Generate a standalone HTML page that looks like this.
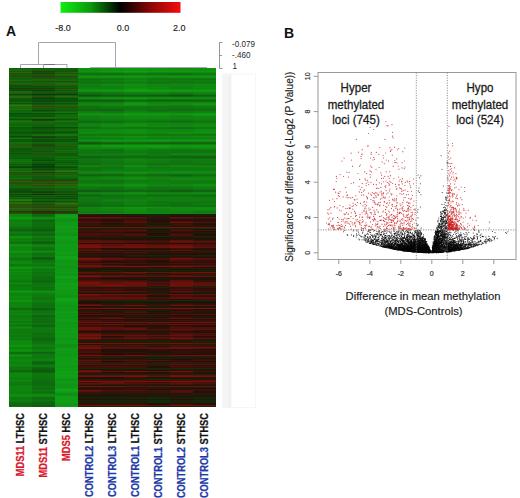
<!DOCTYPE html>
<html><head><meta charset="utf-8"><style>
html,body{margin:0;padding:0;background:#fff;}
body{width:520px;height:498px;position:relative;overflow:hidden;font-family:"Liberation Sans",sans-serif;}
.hc{position:absolute;top:68px;width:23px;height:339px;}
svg{position:absolute;left:0;top:0;}
</style></head><body>
<div class="hc" style="left:9px;background:linear-gradient(#0d630a 0px 1px,#0f6a0a 1px 2px,#325a0c 2px 3px,#0f5c0a 3px 4px,#3a5d0c 4px 5px,#0e590a 5px 6px,#23500b 6px 7px,#0a5f0a 7px 8px,#0e580a 8px 9px,#28560b 9px 10px,#0a610a 10px 11px,#1c5d0b 11px 12px,#2f600c 12px 13px,#0f5c0a 13px 14px,#0e630a 14px 15px,#0f6e0a 15px 16px,#374c0c 16px 17px,#0a570a 17px 18px,#0c4a0a 18px 19px,#0e560a 19px 20px,#0b430a 20px 21px,#22440b 21px 22px,#0c4c0a 22px 23px,#116e0a 23px 24px,#106a0a 24px 25px,#33540c 25px 26px,#10420a 26px 27px,#105c0a 27px 28px,#3a5f0c 28px 29px,#13700a 29px 30px,#12560a 30px 31px,#0e540a 31px 32px,#0c500a 32px 33px,#0d5a0a 33px 34px,#0a680a 34px 35px,#0a540a 35px 36px,#136d0a 36px 37px,#39740c 37px 38px,#2e600c 38px 39px,#26610b 39px 40px,#126e0a 40px 41px,#15740a 41px 42px,#14620a 42px 43px,#0e660a 43px 44px,#0b6d0a 44px 45px,#094a0a 45px 46px,#065e0a 46px 47px,#07580a 47px 48px,#0b570a 48px 49px,#0c750a 49px 50px,#0c630a 50px 51px,#104f0a 51px 52px,#146b0a 52px 53px,#326e0c 53px 54px,#11680a 54px 55px,#106f0a 55px 56px,#0d620a 56px 57px,#0d6a0a 57px 58px,#0e740a 58px 59px,#0c580a 59px 60px,#0a5f0a 60px 61px,#0b580a 61px 62px,#0f670a 62px 63px,#11580a 63px 64px,#0e530a 64px 65px,#0d590a 65px 66px,#0b670a 66px 67px,#09660a 67px 68px,#0b4b0a 68px 69px,#135a0a 69px 70px,#16760a 70px 71px,#11540a 71px 72px,#0e590a 72px 74px,#0f6e0a 74px 75px,#106f0a 75px 76px,#10640a 76px 77px,#2d570c 77px 78px,#37500c 78px 79px,#0d6d0a 79px 80px,#0a580a 80px 81px,#09560a 81px 82px,#095e0a 82px 83px,#0a5a0a 83px 84px,#1d580b 84px 85px,#0c530a 85px 86px,#0e630a 86px 87px,#0e5e0a 87px 88px,#0a690a 88px 89px,#09620a 89px 90px,#0c5f0a 90px 91px,#11710a 91px 92px,#146c0a 92px 93px,#12770a 93px 94px,#10680a 94px 95px,#0f6d0a 95px 96px,#0e560a 96px 97px,#0f6a0a 97px 98px,#0b4b0a 98px 99px,#0a450a 99px 100px,#136a0a 100px 101px,#14660a 101px 102px,#285f0b 102px 103px,#0d7b0a 103px 104px,#0e5a0a 104px 105px,#34510c 105px 106px,#0a5e0a 106px 107px,#2d5c0c 107px 108px,#0f630a 108px 109px,#11670a 109px 110px,#116d0a 110px 111px,#12620a 111px 112px,#244e0b 112px 113px,#32590c 113px 114px,#0b5f0a 114px 115px,#33440c 115px 116px,#2c580c 116px 117px,#26570b 117px 118px,#0e6f0a 118px 119px,#0e660a 119px 120px,#0d5e0a 120px 121px,#0b4c0a 121px 122px,#0b580a 122px 123px,#0c440a 123px 124px,#0d4b0a 124px 125px,#285b0b 125px 126px,#10450a 126px 127px,#0c640a 127px 128px,#0b4c0a 128px 129px,#0d6b0a 129px 130px,#0f5d0a 130px 131px,#14780a 131px 132px,#3e6e0c 132px 133px,#135d0a 133px 134px,#0f730a 134px 135px,#38670c 135px 136px,#1d580b 136px 137px,#2c510c 137px 138px,#2f520c 138px 139px,#2c4d0c 139px 140px,#216b0b 140px 141px,#30580c 141px 142px,#30560c 142px 143px,#0c460a 143px 144px,#26440b 144px 145px,#2c510b 145px 146px,#0e880e 146px 147px,#0e860e 147px 148px,#0e8a0e 148px 149px,#0e990e 149px 150px,#0e980e 150px 151px,#0e880e 151px 152px,#0e7f0e 152px 153px,#0e7d0e 153px 154px,#0e840e 154px 155px,#0e820e 155px 156px,#0e7e0e 156px 157px,#0e800e 157px 158px,#0e7a0e 158px 159px,#0e730e 159px 160px,#0e6f0e 160px 161px,#0e630e 161px 162px,#0e650e 162px 163px,#0e730e 163px 164px,#0e7d0e 164px 165px,#0e790e 165px 166px,#0e6e0e 166px 167px,#0e780e 167px 168px,#0e8e0e 168px 169px,#0e920e 169px 170px,#0e830e 170px 171px,#0e7b0e 171px 172px,#0e7f0e 172px 173px,#0e7c0e 173px 174px,#0e700e 174px 175px,#0e760e 175px 176px,#0e8f0e 176px 177px,#0e960e 177px 178px,#0e890e 178px 179px,#0e860e 179px 180px,#0e870e 180px 181px,#0e810e 181px 182px,#0e890e 182px 183px,#0e950e 183px 184px,#0e8f0e 184px 185px,#0e850e 185px 186px,#0e800e 186px 187px,#0e850e 187px 188px,#0e880e 188px 189px,#0e7c0e 189px 190px,#0e730e 190px 191px,#0e780e 191px 192px,#0e7f0e 192px 193px,#0e840e 193px 194px,#0e8c0e 194px 195px,#0e870e 195px 196px,#0e790e 196px 197px,#0e760e 197px 198px,#0e860e 198px 199px,#0e960e 199px 200px,#0e930e 200px 201px,#0e820e 201px 202px,#0e860e 202px 203px,#0e8f0e 203px 204px,#0e860e 204px 205px,#0e840e 205px 206px,#0e890e 206px 207px,#0e830e 207px 208px,#0e810e 208px 209px,#0e860e 209px 211px,#0e810e 211px 212px,#0e7b0e 212px 213px,#0e750e 213px 214px,#0e800e 214px 215px,#0e8a0e 215px 216px,#0e7c0e 216px 217px,#0e770e 217px 218px,#0e7d0e 218px 219px,#0e7e0e 219px 220px,#0e7d0e 220px 221px,#0e7c0e 221px 222px,#0e8b0e 222px 223px,#0e9a0e 223px 224px,#0e8f0e 224px 225px,#0e820e 225px 226px,#0e850e 226px 228px,#0e8b0e 228px 229px,#0e8f0e 229px 230px,#0e850e 230px 231px,#0e890e 231px 232px,#0e940e 232px 233px,#0e920e 233px 234px,#0e860e 234px 235px,#0e800e 235px 236px,#0e840e 236px 237px,#0e850e 237px 238px,#0e830e 238px 239px,#0e7d0e 239px 240px,#0e6c0e 240px 241px,#0e6b0e 241px 242px,#0e7f0e 242px 243px,#0e840e 243px 244px,#0e7c0e 244px 245px,#0e800e 245px 246px,#0e860e 246px 247px,#0e7c0e 247px 248px,#0e750e 248px 249px,#0e7e0e 249px 250px,#0e7f0e 250px 251px,#0e7e0e 251px 252px,#0e850e 252px 253px,#0e7a0e 253px 254px,#0e780e 254px 255px,#0e880e 255px 256px,#0e7f0e 256px 257px,#0e720e 257px 258px,#0e7e0e 258px 259px,#0e8b0e 259px 260px,#0e830e 260px 261px,#0e790e 261px 262px,#0e7c0e 262px 264px,#0e780e 264px 265px,#0e7c0e 265px 266px,#0e7d0e 266px 267px,#0e770e 267px 268px,#0e7a0e 268px 269px,#0e7f0e 269px 270px,#0e7c0e 270px 272px,#0e860e 272px 273px,#0e8b0e 273px 274px,#0e880e 274px 275px,#0e890e 275px 276px,#0e8c0e 276px 277px,#0e940e 277px 279px,#0e840e 279px 280px,#0e820e 280px 281px,#0e8b0e 281px 282px,#0e950e 282px 283px,#0e8b0e 283px 284px,#0e6e0e 284px 285px,#0e6d0e 285px 286px,#0e850e 286px 287px,#0e930e 287px 288px,#0e8a0e 288px 289px,#0e800e 289px 290px,#0e820e 290px 291px,#0e860e 291px 292px,#0e890e 292px 293px,#0e850e 293px 294px,#0e7e0e 294px 295px,#0e800e 295px 296px,#0e850e 296px 297px,#0e880e 297px 298px,#0e7f0e 298px 299px,#0e750e 299px 300px,#0e780e 300px 301px,#0e760e 301px 302px,#0e690e 302px 303px,#0e680e 303px 304px,#0e7a0e 304px 305px,#0e870e 305px 307px,#0e850e 307px 308px,#0e870e 308px 309px,#0e830e 309px 310px,#0e7b0e 310px 311px,#0e830e 311px 312px,#0e890e 312px 313px,#0e810e 313px 314px,#0e7a0e 314px 315px,#0e790e 315px 316px,#0e780e 316px 317px,#0e7e0e 317px 318px,#0e860e 318px 319px,#0e840e 319px 321px,#0e820e 321px 322px,#0e830e 322px 323px,#0e820e 323px 324px,#0e7f0e 324px 325px,#0e840e 325px 326px,#0e890e 326px 327px,#0e8f0e 327px 328px,#0e890e 328px 329px,#0e7a0e 329px 330px,#0e770e 330px 331px,#0e7b0e 331px 332px,#0e7d0e 332px 333px,#0e790e 333px 334px,#0e700e 334px 335px,#0e6a0e 335px 336px,#0e660e 336px 337px,#0e650e 337px 338px,#0e730e 338px 339px)"></div><div class="hc" style="left:32px;background:linear-gradient(#0f5b0a 0px 1px,#10610a 1px 2px,#2e520c 2px 3px,#0b4b0a 3px 4px,#27460c 4px 5px,#0b4a0a 5px 6px,#35470c 6px 7px,#0b580a 7px 8px,#0e4f0a 8px 9px,#204e0b 9px 10px,#0c5b0a 10px 11px,#3b570c 11px 12px,#235e0b 12px 13px,#11560a 13px 14px,#11600a 14px 15px,#11680a 15px 16px,#354d0c 16px 17px,#125e0a 17px 18px,#114b0a 18px 19px,#12530a 19px 20px,#10450a 20px 21px,#20470b 21px 22px,#0c420a 22px 23px,#0d5b0a 23px 24px,#0e5c0a 24px 25px,#1f4b0b 25px 26px,#0e340a 26px 27px,#10520a 27px 28px,#2f4f0c 28px 29px,#09510a 29px 30px,#0c3f0a 30px 31px,#0f4b0a 31px 32px,#0d480a 32px 33px,#0a4a0a 33px 34px,#095c0a 34px 35px,#0c4d0a 35px 36px,#0e5a0a 36px 37px,#275c0b 37px 38px,#36450c 38px 39px,#354e0c 39px 40px,#0f5e0a 40px 41px,#0f5c0a 41px 42px,#0c490a 42px 43px,#0e5b0a 43px 44px,#12700a 44px 45px,#0e490a 45px 46px,#0b5d0a 46px 47px,#0b560a 47px 48px,#0d500a 48px 49px,#12770a 49px 50px,#13660a 50px 51px,#0c3e0a 51px 52px,#0a4e0a 52px 53px,#375c0c 53px 54px,#13620a 54px 55px,#136b0a 55px 56px,#115f0a 56px 57px,#0d600a 57px 58px,#0b640a 58px 59px,#09480a 59px 60px,#0a540a 60px 61px,#0e550a 61px 62px,#10600a 62px 63px,#13510a 63px 64px,#104d0a 64px 65px,#0e510a 65px 66px,#116b0a 66px 67px,#14720a 67px 68px,#104a0a 68px 69px,#0c420a 69px 70px,#0f5e0a 70px 71px,#114a0a 71px 72px,#0e4e0a 72px 73px,#0d4b0a 73px 74px,#10660a 74px 75px,#0e620a 75px 76px,#0b510a 76px 77px,#2f420c 77px 78px,#25430b 78px 79px,#0e650a 79px 80px,#10590a 80px 81px,#125e0a 81px 82px,#0f600a 82px 83px,#0c540a 83px 84px,#31510c 84px 85px,#11540a 85px 86px,#11610a 86px 87px,#105a0a 87px 88px,#0d640a 88px 89px,#0c5e0a 89px 90px,#0e590a 90px 91px,#0a590a 91px 92px,#094c0a 92px 93px,#0d640a 93px 94px,#0d580a 94px 95px,#0b5a0a 95px 96px,#09410a 96px 97px,#08510a 97px 98px,#093e0a 98px 99px,#0c400a 99px 100px,#0c520a 100px 101px,#0a480a 101px 102px,#2e500c 102px 103px,#0b6c0a 103px 104px,#0b4b0a 104px 105px,#324c0c 105px 106px,#0d5a0a 106px 107px,#33540c 107px 108px,#105b0a 108px 109px,#0e590a 109px 110px,#0e5c0a 110px 111px,#10540a 111px 112px,#2c3e0b 112px 113px,#31500c 113px 114px,#0f5c0a 114px 115px,#36470c 115px 116px,#34570c 116px 117px,#34460c 117px 118px,#0e660a 118px 119px,#12650a 119px 120px,#115c0a 120px 121px,#114f0a 121px 122px,#145f0a 122px 123px,#11440a 123px 124px,#0d410a 124px 125px,#2b4b0c 125px 126px,#0d360a 126px 127px,#11630a 127px 128px,#124e0a 128px 129px,#0d610a 129px 130px,#0c4d0a 130px 131px,#0e620a 131px 132px,#1e560b 132px 133px,#0c460a 133px 134px,#0c630a 134px 135px,#1d5c0b 135px 136px,#234c0b 136px 137px,#214f0b 137px 138px,#2f4f0c 138px 139px,#23480b 139px 140px,#38590c 140px 141px,#244f0b 141px 142px,#334b0c 142px 143px,#0b3a0a 143px 144px,#302f0c 144px 145px,#28380c 145px 146px,#0e6c0e 146px 147px,#0e690e 147px 148px,#0e710e 148px 149px,#0e880e 149px 150px,#0e8e0e 150px 151px,#0e780e 151px 152px,#0e650e 152px 153px,#0e680e 153px 154px,#0e710e 154px 155px,#0e6e0e 155px 156px,#0e6d0e 156px 157px,#0e6f0e 157px 158px,#0e6b0e 158px 159px,#0e6a0e 159px 160px,#0e660e 160px 161px,#0e5c0e 161px 162px,#0e5d0e 162px 163px,#0e6a0e 163px 164px,#0e720e 164px 165px,#0e6b0e 165px 166px,#0e630e 166px 167px,#0e6e0e 167px 168px,#0e7c0e 168px 169px,#0e7b0e 169px 170px,#0e6f0e 170px 171px,#0e6e0e 171px 172px,#0e760e 172px 173px,#0e690e 173px 174px,#0e5a0e 174px 175px,#0e650e 175px 176px,#0e7b0e 176px 177px,#0e850e 177px 178px,#0e7f0e 178px 179px,#0e770e 179px 180px,#0e720e 180px 181px,#0e6f0e 181px 182px,#0e7d0e 182px 183px,#0e8d0e 183px 184px,#0e800e 184px 185px,#0e700e 185px 186px,#0e6f0e 186px 187px,#0e740e 187px 188px,#0e760e 188px 189px,#0e640e 189px 190px,#0e560e 190px 191px,#0e660e 191px 192px,#0e720e 192px 193px,#0e730e 193px 194px,#0e790e 194px 195px,#0e7f0e 195px 196px,#0e790e 196px 197px,#0e750e 197px 198px,#0e820e 198px 199px,#0e8a0e 199px 200px,#0e810e 200px 201px,#0e760e 201px 202px,#0e780e 202px 203px,#0e7b0e 203px 204px,#0e710e 204px 205px,#0e720e 205px 206px,#0e790e 206px 207px,#0e750e 207px 208px,#0e700e 208px 209px,#0e6f0e 209px 210px,#0e6c0e 210px 211px,#0e6b0e 211px 212px,#0e690e 212px 213px,#0e640e 213px 214px,#0e6c0e 214px 215px,#0e740e 215px 217px,#0e770e 217px 218px,#0e740e 218px 219px,#0e700e 219px 220px,#0e720e 220px 222px,#0e7f0e 222px 223px,#0e910e 223px 224px,#0e8d0e 224px 225px,#0e800e 225px 226px,#0e7c0e 226px 227px,#0e7b0e 227px 228px,#0e7a0e 228px 229px,#0e770e 229px 230px,#0e710e 230px 231px,#0e780e 231px 232px,#0e7c0e 232px 233px,#0e7d0e 233px 234px,#0e7b0e 234px 235px,#0e710e 235px 236px,#0e700e 236px 237px,#0e710e 237px 238px,#0e6f0e 238px 239px,#0e700e 239px 240px,#0e640e 240px 241px,#0e5d0e 241px 242px,#0e6d0e 242px 243px,#0e750e 243px 244px,#0e720e 244px 245px,#0e790e 245px 246px,#0e7a0e 246px 247px,#0e690e 247px 248px,#0e630e 248px 249px,#0e700e 249px 250px,#0e720e 250px 251px,#0e6b0e 251px 252px,#0e6d0e 252px 253px,#0e680e 253px 254px,#0e6b0e 254px 255px,#0e770e 255px 256px,#0e6f0e 256px 257px,#0e640e 257px 258px,#0e680e 258px 259px,#0e750e 259px 260px,#0e7b0e 260px 261px,#0e750e 261px 262px,#0e760e 262px 263px,#0e7b0e 263px 264px,#0e740e 264px 265px,#0e6d0e 265px 267px,#0e710e 267px 269px,#0e6c0e 269px 270px,#0e670e 270px 271px,#0e640e 271px 272px,#0e680e 272px 273px,#0e710e 273px 274px,#0e740e 274px 275px,#0e750e 275px 276px,#0e7a0e 276px 277px,#0e820e 277px 278px,#0e800e 278px 279px,#0e750e 279px 280px,#0e760e 280px 281px,#0e7c0e 281px 282px,#0e850e 282px 283px,#0e7b0e 283px 284px,#0e640e 284px 285px,#0e6a0e 285px 286px,#0e780e 286px 287px,#0e790e 287px 288px,#0e780e 288px 290px,#0e7d0e 290px 291px,#0e820e 291px 292px,#0e7e0e 292px 293px,#0e6f0e 293px 294px,#0e610e 294px 295px,#0e630e 295px 296px,#0e6d0e 296px 297px,#0e790e 297px 298px,#0e7a0e 298px 299px,#0e6b0e 299px 300px,#0e620e 300px 301px,#0e600e 301px 302px,#0e5b0e 302px 303px,#0e590e 303px 304px,#0e650e 304px 305px,#0e750e 305px 306px,#0e7a0e 306px 307px,#0e750e 307px 308px,#0e760e 308px 309px,#0e740e 309px 310px,#0e700e 310px 311px,#0e730e 311px 312px,#0e710e 312px 313px,#0e6c0e 313px 314px,#0e6a0e 314px 315px,#0e690e 315px 316px,#0e6a0e 316px 317px,#0e6f0e 317px 318px,#0e730e 318px 319px,#0e710e 319px 320px,#0e6d0e 320px 321px,#0e720e 321px 322px,#0e790e 322px 323px,#0e730e 323px 324px,#0e6e0e 324px 325px,#0e7a0e 325px 326px,#0e870e 326px 327px,#0e8d0e 327px 328px,#0e830e 328px 329px,#0e710e 329px 330px,#0e6c0e 330px 331px,#0e700e 331px 332px,#0e730e 332px 333px,#0e6e0e 333px 334px,#0e630e 334px 337px,#0e5a0e 337px 338px,#0e620e 338px 339px)"></div><div class="hc" style="left:55px;background:linear-gradient(#0e640a 0px 1px,#0a5f0a 1px 2px,#20510b 2px 3px,#0d590a 3px 4px,#32590c 4px 5px,#105c0a 5px 6px,#24650b 6px 7px,#106b0a 7px 8px,#0c560a 8px 9px,#2e520c 9px 10px,#0b630a 10px 11px,#205e0b 11px 12px,#395a0c 12px 13px,#0d570a 13px 14px,#0e640a 14px 15px,#12750a 15px 16px,#34580c 16px 17px,#12660a 17px 18px,#11550a 18px 19px,#125d0a 19px 20px,#12520a 20px 21px,#2b590b 21px 22px,#11570a 22px 23px,#0e660a 23px 24px,#0b5f0a 24px 25px,#1d500b 25px 26px,#0c390a 26px 27px,#115e0a 27px 28px,#33630c 28px 29px,#0e660a 29px 30px,#0d4b0a 30px 31px,#0c500a 31px 32px,#0a4c0a 32px 33px,#0a540a 33px 34px,#0b690a 34px 35px,#0a530a 35px 36px,#0c600a 36px 37px,#20690b 37px 38px,#30500c 38px 39px,#2c510c 39px 40px,#0c610a 40px 41px,#0f670a 41px 42px,#0f580a 42px 43px,#116b0a 43px 44px,#11790a 44px 45px,#0c500a 45px 46px,#0c6a0a 46px 47px,#116c0a 47px 48px,#12660a 48px 49px,#0d790a 49px 50px,#0d660a 50px 51px,#11510a 51px 52px,#12680a 52px 53px,#256f0b 53px 54px,#10650a 54px 55px,#0d6a0a 55px 56px,#0e640a 56px 57px,#11710a 57px 58px,#0c700a 58px 59px,#08500a 59px 60px,#0b600a 60px 61px,#10630a 61px 62px,#126d0a 62px 63px,#0f540a 63px 64px,#0e530a 64px 65px,#11630a 65px 66px,#12770a 66px 67px,#11770a 67px 68px,#11560a 68px 69px,#10540a 69px 70px,#0e660a 70px 71px,#0e4e0a 71px 72px,#0d570a 72px 73px,#0d560a 73px 74px,#0e6d0a 74px 75px,#0e6b0a 75px 76px,#10650a 76px 77px,#2d5c0b 77px 78px,#24510b 78px 79px,#0c6b0a 79px 80px,#0d5e0a 80px 81px,#10640a 81px 82px,#116d0a 82px 83px,#11680a 83px 84px,#23620b 84px 85px,#0e580a 85px 86px,#0c600a 86px 87px,#0b5a0a 87px 88px,#0e710a 88px 89px,#0f6d0a 89px 90px,#0f650a 90px 91px,#11720a 91px 92px,#0e600a 92px 93px,#08640a 93px 94px,#095a0a 94px 95px,#0c660a 95px 96px,#125d0a 96px 97px,#15750a 97px 98px,#10550a 98px 99px,#0d4c0a 99px 100px,#0e600a 100px 101px,#0f5d0a 101px 102px,#32660c 102px 103px,#11820a 103px 104px,#0f5d0a 104px 105px,#295a0b 105px 106px,#0e660a 106px 107px,#22670b 107px 108px,#126a0a 108px 109px,#10660a 109px 110px,#0c620a 110px 111px,#0b520a 111px 112px,#313c0c 112px 113px,#2c590c 113px 114px,#0f670a 114px 115px,#2d4f0c 115px 116px,#355f0c 116px 117px,#33580c 117px 118px,#11740a 118px 119px,#126d0a 119px 120px,#13690a 120px 121px,#125a0a 121px 122px,#11640a 122px 123px,#13510a 123px 124px,#11520a 124px 125px,#26560b 125px 126px,#0e420a 126px 127px,#0f690a 127px 128px,#0c4c0a 128px 129px,#09630a 129px 130px,#084e0a 130px 131px,#0a650a 131px 132px,#2c5c0c 132px 133px,#0d500a 133px 134px,#0d6f0a 134px 135px,#25730b 135px 136px,#3a5e0c 136px 137px,#205b0b 137px 138px,#1c590b 138px 139px,#224c0b 139px 140px,#27610c 140px 141px,#26530b 141px 142px,#37530c 142px 143px,#0c460a 143px 144px,#253f0b 144px 145px,#2b430c 145px 146px,#109716 146px 147px,#109c16 147px 148px,#10a116 148px 149px,#109e16 149px 150px,#109716 150px 151px,#109216 151px 152px,#109016 152px 153px,#109416 153px 154px,#109816 154px 155px,#109916 155px 156px,#109816 156px 158px,#109c16 158px 159px,#109e16 159px 160px,#109a16 160px 161px,#109716 161px 162px,#109816 162px 163px,#109a16 163px 164px,#109616 164px 165px,#109316 165px 166px,#109116 166px 167px,#109416 167px 168px,#109d16 168px 169px,#10a116 169px 170px,#109c16 170px 172px,#109b16 172px 173px,#109616 173px 174px,#109716 174px 175px,#109816 175px 176px,#109b16 176px 177px,#109c16 177px 178px,#109816 178px 179px,#109916 179px 180px,#109b16 180px 181px,#109916 181px 182px,#109b16 182px 183px,#109d16 183px 186px,#109a16 186px 187px,#109716 187px 188px,#109f16 188px 189px,#10a516 189px 190px,#10a216 190px 191px,#109d16 191px 192px,#109716 192px 193px,#109616 193px 195px,#109816 195px 196px,#109b16 196px 197px,#109916 197px 198px,#109516 198px 199px,#109316 199px 200px,#109716 200px 201px,#109916 201px 202px,#109716 202px 203px,#109a16 203px 204px,#109d16 204px 205px,#109716 205px 206px,#109316 206px 207px,#109816 207px 208px,#10a016 208px 209px,#10a316 209px 210px,#109d16 210px 211px,#109816 211px 212px,#109916 212px 213px,#109b16 213px 215px,#109f16 215px 216px,#10a116 216px 217px,#109e16 217px 218px,#109d16 218px 219px,#10a016 219px 220px,#109e16 220px 221px,#109b16 221px 223px,#109916 223px 224px,#109716 224px 225px,#109916 225px 226px,#109816 226px 227px,#109416 227px 228px,#109216 228px 229px,#109716 229px 230px,#10a016 230px 231px,#10a416 231px 232px,#10a116 232px 233px,#109e16 233px 234px,#109a16 234px 235px,#109916 235px 237px,#109516 237px 239px,#109816 239px 240px,#109716 240px 242px,#109916 242px 243px,#109b16 243px 244px,#109d16 244px 245px,#109b16 245px 246px,#109916 246px 247px,#109a16 247px 248px,#109916 248px 249px,#109716 249px 250px,#109916 250px 251px,#109d16 251px 252px,#109f16 252px 253px,#109c16 253px 254px,#109616 254px 255px,#109516 255px 256px,#109816 256px 257px,#109916 257px 258px,#109816 258px 259px,#109916 259px 260px,#109c16 260px 261px,#109a16 261px 262px,#109916 262px 263px,#109e16 263px 265px,#109b16 265px 268px,#109c16 268px 269px,#109a16 269px 270px,#109616 270px 272px,#109716 272px 273px,#109a16 273px 274px,#109b16 274px 275px,#109a16 275px 276px,#109216 276px 277px,#108e16 277px 278px,#109116 278px 279px,#109416 279px 280px,#109a16 280px 281px,#109e16 281px 282px,#109c16 282px 283px,#109916 283px 285px,#109816 285px 286px,#109716 286px 287px,#109616 287px 288px,#109816 288px 289px,#109c16 289px 290px,#109d16 290px 292px,#109b16 292px 293px,#109a16 293px 295px,#109d16 295px 296px,#109e16 296px 297px,#109b16 297px 298px,#109716 298px 299px,#109916 299px 300px,#109e16 300px 301px,#109b16 301px 303px,#10a016 303px 304px,#10a116 304px 305px,#109d16 305px 307px,#10a216 307px 308px,#10a016 308px 309px,#109c16 309px 310px,#109816 310px 311px,#109316 311px 312px,#109416 312px 313px,#109a16 313px 314px,#109c16 314px 315px,#109816 315px 316px,#109416 316px 317px,#109316 317px 318px,#109416 318px 319px,#109616 319px 320px,#109c16 320px 321px,#10a416 321px 322px,#10a616 322px 323px,#10a016 323px 324px,#109816 324px 325px,#109116 325px 326px,#108d16 326px 327px,#109216 327px 328px,#109a16 328px 329px,#109e16 329px 331px,#109d16 331px 333px,#109f16 333px 334px,#109e16 334px 335px,#109816 335px 336px,#109516 336px 337px,#109716 337px 338px,#109d16 338px 339px)"></div><div class="hc" style="left:78px;background:linear-gradient(#109410 0px 1px,#108e10 1px 3px,#109310 3px 4px,#108410 4px 5px,#107310 5px 6px,#107110 6px 7px,#108210 7px 8px,#109410 8px 9px,#108e10 9px 10px,#107910 10px 11px,#107010 11px 12px,#107710 12px 13px,#107610 13px 14px,#107010 14px 15px,#107a10 15px 16px,#108210 16px 17px,#107c10 17px 19px,#108110 19px 20px,#108210 20px 21px,#108e10 21px 22px,#109710 22px 23px,#108a10 23px 24px,#107610 24px 25px,#106f10 25px 26px,#106510 26px 27px,#105410 27px 28px,#106510 28px 29px,#108610 29px 30px,#108a10 30px 31px,#107110 31px 32px,#105b10 32px 33px,#106710 33px 34px,#107a10 34px 35px,#108610 35px 36px,#108810 36px 37px,#107e10 37px 38px,#107110 38px 39px,#107010 39px 40px,#107110 40px 41px,#106610 41px 42px,#106a10 42px 43px,#107910 43px 44px,#108110 44px 45px,#108d10 45px 46px,#109610 46px 47px,#108b10 47px 48px,#107e10 48px 50px,#107f10 50px 51px,#107c10 51px 52px,#107510 52px 53px,#106910 53px 54px,#106e10 54px 55px,#107f10 55px 56px,#108210 56px 57px,#108410 57px 58px,#107f10 58px 59px,#106f10 59px 60px,#107510 60px 61px,#108610 61px 62px,#108710 62px 63px,#108610 63px 64px,#108d10 64px 65px,#108710 65px 66px,#107710 66px 67px,#107a10 67px 68px,#108710 68px 69px,#108010 69px 70px,#107810 70px 71px,#108810 71px 72px,#109310 72px 73px,#108110 73px 74px,#106010 74px 75px,#105510 75px 76px,#107210 76px 77px,#109010 77px 79px,#108810 79px 80px,#108310 80px 81px,#107910 81px 82px,#107210 82px 83px,#107710 83px 84px,#107510 84px 85px,#107610 85px 86px,#107f10 86px 87px,#107510 87px 88px,#106610 88px 89px,#106410 89px 90px,#106f10 90px 91px,#107710 91px 92px,#107310 92px 93px,#107110 93px 95px,#106a10 95px 96px,#106b10 96px 97px,#107e10 97px 98px,#108210 98px 99px,#107410 99px 100px,#107110 100px 101px,#107010 101px 102px,#107510 102px 103px,#108010 103px 104px,#108610 104px 105px,#108110 105px 106px,#106810 106px 107px,#106410 107px 108px,#107410 108px 109px,#107c10 109px 110px,#108210 110px 111px,#107e10 111px 112px,#107610 112px 113px,#107510 113px 114px,#107610 114px 115px,#107d10 115px 116px,#108910 116px 118px,#107f10 118px 119px,#107610 119px 120px,#107510 120px 121px,#107310 121px 122px,#105d10 122px 124px,#107d10 124px 125px,#108310 125px 126px,#106f10 126px 127px,#106810 127px 128px,#106e10 128px 129px,#107810 129px 130px,#107c10 130px 131px,#107410 131px 132px,#107710 132px 133px,#107810 133px 134px,#106f10 134px 135px,#107010 135px 136px,#106c10 136px 137px,#106410 137px 138px,#107010 138px 139px,#108410 139px 140px,#108210 140px 141px,#108110 141px 142px,#108410 142px 143px,#107810 143px 144px,#107910 144px 145px,#108810 145px 146px,#3b0f0a 146px 147px,#1f1508 147px 148px,#290e0a 148px 149px,#6a110a 149px 150px,#52100a 150px 151px,#221108 151px 152px,#3b0f0a 152px 153px,#410f0a 153px 154px,#54100a 154px 155px,#380f0a 155px 156px,#410f0a 156px 157px,#1b1e08 157px 158px,#1f1508 158px 159px,#78120a 159px 160px,#152808 160px 161px,#2e0f0a 161px 162px,#4a100a 162px 163px,#3b0f0a 163px 164px,#2e0f0a 164px 165px,#47100a 165px 166px,#4b100a 166px 167px,#46100a 167px 168px,#1a1f08 168px 169px,#3a0f0a 169px 170px,#221008 170px 171px,#370f0a 171px 172px,#58100a 172px 173px,#5c110a 173px 174px,#5f110a 174px 175px,#2a0e0a 175px 176px,#68110a 176px 177px,#77120a 177px 178px,#72120a 178px 179px,#7a120a 179px 180px,#46100a 180px 181px,#45100a 181px 182px,#69110a 182px 183px,#1f1508 183px 184px,#4e100a 184px 185px,#2b0e0a 185px 186px,#320f0a 186px 187px,#1a1f08 187px 188px,#201308 188px 189px,#46100a 189px 190px,#7a120a 190px 192px,#4b100a 192px 193px,#48100a 193px 194px,#290e0a 194px 195px,#5a110a 195px 196px,#43100a 196px 197px,#6c110a 197px 198px,#7a120a 198px 199px,#48100a 199px 200px,#1c1b08 200px 201px,#230e0a 201px 202px,#1d1908 202px 203px,#1c1c08 203px 204px,#60110a 204px 205px,#4a100a 205px 206px,#1f1508 206px 207px,#6a110a 207px 208px,#7a120a 208px 209px,#45100a 209px 210px,#300f0a 210px 211px,#380f0a 211px 212px,#48100a 212px 213px,#59100a 213px 214px,#79120a 214px 215px,#74120a 215px 216px,#68110a 216px 217px,#74120a 217px 218px,#57100a 218px 219px,#1b1d08 219px 220px,#390f0a 220px 221px,#44100a 221px 222px,#211208 222px 223px,#5c110a 223px 224px,#340f0a 224px 225px,#201508 225px 226px,#77120a 226px 227px,#62110a 227px 228px,#4a100a 228px 229px,#5b110a 229px 230px,#62110a 230px 231px,#4f100a 231px 232px,#162708 232px 233px,#211208 233px 234px,#230e0a 234px 235px,#211108 235px 236px,#55100a 236px 237px,#73120a 237px 238px,#270e0a 238px 239px,#1f1608 239px 240px,#7a120a 240px 241px,#2d0e0a 241px 242px,#1d1a08 242px 243px,#410f0a 243px 244px,#48100a 244px 245px,#201408 245px 246px,#59110a 246px 247px,#270e0a 247px 248px,#201508 248px 249px,#3e0f0a 249px 250px,#50100a 250px 251px,#211208 251px 252px,#4d100a 252px 253px,#400f0a 253px 254px,#7a120a 254px 255px,#1f1508 255px 256px,#62110a 256px 257px,#360f0a 257px 258px,#430f0a 258px 259px,#6e110a 259px 260px,#69110a 260px 261px,#6c110a 261px 262px,#47100a 262px 263px,#201408 263px 264px,#211108 264px 265px,#5f110a 265px 266px,#62110a 266px 267px,#7a120a 267px 268px,#59110a 268px 269px,#77120a 269px 270px,#7a120a 270px 271px,#46100a 271px 272px,#192008 272px 273px,#1b1c08 273px 274px,#1e1808 274px 275px,#7a120a 275px 276px,#221008 276px 277px,#6f110a 277px 278px,#4f100a 278px 279px,#7a120a 279px 280px,#6d110a 280px 281px,#410f0a 281px 282px,#380f0a 282px 283px,#44100a 283px 284px,#4a100a 284px 285px,#2d0e0a 285px 286px,#390f0a 286px 287px,#73120a 287px 288px,#1b1e08 288px 289px,#53100a 289px 290px,#201408 290px 291px,#3e0f0a 291px 292px,#63110a 292px 293px,#420f0a 293px 294px,#57100a 294px 295px,#182308 295px 296px,#5a110a 296px 297px,#1f1608 297px 298px,#44100a 298px 299px,#3c0f0a 299px 300px,#132c08 300px 301px,#290e0a 301px 302px,#5f110a 302px 303px,#7a120a 303px 304px,#45100a 304px 305px,#370f0a 305px 306px,#182208 306px 307px,#60110a 307px 308px,#6f120a 308px 309px,#260e0a 309px 310px,#211108 310px 311px,#182408 311px 312px,#47100a 312px 313px,#7a120a 313px 314px,#400f0a 314px 315px,#64110a 315px 316px,#4f100a 316px 317px,#201408 317px 318px,#74120a 318px 319px,#1d1a08 319px 320px,#270e0a 320px 321px,#3d0f0a 321px 322px,#68110a 322px 323px,#55100a 323px 324px,#3f0f0a 324px 325px,#1d1908 325px 326px,#192008 326px 327px,#221008 327px 328px,#1d1908 328px 329px,#1c1c08 329px 331px,#211208 331px 332px,#172408 332px 333px,#1a1f08 333px 334px,#182308 334px 335px,#310f0a 335px 336px,#390f0a 336px 337px,#7a120a 337px 338px,#182208 338px 339px)"></div><div class="hc" style="left:101px;background:linear-gradient(#109810 0px 1px,#109410 1px 2px,#109710 2px 3px,#109910 3px 4px,#108710 4px 5px,#107310 5px 6px,#107010 6px 7px,#108510 7px 8px,#109710 8px 9px,#108f10 9px 10px,#107c10 10px 11px,#107510 11px 12px,#107c10 12px 14px,#107310 14px 15px,#107c10 15px 16px,#108910 16px 17px,#108510 17px 18px,#108210 18px 19px,#108010 19px 21px,#108d10 21px 22px,#109a10 22px 23px,#109110 23px 24px,#107c10 24px 25px,#107510 25px 26px,#107010 26px 27px,#105b10 27px 28px,#106810 28px 29px,#108c10 29px 30px,#109110 30px 31px,#107510 31px 32px,#105c10 32px 33px,#106610 33px 34px,#107a10 34px 35px,#108610 35px 36px,#108b10 36px 37px,#108610 37px 38px,#107a10 38px 39px,#107610 39px 40px,#107410 40px 41px,#106610 41px 42px,#106910 42px 43px,#107510 43px 44px,#107b10 44px 45px,#108b10 45px 46px,#109610 46px 47px,#108d10 47px 48px,#108310 48px 49px,#108510 49px 50px,#108310 50px 51px,#107d10 51px 52px,#107910 52px 53px,#106e10 53px 54px,#107110 54px 55px,#108510 55px 56px,#108b10 56px 57px,#108c10 57px 58px,#108a10 58px 59px,#107b10 59px 60px,#107910 60px 61px,#108610 61px 62px,#108b10 62px 63px,#108a10 63px 64px,#108c10 64px 65px,#108510 65px 66px,#107610 66px 67px,#107a10 67px 68px,#108b10 68px 69px,#108510 69px 70px,#107910 70px 71px,#108810 71px 72px,#109810 72px 73px,#108d10 73px 74px,#106d10 74px 75px,#106010 75px 76px,#107d10 76px 77px,#109b10 77px 78px,#109910 78px 79px,#108f10 79px 80px,#108510 80px 81px,#107810 81px 82px,#106e10 82px 83px,#107210 83px 84px,#107510 84px 85px,#107810 85px 86px,#108010 86px 87px,#107810 87px 88px,#106c10 88px 89px,#106910 89px 90px,#107310 90px 91px,#107f10 91px 92px,#107c10 92px 93px,#107710 93px 95px,#107510 95px 96px,#107610 96px 97px,#107e10 97px 98px,#107c10 98px 99px,#107210 99px 100px,#107510 100px 101px,#107810 101px 102px,#107d10 102px 103px,#108510 103px 104px,#108910 104px 105px,#108210 105px 106px,#106910 106px 107px,#106610 107px 108px,#107910 108px 109px,#108510 109px 110px,#108910 110px 111px,#107d10 111px 112px,#107310 112px 113px,#107410 113px 115px,#107910 115px 116px,#108710 116px 117px,#108a10 117px 118px,#107f10 118px 119px,#107310 119px 120px,#107110 120px 121px,#106f10 121px 122px,#106110 122px 123px,#106510 123px 124px,#108210 124px 125px,#108810 125px 126px,#107810 126px 127px,#107110 127px 128px,#107010 128px 129px,#107110 129px 130px,#107a10 130px 131px,#107d10 131px 132px,#108010 132px 133px,#107d10 133px 134px,#107210 134px 135px,#107710 135px 136px,#107510 136px 137px,#106a10 137px 138px,#107710 138px 139px,#108d10 139px 140px,#108a10 140px 141px,#108410 141px 142px,#108710 142px 143px,#107d10 143px 145px,#108c10 145px 146px,#290e0a 146px 147px,#1d1a08 147px 148px,#2c0e0a 148px 149px,#65110a 149px 150px,#48100a 150px 151px,#201408 151px 152px,#270e0a 152px 153px,#2e0f0a 153px 154px,#44100a 154px 155px,#221108 155px 156px,#2d0f0a 156px 157px,#192108 157px 158px,#1d1908 158px 159px,#74120a 159px 160px,#162608 160px 161px,#350f0a 161px 162px,#55100a 162px 163px,#420f0a 163px 164px,#2c0e0a 164px 165px,#420f0a 165px 166px,#400f0a 166px 167px,#3f0f0a 167px 168px,#1a2008 168px 169px,#340f0a 169px 170px,#201408 170px 171px,#270e0a 171px 172px,#4a100a 172px 173px,#59110a 173px 174px,#5c110a 174px 175px,#230e0a 175px 176px,#5e110a 176px 178px,#65110a 178px 179px,#74120a 179px 180px,#230e0a 180px 181px,#270e0a 181px 182px,#59110a 182px 183px,#1d1a08 183px 184px,#48100a 184px 185px,#221008 185px 186px,#340f0a 186px 187px,#1e1808 187px 188px,#240e0a 188px 189px,#3e0f0a 189px 190px,#5d110a 190px 191px,#60110a 191px 192px,#360f0a 192px 193px,#2b0e0a 193px 194px,#201408 194px 195px,#4d100a 195px 196px,#290e0a 196px 197px,#4b100a 197px 198px,#7a120a 198px 199px,#330f0a 199px 200px,#1c1b08 200px 201px,#201408 201px 202px,#192008 202px 203px,#1c1c08 203px 204px,#64110a 204px 205px,#390f0a 205px 206px,#1a1f08 206px 207px,#51100a 207px 208px,#6e110a 208px 209px,#2c0e0a 209px 210px,#221008 210px 211px,#320f0a 211px 212px,#48100a 212px 213px,#4f100a 213px 214px,#5c110a 214px 215px,#5f110a 215px 216px,#6b110a 216px 217px,#7a120a 217px 218px,#6d110a 218px 219px,#1e1708 219px 220px,#380f0a 220px 221px,#44100a 221px 222px,#290e0a 222px 223px,#63110a 223px 224px,#380f0a 224px 225px,#211208 225px 226px,#6b110a 226px 227px,#4d100a 227px 228px,#48100a 228px 229px,#63110a 229px 230px,#65110a 230px 231px,#4a100a 231px 232px,#132b08 232px 233px,#1f1508 233px 234px,#201408 234px 235px,#1b1c08 235px 236px,#360f0a 236px 237px,#5c110a 237px 238px,#1f1508 238px 239px,#1c1b08 239px 240px,#7a120a 240px 241px,#240e0a 241px 242px,#1b1e08 242px 243px,#2f0f0a 243px 244px,#370f0a 244px 245px,#1e1808 245px 246px,#51100a 246px 247px,#230e0a 247px 248px,#201408 248px 249px,#4d100a 249px 250px,#62110a 250px 251px,#221108 251px 252px,#430f0a 252px 253px,#310f0a 253px 254px,#7a120a 254px 255px,#211208 255px 256px,#68110a 256px 257px,#350f0a 257px 258px,#390f0a 258px 259px,#5b110a 259px 260px,#58100a 260px 261px,#57100a 261px 262px,#370f0a 262px 263px,#240e0a 263px 264px,#211108 264px 265px,#3c0f0a 265px 266px,#43100a 266px 267px,#60110a 267px 268px,#260e0a 268px 269px,#390f0a 269px 270px,#57100a 270px 271px,#320f0a 271px 272px,#192008 272px 273px,#1c1c08 273px 274px,#1a1e08 274px 275px,#6d110a 275px 276px,#1b1d08 276px 277px,#52100a 277px 278px,#390f0a 278px 279px,#64110a 279px 280px,#4d100a 280px 281px,#260e0a 281px 282px,#211208 282px 283px,#220e0a 283px 284px,#330f0a 284px 285px,#230e0a 285px 286px,#250e0a 286px 287px,#5d110a 287px 288px,#172408 288px 289px,#400f0a 289px 290px,#1e1808 290px 291px,#310f0a 291px 292px,#4f100a 292px 293px,#230e0a 293px 294px,#3d0f0a 294px 295px,#162608 295px 296px,#59100a 296px 297px,#211208 297px 298px,#4e100a 298px 299px,#3a0f0a 299px 300px,#122e08 300px 301px,#201408 301px 302px,#360f0a 302px 303px,#5c110a 303px 304px,#270e0a 304px 305px,#300f0a 305px 306px,#172408 306px 307px,#5c110a 307px 308px,#70120a 308px 309px,#250e0a 309px 310px,#221008 310px 311px,#172408 311px 312px,#420f0a 312px 313px,#7a120a 313px 314px,#5e110a 314px 315px,#67110a 315px 316px,#430f0a 316px 317px,#1f1608 317px 318px,#6d110a 318px 319px,#1a1f08 319px 320px,#211208 320px 321px,#350f0a 321px 322px,#51100a 322px 323px,#400f0a 323px 324px,#3d0f0a 324px 325px,#1d1908 325px 326px,#192108 326px 327px,#220e0a 327px 328px,#1c1b08 328px 329px,#192208 329px 330px,#182208 330px 331px,#1f1608 331px 332px,#172508 332px 333px,#192108 333px 334px,#152808 334px 335px,#2f0f0a 335px 336px,#380f0a 336px 337px,#79120a 337px 338px,#182308 338px 339px)"></div><div class="hc" style="left:124px;background:linear-gradient(#109b10 0px 1px,#109610 1px 2px,#109910 2px 3px,#10a010 3px 4px,#109110 4px 5px,#107a10 5px 6px,#107810 6px 7px,#108b10 7px 8px,#109910 8px 9px,#109410 9px 10px,#108510 10px 11px,#107f10 11px 12px,#108810 12px 13px,#108410 13px 14px,#107a10 14px 15px,#108610 15px 16px,#109010 16px 17px,#108c10 17px 20px,#108f10 20px 21px,#109c10 21px 22px,#10a410 22px 23px,#109710 23px 24px,#108310 24px 25px,#107b10 25px 26px,#107210 26px 27px,#105e10 27px 28px,#106b10 28px 29px,#108e10 29px 30px,#109610 30px 31px,#107e10 31px 32px,#106910 32px 33px,#107710 33px 34px,#108b10 34px 35px,#109810 35px 36px,#109910 36px 37px,#108c10 37px 38px,#107a10 38px 39px,#107310 39px 40px,#107710 40px 41px,#107310 41px 42px,#107910 42px 43px,#108110 43px 44px,#108710 44px 45px,#109710 45px 46px,#109d10 46px 47px,#109210 47px 48px,#108a10 48px 49px,#108c10 49px 50px,#108b10 50px 51px,#108410 51px 52px,#107d10 52px 53px,#107710 53px 54px,#107d10 54px 55px,#108d10 55px 56px,#109110 56px 57px,#109410 57px 58px,#108c10 58px 59px,#107510 59px 60px,#107810 60px 61px,#108c10 61px 62px,#109010 62px 63px,#108e10 63px 64px,#109210 64px 65px,#108b10 65px 66px,#107b10 66px 67px,#107d10 67px 68px,#109010 68px 69px,#108e10 69px 70px,#108310 70px 71px,#108e10 71px 72px,#109810 72px 73px,#108d10 73px 74px,#107310 74px 75px,#106810 75px 76px,#108210 76px 77px,#109c10 77px 78px,#109a10 78px 79px,#109410 79px 80px,#108e10 80px 81px,#108610 81px 82px,#107e10 82px 83px,#107b10 83px 84px,#107a10 84px 85px,#108110 85px 86px,#108610 86px 87px,#107710 87px 88px,#106a10 88px 89px,#106c10 89px 90px,#107b10 90px 91px,#108610 91px 92px,#108410 92px 93px,#108210 93px 94px,#108010 94px 95px,#107910 95px 97px,#108a10 97px 98px,#108e10 98px 99px,#108110 99px 100px,#108010 100px 101px,#107d10 101px 103px,#108810 103px 104px,#109110 104px 105px,#108d10 105px 106px,#107610 106px 107px,#107210 107px 108px,#108110 108px 109px,#108a10 109px 110px,#108f10 110px 111px,#108510 111px 112px,#107c10 112px 113px,#107d10 113px 115px,#108510 115px 116px,#109110 116px 117px,#109210 117px 118px,#108a10 118px 119px,#107e10 119px 120px,#107b10 120px 121px,#107810 121px 122px,#106710 122px 123px,#106b10 123px 124px,#108910 124px 125px,#109210 125px 126px,#108010 126px 127px,#107610 127px 128px,#107710 128px 129px,#107a10 129px 130px,#108110 130px 131px,#108010 131px 132px,#108310 132px 134px,#107b10 134px 135px,#108210 135px 136px,#108010 136px 137px,#107310 137px 138px,#107d10 138px 139px,#109410 139px 140px,#109310 140px 141px,#108b10 141px 142px,#108f10 142px 143px,#108a10 143px 144px,#108510 144px 145px,#108d10 145px 146px,#1f1608 146px 147px,#192008 147px 148px,#211208 148px 149px,#5b110a 149px 150px,#4b100a 150px 151px,#310f0a 151px 152px,#48100a 152px 153px,#47100a 153px 154px,#5a110a 154px 155px,#310f0a 155px 156px,#3c0f0a 156px 157px,#1b1e08 157px 158px,#201408 158px 159px,#7a120a 159px 160px,#192108 160px 161px,#3a0f0a 161px 162px,#56100a 162px 163px,#3c0f0a 163px 164px,#250e0a 164px 165px,#46100a 165px 166px,#4f100a 166px 167px,#44100a 167px 168px,#182208 168px 169px,#2d0e0a 169px 170px,#1e1708 170px 171px,#211208 171px 172px,#420f0a 172px 173px,#4f100a 173px 174px,#50100a 174px 175px,#221008 175px 176px,#67110a 176px 177px,#6b110a 177px 178px,#67110a 178px 179px,#77120a 179px 180px,#2f0f0a 180px 181px,#221008 181px 182px,#4d100a 182px 183px,#1c1b08 183px 184px,#50100a 184px 185px,#330f0a 185px 186px,#2c0e0a 186px 187px,#172408 187px 188px,#1d1908 188px 189px,#2d0f0a 189px 190px,#50100a 190px 191px,#52100a 191px 192px,#320f0a 192px 193px,#360f0a 193px 194px,#211308 194px 195px,#48100a 195px 196px,#220e0a 196px 197px,#3e0f0a 197px 198px,#79120a 198px 199px,#420f0a 199px 200px,#1d1908 200px 201px,#211308 201px 202px,#1c1b08 202px 203px,#1f1608 203px 204px,#7a120a 204px 205px,#49100a 205px 206px,#1b1d08 206px 207px,#53100a 207px 208px,#63110a 208px 209px,#201408 209px 210px,#1e1808 210px 211px,#240e0a 211px 212px,#420f0a 212px 213px,#4d100a 213px 214px,#68110a 214px 215px,#70120a 215px 216px,#65110a 216px 217px,#6a110a 217px 218px,#5e110a 218px 219px,#1e1808 219px 220px,#310f0a 220px 221px,#320f0a 221px 222px,#211208 222px 223px,#5c110a 223px 224px,#2f0f0a 224px 225px,#201408 225px 226px,#6d110a 226px 227px,#4c100a 227px 228px,#400f0a 228px 229px,#62110a 229px 230px,#68110a 230px 231px,#47100a 231px 232px,#122e08 232px 233px,#1d1a08 233px 234px,#1e1708 234px 235px,#1b1d08 235px 236px,#350f0a 236px 237px,#6f110a 237px 238px,#300f0a 238px 239px,#1d1908 239px 240px,#7a120a 240px 241px,#201408 241px 242px,#1c1c08 242px 243px,#46100a 243px 244px,#4e100a 244px 245px,#201308 245px 246px,#48100a 246px 247px,#1d1908 247px 248px,#1a1e08 248px 249px,#2d0f0a 249px 250px,#4f100a 250px 251px,#201408 251px 252px,#360f0a 252px 253px,#2d0e0a 253px 254px,#7a120a 254px 255px,#1e1708 255px 256px,#5b110a 256px 257px,#250e0a 257px 258px,#221008 258px 259px,#49100a 259px 260px,#5e110a 260px 261px,#6c110a 261px 262px,#350f0a 262px 263px,#1f1608 263px 264px,#201308 264px 265px,#420f0a 265px 266px,#430f0a 266px 267px,#68110a 267px 268px,#44100a 268px 269px,#59110a 269px 270px,#69110a 270px 271px,#350f0a 271px 272px,#192108 272px 273px,#1c1b08 273px 274px,#1b1d08 274px 275px,#73120a 275px 276px,#1e1708 276px 277px,#5b110a 277px 278px,#390f0a 278px 279px,#63110a 279px 280px,#4a100a 280px 281px,#230e0a 281px 282px,#211308 282px 283px,#250e0a 283px 284px,#330f0a 284px 285px,#201508 285px 286px,#250e0a 286px 287px,#74120a 287px 288px,#182208 288px 289px,#3a0f0a 289px 290px,#1f1608 290px 291px,#350f0a 291px 292px,#52100a 292px 293px,#340f0a 293px 294px,#4a100a 294px 295px,#172408 295px 296px,#5a110a 296px 297px,#1e1808 297px 298px,#400f0a 298px 299px,#3f0f0a 299px 300px,#142b08 300px 301px,#1e1708 301px 302px,#310f0a 302px 303px,#6e110a 303px 304px,#330f0a 304px 305px,#2c0e0a 305px 306px,#192208 306px 307px,#68110a 307px 308px,#7a120a 308px 309px,#3a0f0a 309px 310px,#2f0f0a 310px 311px,#192108 311px 312px,#4c100a 312px 313px,#7a120a 313px 314px,#400f0a 314px 315px,#5b110a 315px 316px,#3c0f0a 316px 317px,#1b1d08 317px 318px,#5e110a 318px 319px,#1d1908 319px 320px,#360f0a 320px 321px,#3a0f0a 321px 322px,#4c100a 322px 323px,#3d0f0a 323px 324px,#420f0a 324px 325px,#1f1608 325px 326px,#1a2008 326px 327px,#280e0a 327px 328px,#1d1a08 328px 329px,#182208 329px 330px,#192108 330px 331px,#1f1608 331px 332px,#152808 332px 333px,#1a1f08 333px 334px,#182208 334px 335px,#350f0a 335px 336px,#3a0f0a 336px 337px,#76120a 337px 338px,#182308 338px 339px)"></div><div class="hc" style="left:147px;background:linear-gradient(#109610 0px 1px,#109310 1px 2px,#109710 2px 3px,#109a10 3px 4px,#108710 4px 5px,#107510 5px 7px,#108610 7px 8px,#109510 8px 9px,#108b10 9px 10px,#107a10 10px 11px,#107710 11px 12px,#107d10 12px 13px,#107b10 13px 14px,#107210 14px 15px,#107a10 15px 16px,#108610 16px 17px,#108510 17px 18px,#108710 18px 19px,#108910 19px 21px,#109310 21px 22px,#109d10 22px 23px,#109810 23px 24px,#108710 24px 25px,#107b10 25px 26px,#107010 26px 27px,#105b10 27px 28px,#106a10 28px 29px,#108c10 29px 30px,#108e10 30px 31px,#107310 31px 32px,#106010 32px 33px,#106f10 33px 34px,#108210 34px 35px,#108810 35px 36px,#108d10 36px 37px,#108710 37px 38px,#107710 38px 39px,#107410 39px 40px,#107810 40px 41px,#107010 41px 43px,#107810 43px 44px,#108310 44px 45px,#109510 45px 46px,#109910 46px 47px,#108f10 47px 48px,#108a10 48px 49px,#108b10 49px 50px,#108810 50px 51px,#108110 51px 52px,#107910 52px 53px,#107110 53px 54px,#107a10 54px 55px,#108810 55px 56px,#108410 56px 57px,#108910 57px 58px,#108b10 58px 59px,#107610 59px 60px,#107310 60px 61px,#108410 61px 62px,#108810 62px 64px,#108d10 64px 65px,#108510 65px 66px,#107610 66px 67px,#107a10 67px 68px,#108a10 68px 69px,#108310 69px 70px,#107d10 70px 71px,#109010 71px 72px,#109b10 72px 73px,#108c10 73px 74px,#106f10 74px 75px,#106410 75px 76px,#108110 76px 77px,#109d10 77px 78px,#109f10 78px 79px,#109710 79px 80px,#108910 80px 81px,#107c10 81px 82px,#107710 82px 83px,#107810 83px 84px,#107510 84px 86px,#107d10 86px 87px,#107710 87px 88px,#106d10 88px 89px,#106a10 89px 90px,#107510 90px 91px,#108110 91px 92px,#107d10 92px 93px,#107b10 93px 95px,#107210 95px 96px,#107010 96px 97px,#107d10 97px 98px,#108010 98px 99px,#107710 99px 100px,#107b10 100px 101px,#107d10 101px 102px,#108010 102px 103px,#108810 103px 104px,#108c10 104px 105px,#108510 105px 106px,#106d10 106px 107px,#106c10 107px 108px,#107a10 108px 109px,#107e10 109px 110px,#108610 110px 111px,#108110 111px 112px,#107a10 112px 113px,#107e10 113px 114px,#108010 114px 115px,#108110 115px 116px,#108710 116px 117px,#108510 117px 118px,#107e10 118px 119px,#107510 119px 120px,#107310 120px 121px,#107510 121px 122px,#106510 122px 124px,#107f10 124px 125px,#108710 125px 126px,#107610 126px 127px,#106e10 127px 128px,#107410 128px 129px,#107e10 129px 130px,#108310 130px 131px,#107e10 131px 132px,#107d10 132px 133px,#107910 133px 134px,#107110 134px 135px,#107910 135px 136px,#107710 136px 137px,#106e10 137px 138px,#107c10 138px 139px,#109010 139px 140px,#108910 140px 141px,#108010 141px 142px,#108410 142px 143px,#108010 143px 144px,#108210 144px 145px,#108c10 145px 146px,#1c1b08 146px 147px,#162708 147px 148px,#1c1a08 148px 149px,#400f0a 149px 150px,#290e0a 150px 151px,#1d1a08 151px 152px,#240e0a 152px 153px,#2e0f0a 153px 154px,#300f0a 154px 155px,#1b1d08 155px 156px,#201408 156px 157px,#162608 157px 158px,#1b1e08 158px 159px,#66110a 159px 160px,#132d08 160px 161px,#221008 161px 162px,#370f0a 162px 163px,#201308 163px 164px,#1c1c08 164px 165px,#221108 165px 166px,#250e0a 166px 167px,#211308 167px 168px,#132d08 168px 169px,#221008 169px 170px,#1f1608 170px 171px,#221008 171px 172px,#400f0a 172px 173px,#48100a 173px 174px,#45100a 174px 175px,#1d1a08 175px 176px,#4a100a 176px 177px,#64110a 177px 178px,#63110a 178px 179px,#6c110a 179px 180px,#2c0e0a 180px 181px,#240e0a 181px 182px,#49100a 182px 183px,#1a2008 183px 184px,#390f0a 184px 185px,#211208 185px 186px,#221108 186px 187px,#162608 187px 188px,#1b1d08 188px 189px,#211208 189px 190px,#47100a 190px 191px,#4b100a 191px 192px,#201408 192px 193px,#211108 193px 194px,#201408 194px 195px,#3a0f0a 195px 196px,#1f1608 196px 197px,#400f0a 197px 198px,#78120a 198px 199px,#2c0e0a 199px 200px,#192208 200px 201px,#1d1a08 201px 202px,#1a1f08 202px 203px,#1e1708 203px 204px,#66110a 204px 205px,#280e0a 205px 206px,#162608 206px 207px,#430f0a 207px 208px,#61110a 208px 209px,#211108 209px 210px,#1d1908 210px 211px,#1e1708 211px 212px,#2d0f0a 212px 213px,#3d0f0a 213px 214px,#4a100a 214px 215px,#45100a 215px 216px,#46100a 216px 217px,#52100a 217px 218px,#350f0a 218px 219px,#152908 219px 220px,#201308 220px 221px,#2c0e0a 221px 222px,#1d1908 222px 223px,#3a0f0a 223px 224px,#1e1708 224px 225px,#1a1f08 225px 226px,#4a100a 226px 227px,#290e0a 227px 228px,#211308 228px 229px,#410f0a 229px 230px,#50100a 230px 231px,#2f0f0a 231px 232px,#122e08 232px 233px,#1d1908 233px 234px,#221108 234px 235px,#1e1708 235px 236px,#310f0a 236px 237px,#46100a 237px 238px,#1c1b08 238px 239px,#1a1f08 239px 240px,#75120a 240px 241px,#1e1708 241px 242px,#182308 242px 243px,#240e0a 243px 244px,#330f0a 244px 245px,#1d1908 245px 246px,#410f0a 246px 247px,#1e1808 247px 248px,#1a1e08 248px 249px,#270e0a 249px 250px,#48100a 250px 251px,#201408 251px 252px,#3b0f0a 252px 253px,#260e0a 253px 254px,#7a120a 254px 255px,#192108 255px 256px,#51100a 256px 257px,#211108 257px 258px,#201408 258px 259px,#330f0a 259px 261px,#4a100a 261px 262px,#340f0a 262px 263px,#1f1608 263px 264px,#1d1a08 264px 265px,#2e0f0a 265px 266px,#390f0a 266px 267px,#5d110a 267px 268px,#3c0f0a 268px 269px,#4d100a 269px 270px,#57100a 270px 271px,#2f0f0a 271px 272px,#182208 272px 274px,#172408 274px 275px,#67110a 275px 276px,#1c1b08 276px 277px,#4a100a 277px 278px,#260e0a 278px 279px,#62110a 279px 280px,#57100a 280px 281px,#340f0a 281px 282px,#2d0f0a 282px 283px,#2a0e0a 283px 284px,#221108 284px 285px,#1b1c08 285px 286px,#1f1608 286px 287px,#52100a 287px 288px,#122e08 288px 289px,#1e1708 289px 290px,#182308 290px 291px,#2d0e0a 291px 292px,#54100a 292px 293px,#260e0a 293px 294px,#3a0f0a 294px 295px,#142a08 295px 296px,#3b0f0a 296px 297px,#192208 297px 298px,#260e0a 298px 299px,#270e0a 299px 300px,#122e08 300px 301px,#192008 301px 302px,#221108 302px 303px,#61110a 303px 304px,#2d0f0a 304px 305px,#240e0a 305px 306px,#142a08 306px 307px,#49100a 307px 308px,#63110a 308px 309px,#211208 309px 310px,#1d1908 310px 311px,#132d08 311px 312px,#3c0f0a 312px 313px,#7a120a 313px 314px,#3a0f0a 314px 315px,#54100a 315px 316px,#3c0f0a 316px 317px,#1c1a08 317px 318px,#5d110a 318px 319px,#182308 319px 320px,#1d1a08 320px 321px,#211308 321px 322px,#420f0a 322px 323px,#3c0f0a 323px 324px,#410f0a 324px 325px,#1f1608 325px 326px,#182208 326px 327px,#211108 327px 328px,#1c1b08 328px 329px,#172508 329px 330px,#152808 330px 331px,#1b1d08 331px 332px,#122e08 332px 333px,#152808 333px 334px,#122e08 334px 335px,#201408 335px 336px,#230e0a 336px 337px,#64110a 337px 338px,#152908 338px 339px)"></div><div class="hc" style="left:170px;background:linear-gradient(#109010 0px 1px,#108f10 1px 2px,#109510 2px 3px,#109810 3px 4px,#108710 4px 5px,#107310 5px 6px,#106f10 6px 7px,#108310 7px 8px,#109710 8px 9px,#108e10 9px 10px,#107b10 10px 11px,#107210 11px 12px,#107910 12px 14px,#107410 14px 15px,#108110 15px 16px,#108610 16px 17px,#108310 17px 18px,#108410 18px 19px,#108010 19px 20px,#108110 20px 21px,#109010 21px 22px,#109b10 22px 23px,#109510 23px 24px,#108210 24px 25px,#107510 25px 26px,#106710 26px 27px,#105310 27px 28px,#106510 28px 29px,#108710 29px 30px,#108e10 30px 31px,#107410 31px 32px,#105f10 32px 33px,#107010 33px 34px,#108410 34px 35px,#108b10 35px 36px,#108a10 36px 37px,#108110 37px 38px,#107610 38px 39px,#107210 39px 41px,#106b10 41px 42px,#107110 42px 43px,#107b10 43px 44px,#108010 44px 45px,#109110 45px 46px,#109710 46px 47px,#108a10 47px 48px,#108210 48px 49px,#108610 49px 50px,#108510 50px 51px,#107e10 51px 52px,#107710 52px 53px,#106e10 53px 54px,#107410 54px 55px,#108310 55px 56px,#108410 56px 57px,#108810 57px 58px,#108610 58px 59px,#107210 59px 60px,#107110 60px 61px,#108210 61px 62px,#108610 62px 63px,#108810 63px 64px,#109010 64px 65px,#108a10 65px 66px,#107810 66px 67px,#107910 67px 68px,#108710 68px 69px,#108210 69px 70px,#107d10 70px 71px,#108f10 71px 72px,#109a10 72px 73px,#108810 73px 74px,#106710 74px 75px,#106110 75px 76px,#107d10 76px 77px,#109710 77px 79px,#109210 79px 80px,#108610 80px 81px,#107910 81px 82px,#107310 82px 83px,#107410 83px 85px,#107e10 85px 86px,#108510 86px 87px,#107410 87px 88px,#106310 88px 89px,#106510 89px 90px,#107610 90px 91px,#107e10 91px 92px,#107710 92px 93px,#107310 93px 94px,#107410 94px 95px,#107210 95px 96px,#107610 96px 97px,#108410 97px 98px,#108510 98px 99px,#107a10 99px 100px,#107b10 100px 101px,#107810 101px 102px,#107d10 102px 103px,#108a10 103px 104px,#108e10 104px 105px,#108510 105px 106px,#106b10 106px 107px,#106610 107px 108px,#107310 108px 109px,#107e10 109px 110px,#108b10 110px 111px,#108710 111px 112px,#107d10 112px 113px,#107c10 113px 114px,#107910 114px 115px,#107c10 115px 116px,#108810 116px 117px,#108910 117px 118px,#108010 118px 119px,#107710 119px 120px,#107310 120px 121px,#106d10 121px 122px,#105c10 122px 123px,#105e10 123px 124px,#107c10 124px 125px,#108810 125px 126px,#107710 126px 127px,#107010 127px 128px,#107710 128px 129px,#107b10 129px 130px,#108010 130px 131px,#107e10 131px 132px,#107f10 132px 133px,#107b10 133px 134px,#106f10 134px 135px,#107310 135px 137px,#106a10 137px 138px,#107610 138px 139px,#108b10 139px 141px,#108910 141px 142px,#108b10 142px 143px,#108210 143px 144px,#108010 144px 145px,#108910 145px 146px,#221108 146px 147px,#1c1b08 147px 148px,#211208 148px 149px,#5b110a 149px 150px,#51100a 150px 151px,#211208 151px 152px,#2d0f0a 152px 153px,#4c100a 153px 154px,#6a110a 154px 155px,#390f0a 155px 156px,#420f0a 156px 157px,#1a1e08 157px 158px,#1e1808 158px 159px,#7a120a 159px 160px,#182208 160px 161px,#3f0f0a 161px 162px,#50100a 162px 163px,#370f0a 163px 164px,#211108 164px 165px,#3d0f0a 165px 166px,#4a100a 166px 167px,#48100a 167px 168px,#192008 168px 169px,#300f0a 169px 170px,#201408 170px 171px,#2e0f0a 171px 172px,#5a110a 172px 173px,#65110a 173px 174px,#61110a 174px 175px,#221008 175px 176px,#57100a 176px 177px,#67110a 177px 178px,#70120a 178px 179px,#7a120a 179px 180px,#3b0f0a 180px 181px,#330f0a 181px 182px,#5f110a 182px 183px,#1e1708 183px 184px,#3d0f0a 184px 185px,#201308 185px 186px,#270e0a 186px 187px,#192208 187px 188px,#201408 188px 189px,#400f0a 189px 190px,#63110a 190px 191px,#68110a 191px 192px,#3f0f0a 192px 193px,#46100a 193px 194px,#2b0e0a 194px 195px,#4f100a 195px 196px,#2c0e0a 196px 197px,#4f100a 197px 198px,#7a120a 198px 199px,#400f0a 199px 200px,#1b1d08 200px 201px,#201408 201px 202px,#1a1f08 202px 204px,#68110a 204px 205px,#50100a 205px 206px,#1d1908 206px 207px,#56100a 207px 208px,#6f110a 208px 209px,#2a0e0a 209px 210px,#1f1508 210px 211px,#2e0f0a 211px 212px,#58100a 212px 213px,#5b110a 213px 214px,#6c110a 214px 215px,#6f110a 215px 216px,#67110a 216px 217px,#73120a 217px 218px,#5e110a 218px 219px,#1c1a08 219px 220px,#370f0a 220px 221px,#47100a 221px 222px,#2c0e0a 222px 223px,#67110a 223px 224px,#3b0f0a 224px 225px,#211108 225px 226px,#6b110a 226px 227px,#420f0a 227px 228px,#410f0a 228px 229px,#64110a 229px 230px,#57100a 230px 231px,#2d0e0a 231px 232px,#122e08 232px 233px,#211208 233px 234px,#211108 234px 235px,#1d1908 235px 236px,#45100a 236px 237px,#74120a 237px 238px,#290e0a 238px 239px,#1d1908 239px 240px,#7a120a 240px 241px,#350f0a 241px 242px,#201508 242px 243px,#3f0f0a 243px 244px,#390f0a 244px 245px,#1f1608 245px 246px,#55100a 246px 247px,#230e0a 247px 248px,#201408 248px 249px,#46100a 249px 250px,#5c110a 250px 251px,#250e0a 251px 252px,#47100a 252px 253px,#2b0e0a 253px 254px,#7a120a 254px 255px,#260e0a 255px 256px,#6b110a 256px 257px,#2e0f0a 257px 258px,#360f0a 258px 259px,#52100a 259px 260px,#4c100a 260px 261px,#5c110a 261px 262px,#45100a 262px 263px,#2d0e0a 263px 264px,#2f0f0a 264px 265px,#54100a 265px 266px,#50100a 266px 267px,#69110a 267px 268px,#3f0f0a 268px 269px,#5a110a 269px 270px,#73120a 270px 271px,#46100a 271px 272px,#1c1c08 272px 273px,#1d1a08 273px 274px,#1b1d08 274px 275px,#70120a 275px 276px,#1d1a08 276px 277px,#59100a 277px 278px,#3d0f0a 278px 279px,#73120a 279px 280px,#5c110a 280px 281px,#2f0f0a 281px 282px,#2c0e0a 282px 283px,#350f0a 283px 284px,#310f0a 284px 285px,#1f1608 285px 286px,#270e0a 286px 287px,#6a110a 287px 288px,#172508 288px 289px,#390f0a 289px 290px,#1d1a08 290px 291px,#240e0a 291px 292px,#3d0f0a 292px 293px,#270e0a 293px 294px,#54100a 294px 295px,#1a1e08 295px 296px,#6b110a 296px 297px,#280e0a 297px 298px,#52100a 298px 299px,#340f0a 299px 300px,#122e08 300px 301px,#1c1b08 301px 302px,#310f0a 302px 303px,#6f120a 303px 304px,#3d0f0a 304px 305px,#390f0a 305px 306px,#1a1f08 306px 307px,#6e110a 307px 308px,#7a120a 308px 309px,#340f0a 309px 310px,#270e0a 310px 311px,#172508 311px 312px,#49100a 312px 313px,#7a120a 313px 314px,#4f100a 314px 315px,#5f110a 315px 316px,#48100a 316px 317px,#1f1508 317px 318px,#65110a 318px 319px,#1a1f08 319px 320px,#221108 320px 321px,#300f0a 321px 322px,#54100a 322px 323px,#51100a 323px 324px,#4e100a 324px 325px,#201308 325px 326px,#1c1c08 326px 327px,#360f0a 327px 328px,#201408 328px 329px,#1a1f08 329px 330px,#1a2008 330px 331px,#211308 331px 332px,#182308 332px 333px,#1b1c08 333px 334px,#172408 334px 335px,#290e0a 335px 336px,#46100a 336px 337px,#7a120a 337px 338px,#1c1b08 338px 339px)"></div><div class="hc" style="left:193px;background:linear-gradient(#109410 0px 1px,#109010 1px 2px,#109410 2px 3px,#109910 3px 4px,#108b10 4px 5px,#107a10 5px 7px,#108910 7px 8px,#109610 8px 9px,#108f10 9px 10px,#107a10 10px 11px,#107210 11px 12px,#107b10 12px 13px,#107d10 13px 14px,#107510 14px 15px,#107f10 15px 16px,#108c10 16px 17px,#108b10 17px 18px,#108a10 18px 19px,#108910 19px 20px,#108810 20px 21px,#109110 21px 22px,#109e10 22px 23px,#109710 23px 24px,#108710 24px 25px,#108010 25px 26px,#107510 26px 27px,#106110 27px 28px,#106d10 28px 29px,#108810 29px 30px,#108b10 30px 31px,#107410 31px 32px,#106010 32px 33px,#106f10 33px 34px,#108310 34px 35px,#109110 35px 36px,#109510 36px 37px,#108a10 37px 38px,#107b10 38px 39px,#107910 39px 40px,#107810 40px 41px,#106c10 41px 42px,#107210 42px 43px,#107e10 43px 44px,#108410 44px 45px,#109610 45px 46px,#109f10 46px 47px,#109310 47px 48px,#108710 48px 50px,#108510 50px 51px,#108010 51px 52px,#107c10 52px 53px,#107410 53px 54px,#107810 54px 55px,#108510 55px 56px,#108710 56px 57px,#108e10 57px 58px,#108c10 58px 59px,#107a10 59px 61px,#108a10 61px 62px,#108e10 62px 64px,#109110 64px 65px,#108610 65px 66px,#107710 66px 67px,#107b10 67px 68px,#108b10 68px 69px,#108510 69px 70px,#107f10 70px 71px,#108f10 71px 72px,#109610 72px 73px,#108810 73px 74px,#106d10 74px 75px,#106310 75px 76px,#107e10 76px 77px,#109810 77px 78px,#109910 78px 79px,#109410 79px 80px,#108b10 80px 81px,#107d10 81px 82px,#107310 82px 84px,#107610 84px 85px,#107d10 85px 86px,#108410 86px 87px,#107710 87px 88px,#106410 88px 89px,#106010 89px 90px,#107010 90px 91px,#107e10 91px 92px,#107c10 92px 93px,#107a10 93px 94px,#107b10 94px 95px,#107610 95px 96px,#107310 96px 97px,#107e10 97px 98px,#108510 98px 99px,#107c10 99px 100px,#107810 100px 101px,#107a10 101px 102px,#108110 102px 103px,#108910 103px 104px,#108b10 104px 105px,#108510 105px 106px,#107110 106px 107px,#106d10 107px 108px,#107910 108px 109px,#108210 109px 110px,#108a10 110px 111px,#108610 111px 112px,#107d10 112px 113px,#107a10 113px 114px,#107710 114px 115px,#108110 115px 116px,#109010 116px 117px,#108f10 117px 118px,#108610 118px 119px,#107e10 119px 120px,#107a10 120px 121px,#107610 121px 122px,#106410 122px 123px,#106610 123px 124px,#108410 124px 125px,#108c10 125px 126px,#107610 126px 127px,#106c10 127px 128px,#107010 128px 129px,#107810 129px 130px,#108010 130px 131px,#107c10 131px 132px,#107b10 132px 134px,#107410 134px 135px,#107b10 135px 137px,#106e10 137px 138px,#107510 138px 139px,#108b10 139px 140px,#108e10 140px 141px,#108910 141px 142px,#108810 142px 143px,#107910 143px 144px,#107610 144px 145px,#108310 145px 146px,#1e1708 146px 147px,#1c1c08 147px 148px,#211208 148px 149px,#52100a 149px 150px,#3f0f0a 150px 151px,#201408 151px 152px,#2c0e0a 152px 153px,#3d0f0a 153px 154px,#47100a 154px 155px,#1e1708 155px 156px,#270e0a 156px 157px,#1a1f08 157px 158px,#1e1808 158px 159px,#74120a 159px 160px,#142a08 160px 161px,#280e0a 161px 162px,#47100a 162px 163px,#260e0a 163px 164px,#1c1c08 164px 165px,#1f1508 165px 166px,#211208 166px 167px,#201308 167px 168px,#142a08 168px 169px,#330f0a 169px 170px,#201408 170px 172px,#400f0a 172px 173px,#54100a 173px 174px,#59100a 174px 175px,#211108 175px 176px,#4b100a 176px 177px,#4e100a 177px 179px,#62110a 179px 180px,#2c0e0a 180px 181px,#221008 181px 182px,#430f0a 182px 183px,#192108 183px 184px,#390f0a 184px 185px,#221108 185px 186px,#280e0a 186px 187px,#172508 187px 188px,#1c1c08 188px 189px,#290e0a 189px 190px,#52100a 190px 191px,#55100a 191px 192px,#360f0a 192px 193px,#3a0f0a 193px 194px,#201508 194px 195px,#47100a 195px 196px,#320f0a 196px 197px,#48100a 197px 198px,#6b110a 198px 199px,#260e0a 199px 200px,#1a1f08 200px 201px,#201508 201px 202px,#1a1e08 202px 203px,#1d1908 203px 204px,#75120a 204px 205px,#410f0a 205px 206px,#182308 206px 207px,#46100a 207px 208px,#68110a 208px 209px,#280e0a 209px 210px,#1f1508 210px 211px,#211308 211px 212px,#2e0f0a 212px 213px,#390f0a 213px 214px,#56100a 214px 215px,#5e110a 215px 216px,#5d110a 216px 217px,#5e110a 217px 218px,#3e0f0a 218px 219px,#162608 219px 220px,#221108 220px 221px,#3b0f0a 221px 222px,#221108 222px 223px,#51100a 223px 224px,#201308 224px 225px,#1b1c08 225px 226px,#59110a 226px 227px,#3c0f0a 227px 228px,#330f0a 228px 229px,#57100a 229px 230px,#5c110a 230px 231px,#3e0f0a 231px 232px,#132c08 232px 233px,#201308 233px 234px,#230e0a 234px 235px,#1e1708 235px 236px,#360f0a 236px 237px,#5c110a 237px 238px,#201308 238px 239px,#1b1c08 239px 240px,#7a120a 240px 241px,#280e0a 241px 242px,#1d1a08 242px 243px,#300f0a 243px 245px,#1d1908 245px 246px,#4f100a 246px 247px,#211108 247px 248px,#1d1a08 248px 249px,#320f0a 249px 250px,#4d100a 250px 251px,#1f1608 251px 252px,#3c0f0a 252px 253px,#3b0f0a 253px 254px,#7a120a 254px 255px,#211308 255px 256px,#63110a 256px 257px,#230e0a 257px 258px,#250e0a 258px 259px,#4b100a 259px 260px,#4e100a 260px 261px,#59110a 261px 262px,#330f0a 262px 263px,#1f1608 263px 264px,#211208 264px 265px,#4c100a 265px 266px,#420f0a 266px 267px,#51100a 267px 268px,#230e0a 268px 269px,#3e0f0a 269px 270px,#5b110a 270px 271px,#320f0a 271px 272px,#192208 272px 273px,#1a1f08 273px 274px,#182308 274px 275px,#5d110a 275px 276px,#192108 276px 277px,#44100a 277px 278px,#380f0a 278px 279px,#6f120a 279px 280px,#4f100a 280px 281px,#2d0e0a 281px 282px,#2e0f0a 282px 284px,#290e0a 284px 285px,#1e1808 285px 286px,#240e0a 286px 287px,#6d110a 287px 288px,#172408 288px 289px,#3d0f0a 289px 290px,#1f1608 290px 291px,#360f0a 291px 292px,#4b100a 292px 293px,#250e0a 293px 294px,#420f0a 294px 295px,#162708 295px 296px,#51100a 296px 297px,#1e1808 297px 298px,#400f0a 298px 299px,#360f0a 299px 300px,#122e08 300px 301px,#1b1d08 301px 302px,#230e0a 302px 303px,#50100a 303px 304px,#201308 304px 306px,#152808 306px 307px,#59110a 307px 308px,#73120a 308px 309px,#320f0a 309px 310px,#2a0e0a 310px 311px,#192108 311px 312px,#4e100a 312px 313px,#7a120a 313px 314px,#44100a 314px 315px,#53100a 315px 316px,#370f0a 316px 317px,#1d1908 317px 318px,#66110a 318px 319px,#1a1f08 319px 320px,#230e0a 320px 321px,#310f0a 321px 322px,#3c0f0a 322px 323px,#260e0a 323px 325px,#1b1d08 325px 326px,#182208 326px 327px,#2d0f0a 327px 328px,#1e1808 328px 329px,#172408 329px 330px,#172508 330px 331px,#1c1b08 331px 332px,#132b08 332px 333px,#192208 333px 334px,#152908 334px 335px,#201408 335px 336px,#270e0a 336px 337px,#74120a 337px 338px,#172408 338px 339px)"></div>
<svg width="520" height="498" viewBox="0 0 520 498" font-family="Liberation Sans, sans-serif">
<defs><linearGradient id="cb" x1="0" x2="1" y1="0" y2="0">
<stop offset="0" stop-color="#12ee12"/><stop offset="0.25" stop-color="#0a9a0a"/><stop offset="0.5" stop-color="#000"/><stop offset="0.75" stop-color="#8a0606"/><stop offset="1" stop-color="#f50c0c"/></linearGradient></defs>
<rect x="60.5" y="2" width="120" height="10.8" fill="url(#cb)"/>
<g fill="#222" stroke="#222" stroke-width="0.15" font-size="9.9">
<text transform="translate(55.2 30.8) scale(0.91 1)">-8.0</text><text transform="translate(116.8 30.8) scale(0.91 1)">0.0</text><text transform="translate(173 30.8) scale(0.91 1)">2.0</text>
</g>
<text x="6" y="35.8" font-size="14" font-weight="bold" fill="#111">A</text>
<text x="283.9" y="37.9" font-size="14" font-weight="bold" fill="#111">B</text>
<!-- dendrogram -->
<g stroke="#9a9aac" stroke-width="0.9" fill="none">
<path d="M38.5 64.5V42.5H115.5V67"/>
<path d="M20.5 68V64.5H67V68M43.5 64.5V68"/>
<path d="M90 67.5H207"/>
</g>
<path d="M44 64.5H55" stroke="#70708a" stroke-width="1"/>
<!-- bracket -->
<g stroke="#8a8a8a" stroke-width="0.9" fill="none"><path d="M222.5 42.5H219.5V68.5H222.5M219.5 55.5H222"/></g>
<g fill="#2a2a2a" font-size="9">
<text transform="translate(232 46.9) scale(0.9 1)">-0.079</text><text transform="translate(232 57.7) scale(0.9 1)">-.460</text><text transform="translate(232.5 68.5) scale(0.9 1)">1</text>
</g>
<rect x="222.6" y="74" width="9" height="333.6" fill="#f5f5f5"/><rect x="228.8" y="74" width="1.4" height="333.6" fill="#ededed"/><rect x="222.6" y="74" width="33" height="333.6" fill="none" stroke="#f6f6f6" stroke-width="1"/>
<!-- volcano -->
<g fill="none" stroke-linecap="square">
<path d="M413.8 251.8h0M397.2 239.9h0M420.4 242.4h0M376.0 244.6h0M442.4 233.6h0M435.3 245.7h0M403.8 241.2h0M412.1 247.7h0M369.5 243.0h0M419.8 242.3h0M413.5 244.7h0M435.1 241.5h0M385.6 242.0h0M456.7 237.4h0M398.3 246.4h0M399.1 240.2h0M414.9 231.6h0M422.8 240.2h0M389.3 244.2h0M418.7 249.0h0M419.3 245.5h0M461.7 239.3h0M440.2 245.6h0M411.8 246.6h0M437.8 229.9h0M439.6 243.5h0M452.5 249.7h0M439.6 248.4h0M449.1 232.4h0M457.1 248.2h0M418.9 247.7h0M483.5 236.6h0M398.2 248.2h0M408.7 240.2h0M460.3 248.3h0M432.9 250.9h0M445.2 249.2h0M435.2 251.5h0M458.7 241.3h0M403.0 248.9h0M409.7 242.0h0M465.3 248.3h0M417.0 248.7h0M433.9 247.0h0M436.0 246.2h0M448.6 242.3h0M423.6 251.1h0M391.9 246.2h0M437.5 252.1h0M448.8 247.6h0M408.3 249.7h0M391.1 236.0h0M385.5 242.7h0M399.3 249.2h0M445.3 242.7h0M443.3 244.5h0M407.5 245.9h0M412.9 249.7h0M422.8 249.6h0M440.8 242.4h0M422.5 243.0h0M440.6 251.2h0M423.5 251.0h0M407.2 248.5h0M421.5 248.2h0M401.0 234.1h0M420.3 251.3h0M408.9 241.6h0M381.6 238.4h0M400.0 248.0h0M420.7 248.5h0M411.2 245.5h0M435.7 234.3h0M437.1 245.5h0M403.9 250.0h0M435.0 243.2h0M463.9 247.2h0M411.7 251.5h0M385.8 245.4h0M418.0 241.1h0M421.8 250.2h0M403.4 241.2h0M449.6 243.3h0M450.8 247.7h0M399.3 238.3h0M388.9 246.0h0M445.2 233.9h0M423.8 250.4h0M439.3 249.3h0M375.7 235.2h0M384.9 240.8h0M406.9 250.2h0M373.4 240.0h0M408.1 247.3h0M406.2 250.3h0M443.4 218.4h0M406.3 243.3h0M440.1 242.3h0M463.6 247.2h0M442.6 245.1h0M393.3 245.6h0M455.9 230.7h0M413.6 251.9h0M437.8 249.4h0M408.8 251.3h0M424.0 247.8h0M456.2 236.9h0M412.7 245.4h0M442.6 237.1h0M441.5 228.6h0M433.5 247.7h0M409.6 251.5h0M411.9 247.8h0M443.2 219.0h0M441.0 226.4h0M438.9 246.5h0M415.2 250.4h0M415.2 249.4h0M399.3 240.3h0M417.7 239.2h0M421.1 252.2h0M421.6 246.9h0M447.6 246.9h0M435.6 243.1h0M424.3 249.5h0M423.3 245.3h0M409.6 244.4h0M452.5 249.6h0M415.2 232.1h0M448.3 248.5h0M420.7 243.6h0M403.0 230.7h0M395.9 243.2h0M411.2 251.4h0M466.2 248.7h0M437.3 243.5h0M378.9 231.6h0M436.1 247.4h0M472.3 240.7h0M406.8 235.9h0M424.2 241.0h0M441.1 241.4h0M463.4 244.7h0M469.2 242.0h0M403.8 249.9h0M399.7 245.8h0M405.9 247.0h0M432.1 251.7h0M429.0 250.9h0M438.0 251.6h0M459.9 246.8h0M461.6 244.6h0M394.0 247.2h0M460.0 244.9h0M404.6 250.2h0M436.1 252.3h0M424.5 244.6h0M440.8 231.4h0M413.6 251.2h0M442.1 252.4h0M383.8 246.5h0M410.2 242.7h0M415.9 251.3h0M418.7 252.3h0M353.6 236.4h0M432.8 245.0h0M453.2 247.9h0M446.5 221.8h0M422.1 246.1h0M436.4 243.9h0M424.6 252.0h0M457.3 246.7h0M428.2 250.6h0M416.7 250.4h0M401.0 243.7h0M420.8 252.5h0M411.6 249.6h0M428.1 252.2h0M446.0 239.8h0M415.8 250.3h0M456.3 250.5h0M445.1 237.9h0M417.5 246.1h0M421.1 243.2h0M410.0 246.8h0M457.8 238.1h0M414.5 245.5h0M428.8 250.8h0M408.7 243.5h0M427.5 252.1h0M464.8 242.0h0M414.6 241.5h0M443.5 235.6h0M359.8 235.2h0M424.5 244.4h0M441.1 249.5h0M418.3 247.8h0M423.1 248.3h0M409.7 248.7h0M410.3 249.7h0M419.5 250.3h0M423.3 241.6h0M454.1 248.1h0M446.6 251.6h0M378.8 244.2h0M377.1 239.5h0M450.8 249.2h0M416.8 247.7h0M422.6 252.2h0M398.5 249.5h0M415.4 251.8h0M372.1 243.2h0M417.0 247.4h0M414.1 244.4h0M423.3 250.2h0M422.5 252.5h0M435.5 250.8h0M400.1 241.5h0M410.8 240.4h0M440.0 227.6h0M422.8 239.4h0M447.3 250.2h0M445.9 241.9h0M413.3 248.6h0M420.9 249.9h0M447.5 248.2h0M436.6 242.6h0M397.7 249.6h0M386.2 245.2h0M395.3 240.4h0M457.4 248.4h0M454.8 248.7h0M455.0 250.6h0M437.6 238.7h0M413.7 250.8h0M390.2 242.9h0M413.3 251.5h0M437.1 228.8h0M370.3 243.4h0M391.9 241.2h0M444.1 247.7h0M429.5 248.6h0M434.1 242.6h0M466.7 245.2h0M386.6 237.2h0M396.4 249.7h0M403.2 249.8h0M425.0 243.7h0M447.7 237.5h0M436.1 247.8h0M440.7 242.9h0M409.2 248.5h0M461.6 245.6h0M391.6 247.5h0M424.1 252.5h0M425.0 248.4h0M381.2 232.5h0M396.7 248.9h0M434.1 249.2h0M450.4 238.5h0M407.4 248.7h0M446.9 222.8h0M414.3 251.7h0M435.8 244.9h0M457.6 229.9h0M388.3 243.5h0M384.7 246.0h0M423.8 250.2h0M413.1 238.0h0M427.3 252.2h0M434.5 248.1h0M449.6 247.1h0M399.0 245.3h0M402.9 247.6h0M437.8 248.6h0M433.4 251.6h0M397.3 249.7h0M449.5 249.4h0M384.8 238.9h0M438.6 234.3h0M477.7 242.2h0M416.8 251.1h0M465.1 241.6h0M485.3 242.9h0M451.4 246.8h0M388.7 242.3h0M421.4 240.4h0M404.5 249.9h0M408.4 233.7h0M450.7 239.8h0M448.0 249.2h0M402.3 248.3h0M435.2 246.4h0M435.5 233.5h0M416.7 241.1h0M444.4 207.0h0M417.4 250.8h0M493.7 237.0h0M426.8 250.8h0M407.5 244.8h0M423.1 241.2h0M468.8 243.6h0M407.3 240.1h0M408.9 248.2h0M418.7 233.4h0M458.0 246.5h0M398.4 246.2h0M416.9 250.6h0M422.5 251.6h0M440.1 233.4h0M415.0 249.9h0M389.2 246.5h0M451.6 247.5h0M387.2 236.6h0M385.3 242.2h0M440.4 226.5h0M407.6 231.5h0M461.3 241.9h0M425.5 244.7h0M450.2 244.9h0M418.1 233.7h0M438.0 248.1h0M414.8 251.9h0M378.4 245.5h0M389.6 247.6h0M421.9 246.8h0M412.6 242.9h0M437.1 247.2h0M422.8 246.2h0M470.1 247.4h0M485.3 239.8h0M412.9 243.7h0M420.0 240.3h0M440.3 238.8h0M404.2 244.8h0M418.6 246.6h0M400.3 242.9h0M453.7 249.8h0M425.2 250.7h0M386.2 233.4h0M433.4 249.0h0M400.6 237.9h0M394.6 248.1h0M422.2 248.6h0M405.8 248.6h0M414.6 242.8h0M394.2 248.7h0M449.5 250.8h0M455.8 248.4h0M395.6 248.8h0M441.1 213.5h0M384.8 241.3h0M414.9 248.5h0M384.9 242.2h0M415.2 247.2h0M443.3 243.9h0M478.5 231.8h0M404.0 247.8h0M387.5 243.1h0M415.7 244.6h0M398.3 249.9h0M421.4 249.2h0M408.8 250.0h0M443.3 251.6h0M445.9 248.7h0M405.6 246.9h0M441.8 242.6h0M414.5 250.0h0M392.3 248.6h0M403.5 247.5h0M404.0 249.4h0M415.9 248.9h0M420.1 247.0h0M442.5 231.1h0M435.5 250.4h0M439.8 251.6h0M481.2 234.0h0M419.9 252.2h0M420.4 248.2h0M429.3 252.0h0M393.3 245.7h0M438.8 236.2h0M389.0 236.8h0M411.3 250.9h0M426.0 247.2h0M424.9 247.9h0M440.4 233.0h0M444.9 220.2h0M458.0 247.0h0M423.5 243.7h0M461.8 236.9h0M455.1 248.5h0M399.4 249.3h0M402.0 248.0h0M450.1 249.5h0M419.3 251.9h0M484.8 241.1h0M466.3 248.5h0M440.7 251.2h0M445.4 249.0h0M435.4 234.1h0M353.7 235.5h0M376.7 245.2h0M441.2 252.4h0M388.6 242.9h0M434.8 248.8h0M421.5 245.2h0M425.0 252.5h0M420.2 252.4h0M460.8 232.9h0M436.1 252.1h0M426.2 244.4h0M419.1 247.4h0M421.0 237.2h0M416.8 241.8h0M445.3 241.3h0M439.0 244.2h0M482.1 236.6h0M433.0 252.4h0M414.9 243.6h0M411.6 248.0h0M439.5 242.1h0M385.5 246.3h0M413.2 243.8h0M392.7 243.7h0M413.3 246.0h0M377.3 240.6h0M393.3 244.7h0M439.8 246.7h0M400.7 245.4h0M406.6 249.9h0M449.9 247.8h0M448.7 242.3h0M435.8 243.5h0M434.0 244.8h0M425.7 246.0h0M458.6 243.7h0M460.0 234.6h0M447.5 249.5h0M416.2 251.0h0M449.2 247.8h0M446.0 210.0h0M418.8 232.7h0M424.5 248.4h0M419.0 242.9h0M412.3 245.1h0M418.1 244.2h0M449.6 247.7h0M440.8 216.0h0M424.1 248.7h0M392.3 243.3h0M381.9 244.5h0M437.0 251.7h0M422.9 250.2h0M417.8 244.2h0M441.7 222.0h0M451.8 242.1h0M449.2 249.6h0M438.7 239.7h0M386.5 239.4h0M413.8 244.8h0M415.0 249.5h0M418.6 251.4h0M422.9 244.2h0M438.8 246.6h0M415.1 247.6h0M447.7 249.8h0M418.4 241.7h0M412.1 236.1h0M401.8 245.8h0M392.4 247.5h0M421.1 240.5h0M388.8 244.3h0M413.6 244.5h0M398.4 234.4h0M389.1 231.4h0M405.2 250.5h0M419.8 251.8h0M407.0 247.8h0M404.8 250.1h0M411.5 247.1h0M402.8 250.7h0M420.8 245.1h0M416.9 249.8h0M419.3 251.6h0M443.4 230.2h0M390.2 247.0h0M392.6 248.3h0M375.7 239.1h0M387.0 246.9h0M436.2 240.5h0M419.5 246.5h0M412.2 242.9h0M427.7 249.0h0M413.7 244.9h0M454.3 251.1h0M385.8 238.7h0M410.4 246.0h0M374.4 239.4h0M439.0 238.5h0M439.8 244.3h0M413.7 246.4h0M467.3 248.6h0M455.1 248.5h0M439.3 250.0h0M414.6 248.9h0M398.5 245.5h0M373.1 244.3h0M449.9 250.6h0M457.7 248.8h0M417.8 249.0h0M382.6 236.5h0M401.5 245.5h0M419.2 251.6h0M436.7 232.3h0M453.3 245.7h0M417.7 236.1h0M410.5 248.8h0M467.9 246.0h0M406.8 236.4h0M423.1 243.9h0M374.5 244.5h0M447.7 251.4h0M397.7 249.9h0M414.2 250.5h0M426.6 241.6h0M445.2 207.8h0M437.6 246.2h0M421.6 247.8h0M373.7 231.0h0M416.2 244.4h0M440.5 231.4h0M416.0 245.9h0M425.4 249.1h0M459.3 238.9h0M372.2 243.9h0M393.6 248.4h0M384.9 238.9h0M459.2 249.6h0M453.3 250.3h0M412.7 250.3h0M414.9 250.5h0M406.4 236.7h0M379.7 244.7h0M432.8 250.7h0M412.7 246.2h0M413.1 250.5h0M447.8 251.6h0M407.2 243.7h0M401.4 247.2h0M438.8 241.0h0M397.8 248.8h0M454.7 248.8h0M461.7 247.4h0M407.4 250.9h0M392.9 248.6h0M440.3 221.0h0M395.8 247.8h0M416.0 246.8h0M402.0 248.8h0M426.2 252.1h0M407.5 248.4h0M356.5 233.8h0M425.0 246.0h0M465.9 244.0h0M380.2 242.5h0M410.3 250.8h0M416.4 245.3h0M426.4 247.4h0M417.0 247.5h0M474.6 244.0h0M402.6 240.7h0M414.3 238.1h0M415.0 249.7h0M399.1 231.0h0M449.2 249.7h0M406.6 230.6h0M394.4 247.6h0M421.9 249.8h0M411.4 244.6h0M425.5 252.6h0M453.5 243.2h0M418.2 246.9h0M418.7 248.9h0M446.4 244.8h0M401.5 236.4h0M436.4 242.8h0M415.5 249.6h0M405.9 249.7h0M458.9 235.5h0M446.0 199.4h0M460.3 246.7h0M398.8 244.6h0M421.8 249.7h0M426.9 245.8h0M417.8 250.9h0M420.6 239.9h0M429.9 250.1h0M419.1 248.9h0M421.7 252.5h0M436.9 239.9h0M415.1 249.1h0M390.4 247.8h0M468.7 245.3h0M419.1 249.3h0M418.8 240.4h0M441.9 229.9h0M405.6 247.3h0M406.4 237.3h0M432.7 249.4h0M415.5 231.7h0M423.5 238.5h0M440.1 227.6h0M411.1 247.6h0M443.4 243.5h0M434.8 244.7h0M445.5 207.9h0M407.4 244.2h0M455.3 245.4h0M486.4 242.9h0M433.1 244.8h0M470.6 237.2h0M438.4 227.8h0M456.9 242.7h0M460.3 249.6h0M485.9 236.9h0M408.0 232.5h0M441.3 216.7h0M444.1 237.2h0M388.2 243.8h0M440.9 248.4h0M401.5 249.8h0M415.8 251.1h0M426.3 246.8h0M408.3 250.7h0M437.0 245.5h0M428.1 251.6h0M386.3 246.6h0M408.4 251.4h0M374.2 238.8h0M392.4 239.7h0M436.3 244.8h0M421.9 247.9h0M373.5 243.0h0M418.1 236.7h0M441.3 234.9h0M411.7 249.3h0M453.9 251.0h0M450.2 234.0h0M443.5 251.7h0M444.5 225.6h0M417.0 249.2h0M428.3 246.2h0M413.8 250.2h0M447.3 241.0h0M424.4 240.2h0M386.4 246.5h0M390.7 241.4h0M413.1 249.6h0M434.5 250.5h0M421.3 248.0h0M407.0 249.5h0M368.7 238.1h0M410.0 242.7h0M414.0 250.3h0M397.1 244.1h0M456.9 248.4h0M410.1 232.1h0M401.9 249.4h0M373.6 242.7h0M444.4 240.9h0M420.1 249.3h0M419.5 241.1h0M436.3 249.0h0M434.0 241.6h0M416.2 245.7h0M425.4 252.4h0M427.1 252.5h0M426.1 250.2h0M428.0 249.1h0M402.4 240.6h0M400.9 249.6h0M469.0 244.2h0M439.3 252.5h0M369.4 238.5h0M432.9 246.8h0M385.1 246.5h0M385.5 237.7h0M447.1 232.1h0M411.5 243.3h0M428.1 247.6h0M461.7 249.5h0M445.9 248.0h0M416.1 243.9h0M417.6 250.8h0M412.2 243.2h0M434.0 252.7h0M407.0 247.2h0M480.6 237.6h0M395.2 243.4h0M407.1 246.3h0M416.5 245.4h0M404.8 246.9h0M376.9 233.9h0M432.5 248.5h0M442.9 250.2h0M439.7 230.9h0M427.2 246.3h0M423.2 248.4h0M401.4 249.1h0M425.0 243.5h0M381.2 243.8h0M457.3 247.5h0M417.7 250.7h0M403.8 249.3h0M437.2 243.5h0M417.2 251.9h0M413.9 250.6h0M424.8 250.3h0M403.2 246.2h0M435.6 248.0h0M442.5 247.5h0M408.3 239.1h0M446.1 210.1h0M410.7 247.6h0M448.1 245.7h0M457.3 248.3h0M448.5 244.9h0M438.5 227.8h0M424.8 251.0h0M435.1 232.4h0M423.1 250.6h0M441.3 241.9h0M428.1 251.2h0M389.8 236.4h0M412.0 237.1h0M367.8 241.5h0M460.6 249.8h0M418.9 242.2h0M418.9 231.0h0M454.7 250.8h0M441.0 218.6h0M416.9 245.3h0M426.3 243.6h0M396.3 247.4h0M461.2 235.2h0M466.3 244.9h0M419.8 251.0h0M419.5 240.6h0M407.0 238.2h0M429.3 252.5h0M397.5 249.5h0M438.8 233.6h0M402.5 245.2h0M415.8 250.2h0M427.6 246.8h0M474.1 245.0h0M418.9 251.5h0M408.6 249.8h0M402.0 250.3h0M488.5 240.6h0M397.3 240.9h0M372.6 236.9h0M390.0 232.4h0M462.0 243.9h0M448.5 245.7h0M489.8 241.6h0M417.4 252.1h0M453.4 247.9h0M425.5 244.2h0M390.1 241.6h0M439.0 239.8h0M426.3 251.0h0M426.4 250.4h0M417.7 248.2h0M436.9 248.2h0M388.6 243.7h0M447.8 248.7h0M411.9 242.2h0M423.1 252.4h0M436.6 243.4h0M453.6 243.9h0M436.3 244.2h0M462.2 238.8h0M462.4 248.9h0M402.0 249.3h0M438.9 248.8h0M417.2 249.6h0M440.7 251.8h0M454.6 248.0h0M402.0 233.9h0M420.8 251.6h0M443.1 250.5h0M420.1 251.4h0M436.5 252.7h0M440.7 211.9h0M448.1 248.3h0M394.2 243.1h0M411.5 248.8h0M444.6 232.3h0M408.2 251.1h0M412.1 248.5h0M408.1 246.3h0M407.3 248.2h0M468.8 232.3h0M425.0 242.1h0M436.5 249.5h0M451.9 247.7h0M444.3 233.5h0M381.3 244.9h0M417.8 251.0h0M423.9 250.2h0M411.4 241.3h0M412.3 245.0h0M403.7 240.8h0M418.2 250.1h0M418.7 249.7h0M423.5 245.5h0M388.9 246.1h0M456.6 249.5h0M435.7 233.4h0M412.8 234.4h0M405.3 231.5h0M435.8 238.6h0M424.1 247.8h0M405.4 245.2h0M379.2 239.0h0M424.1 241.0h0M403.0 250.1h0M444.8 222.8h0M413.3 235.3h0M437.1 240.9h0M446.5 243.0h0M454.4 250.4h0M409.0 241.6h0M460.5 245.4h0M382.1 240.3h0M396.5 238.0h0M426.8 252.2h0M463.5 241.4h0M427.2 246.5h0M445.3 236.5h0M457.4 246.2h0M401.8 238.9h0M444.8 214.1h0M393.9 248.5h0M416.3 232.8h0M437.4 236.3h0M414.4 247.1h0M469.6 247.4h0M399.9 247.5h0M404.2 242.5h0M385.1 244.0h0M469.5 247.5h0M449.3 247.2h0M389.2 237.0h0M427.0 249.2h0M442.2 244.4h0M433.7 244.7h0M365.4 240.7h0M457.9 237.0h0M419.7 251.6h0M409.9 250.5h0M410.1 246.8h0M408.6 238.8h0M411.4 248.6h0M459.0 249.7h0M449.5 249.2h0M400.2 244.8h0M404.9 248.6h0M420.6 244.0h0M420.8 244.3h0M428.4 249.6h0M415.5 249.8h0M435.5 234.0h0M417.4 248.4h0M474.1 237.1h0M407.5 250.0h0M455.9 249.9h0M478.1 244.9h0M387.0 230.2h0M399.2 247.6h0M425.4 250.6h0M420.0 236.9h0M439.5 246.4h0M456.6 244.8h0M423.8 249.8h0M434.2 241.4h0M453.4 249.9h0M455.8 245.7h0M443.9 231.8h0M415.5 247.4h0M428.5 248.5h0M427.2 247.1h0M410.9 247.9h0M432.8 249.0h0M376.2 240.1h0M390.6 247.0h0M417.4 248.6h0M420.9 241.8h0M427.7 249.5h0M423.7 251.0h0M432.4 247.8h0M403.7 250.0h0M419.4 250.3h0M494.2 239.7h0M436.5 240.2h0M395.8 233.7h0M418.6 250.1h0M450.7 249.3h0M427.1 251.9h0M435.8 242.4h0M366.3 238.7h0M413.5 251.4h0M408.9 245.7h0M402.7 250.3h0M448.6 251.5h0M442.9 223.0h0M392.7 246.8h0M459.5 246.9h0M411.6 245.2h0M414.6 243.9h0M369.3 243.0h0M417.7 247.0h0M422.8 241.0h0M416.6 246.1h0M384.6 236.1h0M435.9 236.2h0M410.8 236.1h0M446.7 214.8h0M433.1 247.1h0M455.0 250.6h0M418.1 250.5h0M443.8 251.4h0M406.8 237.0h0M370.2 230.2h0M407.8 244.7h0M420.3 246.8h0M444.9 247.2h0M402.1 250.5h0M384.6 244.1h0M406.0 243.3h0M383.0 245.1h0M387.2 242.0h0M422.4 250.2h0M418.9 251.8h0M412.2 251.7h0M417.5 251.5h0M477.2 245.7h0M458.7 248.1h0M428.4 249.1h0M398.8 248.5h0M409.9 245.6h0M402.2 239.7h0M436.4 252.2h0M418.9 249.7h0M379.4 236.7h0M452.8 241.9h0M401.9 246.4h0M415.2 249.5h0M438.7 244.5h0M413.7 242.1h0M399.8 247.9h0M386.4 247.3h0M404.7 249.8h0M422.2 243.0h0M448.9 247.2h0M437.7 229.2h0M403.6 238.6h0M426.8 244.2h0M450.1 245.6h0M451.2 242.0h0M442.8 240.3h0M450.0 251.4h0M442.7 245.2h0M414.1 248.6h0M416.6 248.7h0M435.3 251.9h0M412.2 247.2h0M442.6 239.9h0M415.4 250.2h0M401.8 248.5h0M385.5 235.6h0M443.8 234.5h0M437.1 252.1h0M417.5 251.7h0M446.8 250.8h0M456.8 244.0h0M439.3 223.6h0M474.7 238.1h0M440.2 224.7h0M417.5 248.6h0M411.0 251.0h0M430.0 250.8h0M389.8 243.4h0M416.5 251.5h0M407.6 234.9h0M428.8 252.7h0M448.0 251.6h0M422.3 251.3h0M389.0 246.2h0M403.7 248.1h0M425.6 243.4h0M446.7 231.3h0M437.9 248.9h0M444.1 226.6h0M435.1 242.1h0M424.4 245.0h0M463.1 246.9h0M468.5 246.9h0M415.9 247.1h0M443.2 226.4h0M435.5 245.2h0M425.7 252.5h0M403.5 237.7h0M412.7 243.5h0M457.3 248.3h0M409.4 235.9h0M440.3 237.7h0M419.2 251.6h0M406.2 248.6h0M448.2 238.7h0M479.3 232.0h0M378.8 231.7h0M456.1 244.9h0M421.5 240.2h0M388.1 245.5h0M420.3 251.6h0M394.6 234.7h0M398.8 248.2h0M417.2 251.0h0M386.2 238.7h0M447.2 242.7h0M437.6 235.3h0M416.3 249.1h0M399.9 248.1h0M387.0 240.9h0M439.5 248.1h0M414.3 239.1h0M427.6 251.7h0M414.4 249.6h0M382.5 239.1h0M420.6 240.6h0M404.4 246.1h0M457.5 239.3h0M427.5 252.0h0M459.6 241.8h0M407.7 251.3h0M436.5 240.7h0M449.6 232.0h0M432.8 248.5h0M453.7 243.3h0M393.7 236.3h0M458.0 250.0h0M394.3 247.8h0M415.4 247.6h0M437.7 236.7h0M421.1 248.2h0M414.1 249.8h0M417.5 251.9h0M404.0 248.6h0M410.0 241.9h0M401.3 237.2h0M438.4 241.2h0M437.6 252.2h0M434.6 251.6h0M427.1 248.5h0M426.7 250.8h0M408.3 242.9h0M454.4 244.3h0M434.1 249.9h0M449.8 248.3h0M383.5 234.1h0M435.0 249.3h0M424.9 238.9h0M453.2 246.7h0M464.0 246.3h0M403.3 250.5h0M437.0 246.6h0M464.8 248.3h0M445.9 205.5h0M367.7 233.4h0M405.6 238.8h0M386.3 245.0h0M442.3 242.1h0M461.7 246.9h0M407.0 242.3h0M412.9 247.2h0M460.9 241.6h0M398.3 242.3h0M415.5 251.4h0M452.5 246.9h0M438.4 231.5h0M409.3 246.6h0M425.2 246.7h0M442.7 238.1h0M418.9 246.4h0M381.3 235.1h0M393.8 246.3h0M445.2 251.4h0M455.8 246.2h0M426.3 245.2h0M436.2 232.3h0M407.4 245.8h0M444.4 235.8h0M422.9 248.7h0M421.6 245.5h0M394.0 229.9h0M446.7 221.9h0M443.6 237.1h0M460.7 240.4h0M389.8 246.0h0M386.0 246.8h0M416.8 235.8h0M410.0 242.2h0M437.1 251.0h0M363.9 239.0h0M475.4 245.6h0M418.8 249.1h0M444.9 248.2h0M440.1 249.2h0M435.5 231.1h0M456.5 247.5h0M401.0 248.5h0M407.5 241.5h0M416.8 250.0h0M440.3 238.9h0M439.2 223.5h0M399.3 245.3h0M458.3 247.6h0M429.5 252.6h0M422.7 251.2h0M399.2 249.5h0M418.2 245.0h0M411.2 242.2h0M414.2 250.2h0M441.5 216.3h0M387.8 243.9h0M398.7 247.5h0M450.7 243.8h0M401.5 247.2h0M419.5 242.1h0M460.1 247.6h0M394.9 237.9h0M387.8 246.5h0M438.5 248.8h0M384.7 239.9h0M429.9 251.6h0M422.2 240.6h0M447.1 243.7h0M407.8 246.1h0M414.0 248.6h0M424.8 242.1h0M427.2 251.8h0M408.2 250.8h0M435.8 236.7h0M456.5 247.3h0M450.1 244.5h0M428.5 251.3h0M436.5 249.5h0M364.1 240.1h0M448.7 235.0h0M411.6 250.9h0M429.0 252.1h0M433.3 251.9h0M459.4 246.5h0M407.7 240.5h0M406.2 248.2h0M416.2 250.9h0M432.4 252.0h0M412.4 248.8h0M413.1 247.6h0M421.0 252.2h0M426.4 247.0h0M395.4 248.7h0M401.6 243.5h0M395.0 249.4h0M466.3 248.6h0M465.9 244.0h0M402.9 234.2h0M417.9 249.3h0M424.2 248.6h0M391.3 246.2h0M390.0 245.5h0M410.0 247.8h0M395.7 249.3h0M427.3 247.8h0M443.2 250.1h0M421.6 251.4h0M408.6 249.2h0M416.7 250.9h0M463.2 249.4h0M434.9 250.3h0M421.8 248.6h0M406.9 239.6h0M402.8 237.6h0M418.5 247.4h0M452.2 249.7h0M410.2 250.0h0M415.8 242.1h0M445.6 220.7h0M435.8 250.6h0M439.7 241.2h0M392.2 235.4h0M399.9 230.0h0M446.7 248.5h0M394.4 243.5h0M422.9 250.8h0M451.5 245.4h0M485.8 239.7h0M411.6 244.7h0M417.5 250.3h0M403.9 249.2h0M413.5 244.2h0M411.4 250.7h0M384.2 237.0h0M420.0 251.6h0M404.3 238.2h0M394.4 233.9h0M425.9 243.9h0M462.4 248.4h0M451.8 244.4h0M412.4 245.1h0M421.4 241.3h0M462.3 245.4h0M425.5 249.5h0M443.7 236.1h0M410.0 244.5h0M443.9 228.2h0M404.4 247.7h0M406.4 249.1h0M422.6 250.8h0M391.2 240.8h0M383.6 244.8h0M427.4 252.4h0M467.1 234.0h0M411.6 239.8h0M369.1 230.0h0M387.7 246.9h0M411.6 240.3h0M441.5 226.5h0M428.5 251.7h0M429.2 252.6h0M422.0 239.5h0M436.0 247.8h0M412.7 250.9h0M375.2 236.4h0M415.5 251.8h0M440.3 252.1h0M428.4 251.9h0M410.5 242.7h0M406.1 239.8h0M405.2 245.8h0M420.0 249.4h0M437.0 241.1h0M413.7 251.9h0M427.7 245.9h0M407.4 245.1h0M449.5 239.5h0M424.7 241.2h0M395.9 243.9h0M431.0 252.3h0M413.8 243.8h0M407.3 248.1h0M421.2 247.3h0M442.2 226.8h0M426.7 251.5h0M430.8 251.5h0M415.9 251.5h0M407.7 248.1h0M442.2 234.7h0M402.6 243.7h0M437.0 242.6h0M447.5 247.2h0M420.2 230.2h0M436.6 252.0h0M409.1 251.3h0M408.4 249.2h0M438.6 244.7h0M379.0 236.6h0M416.9 246.0h0M412.8 249.1h0M437.5 231.7h0M446.0 226.9h0M452.0 250.2h0M424.2 249.5h0M432.3 247.8h0M425.7 250.5h0M419.7 241.8h0M444.7 213.4h0M390.8 248.1h0M452.8 248.3h0M429.7 250.8h0M385.6 237.4h0M424.1 248.3h0M409.6 248.7h0M422.3 252.4h0M403.4 246.0h0M406.7 246.3h0M422.6 252.1h0M452.0 240.6h0M422.6 239.0h0M479.6 244.4h0M359.6 239.8h0M461.0 248.0h0M438.1 232.4h0M422.5 249.8h0M394.0 236.0h0M414.5 250.7h0M429.0 248.1h0M397.1 245.1h0M447.7 239.9h0M420.0 250.0h0M418.2 248.5h0M410.8 249.5h0M401.7 250.0h0M389.7 245.8h0M385.1 247.5h0M465.7 244.5h0M399.6 248.9h0M447.8 236.4h0M372.8 240.2h0M420.0 241.1h0M407.9 236.6h0M426.3 247.4h0M468.1 239.7h0M449.4 249.7h0M447.6 248.3h0M364.9 236.2h0M395.8 246.7h0M419.4 240.8h0M455.7 246.0h0M376.5 244.4h0M426.3 251.1h0M411.1 248.0h0M446.9 223.5h0M433.0 247.2h0M436.9 240.2h0M391.6 245.4h0M403.7 250.0h0M459.3 249.0h0M424.4 252.2h0M386.1 245.1h0M396.4 240.2h0M411.7 247.4h0M422.8 245.1h0M455.2 247.5h0M453.3 250.7h0M459.3 247.1h0M405.5 243.6h0M428.1 252.4h0M417.7 247.7h0M419.9 243.1h0M422.6 247.5h0M452.4 250.4h0M488.9 236.4h0M406.9 249.6h0M396.1 248.7h0M418.8 251.7h0M462.1 243.5h0M417.6 237.4h0M403.9 250.9h0M446.4 228.6h0M442.2 219.7h0M455.1 248.0h0M415.0 244.7h0M455.0 238.2h0M410.8 248.3h0M401.4 247.5h0M425.4 239.2h0M413.0 243.8h0M409.8 248.3h0M437.0 242.8h0M449.8 244.6h0M477.4 234.4h0M443.2 244.3h0M434.3 242.6h0M406.1 249.9h0M434.4 240.2h0M423.6 238.2h0M422.4 250.4h0M406.7 249.4h0M420.1 243.0h0M389.0 245.7h0M433.6 252.6h0M405.1 249.6h0M389.3 247.8h0M450.0 249.3h0M414.9 239.8h0M407.1 244.0h0M424.9 239.3h0M426.1 249.1h0M453.9 250.7h0M416.4 234.9h0M453.1 242.7h0M473.0 238.5h0M414.3 250.4h0M358.9 234.1h0M417.6 249.6h0M414.2 243.8h0M426.7 250.4h0M399.7 244.3h0M437.8 245.5h0M445.6 247.8h0M445.0 212.1h0M441.2 228.5h0M415.7 245.8h0M464.5 245.9h0M415.8 242.5h0M412.1 241.5h0M443.6 247.3h0M427.1 249.3h0M437.8 233.0h0M418.0 248.6h0M412.0 239.1h0M437.5 243.1h0M344.8 230.3h0M416.9 249.7h0M406.8 243.6h0M410.6 240.2h0M438.3 227.6h0M464.9 247.0h0M447.2 219.6h0M470.9 240.5h0M443.0 238.9h0M434.5 245.7h0M438.7 226.2h0M420.7 251.2h0M437.3 229.8h0M411.9 247.5h0M402.9 249.9h0M440.0 242.7h0M426.7 252.3h0M406.1 249.5h0M453.7 246.7h0M411.5 241.1h0M439.1 248.1h0M424.6 250.6h0M450.6 249.7h0M453.4 240.9h0M390.7 246.3h0M421.5 232.8h0M370.9 242.5h0M427.2 249.4h0M429.6 252.7h0M385.3 243.0h0M408.3 251.3h0M427.0 252.2h0M400.8 248.7h0M435.5 236.6h0M398.4 244.9h0M409.1 238.6h0M466.1 248.4h0M384.4 241.1h0M384.5 238.2h0M451.1 251.6h0M438.2 244.2h0M406.8 243.2h0M445.6 237.6h0M417.4 246.3h0M407.8 248.0h0M394.5 248.0h0M438.8 244.4h0M414.6 242.0h0M364.3 239.8h0M468.4 248.0h0M446.4 228.7h0M416.5 235.3h0M438.7 241.8h0M437.2 244.3h0M449.7 249.1h0M465.2 245.1h0M430.3 251.9h0M426.5 252.7h0M408.8 243.6h0M460.7 249.0h0M402.1 230.2h0M402.0 238.9h0M403.6 250.7h0M458.0 248.5h0M406.3 250.4h0M390.8 247.8h0M437.4 246.4h0M397.6 238.9h0M406.5 251.2h0M426.6 247.8h0M425.9 247.7h0M425.4 251.0h0M401.4 249.2h0M415.2 251.7h0M422.3 251.1h0M436.8 252.4h0M458.3 236.3h0M456.1 243.6h0M453.9 247.1h0M411.2 240.5h0M464.5 249.0h0M450.1 247.9h0M422.9 249.7h0M390.8 242.2h0M438.6 242.7h0M457.6 248.3h0M419.3 251.4h0M411.4 250.6h0M437.1 246.5h0M413.1 251.4h0M471.2 244.9h0M399.2 249.2h0M469.9 244.5h0M435.9 240.8h0M442.7 250.8h0M409.8 250.5h0M419.1 236.2h0M422.2 239.4h0M419.2 243.2h0M446.1 237.4h0M433.4 252.5h0M417.9 244.3h0M410.5 244.8h0M417.0 246.3h0M441.0 245.6h0M438.1 232.2h0M460.1 239.5h0M450.1 244.6h0M433.8 247.0h0M421.0 250.4h0M459.3 245.6h0M438.4 248.0h0M413.1 239.2h0M435.0 250.6h0M443.6 250.6h0M389.2 235.2h0M405.0 242.5h0M409.9 237.8h0M408.9 249.0h0M467.4 248.2h0M387.4 245.8h0M435.1 240.1h0M441.4 246.3h0M388.4 246.3h0M451.0 250.1h0M405.7 250.4h0M427.2 248.9h0M437.4 237.8h0M459.7 237.9h0M437.5 250.9h0M381.0 240.3h0M405.8 248.4h0M410.7 246.8h0M409.4 246.9h0M387.0 244.7h0M425.3 245.8h0M365.5 240.0h0M421.6 247.6h0M422.2 251.2h0M418.8 249.4h0M438.8 243.0h0M452.9 249.8h0M425.8 243.3h0M413.3 242.0h0M414.8 250.4h0M437.3 246.7h0M421.8 247.2h0M406.1 251.1h0M413.4 249.8h0M427.2 250.2h0M449.3 247.6h0M416.7 246.4h0M404.3 247.7h0M451.5 251.4h0M433.9 247.9h0M454.4 249.0h0M420.1 248.0h0M408.0 249.4h0M404.0 249.9h0M456.3 247.0h0M379.0 232.4h0M385.1 243.2h0M387.9 240.0h0M442.7 227.1h0M383.5 239.4h0M440.2 238.9h0M414.9 251.7h0M390.9 247.9h0M424.1 249.4h0M391.8 246.9h0M434.3 243.2h0M438.8 224.5h0M394.3 236.6h0M396.3 243.8h0M440.3 239.4h0M417.3 230.7h0M394.3 249.0h0M440.4 216.5h0M458.1 246.0h0M452.8 238.4h0M435.9 238.9h0M405.8 250.4h0M402.6 249.3h0M426.7 250.4h0M421.6 251.9h0M437.2 236.1h0M409.3 246.9h0M421.5 249.6h0M482.8 243.4h0M372.9 242.3h0M410.6 247.9h0M442.1 221.3h0M433.1 249.9h0M428.1 247.4h0M412.9 251.2h0M414.5 246.7h0M469.9 245.8h0M466.2 244.8h0M414.0 243.5h0M403.3 230.7h0M435.3 243.2h0M447.1 241.9h0M378.0 243.6h0M406.5 248.0h0M445.6 212.7h0M401.8 247.9h0M473.4 246.7h0M405.8 248.5h0M452.8 246.6h0M410.9 237.2h0M415.3 248.5h0M430.2 251.5h0M418.8 251.1h0M407.5 248.4h0M449.4 246.3h0M436.5 237.7h0M442.9 225.5h0M461.8 248.5h0M408.2 247.3h0M444.5 245.3h0M414.5 249.3h0M460.6 249.6h0M385.8 246.4h0M446.5 227.0h0M446.7 243.3h0M421.6 251.0h0M438.3 252.2h0M418.1 251.4h0M414.4 248.4h0M423.5 252.5h0M440.8 249.0h0M441.7 240.5h0M448.4 250.1h0M407.3 248.0h0M424.4 240.3h0M438.9 251.6h0M384.1 244.6h0M356.9 235.0h0M425.5 251.4h0M449.2 251.5h0M381.5 243.4h0M402.5 237.3h0M408.7 238.6h0M388.8 248.1h0M444.4 229.8h0M423.2 249.3h0M407.9 240.8h0M421.6 240.7h0M448.7 251.5h0M428.4 252.5h0M386.0 246.1h0M399.9 244.7h0M408.0 247.7h0M442.5 227.1h0M454.3 245.9h0M400.4 247.3h0M418.1 251.3h0M449.5 243.8h0M438.0 241.4h0M441.9 246.7h0M418.7 251.7h0M434.0 251.6h0M397.0 239.3h0M471.8 244.6h0M422.7 243.6h0M410.1 247.7h0M408.7 245.8h0M448.4 250.2h0M441.6 238.8h0M420.6 244.7h0M420.5 251.3h0M398.0 247.0h0M439.0 244.2h0M424.6 243.8h0M400.5 238.2h0M451.5 249.6h0M385.4 247.0h0M465.3 247.6h0M407.2 245.9h0M409.8 249.6h0M418.0 245.4h0M394.5 248.3h0M459.7 246.0h0M416.1 244.4h0M452.0 250.2h0M436.5 248.4h0M420.6 246.0h0M407.7 245.6h0M391.6 240.6h0M430.3 251.9h0M412.3 251.5h0M394.2 238.4h0M477.5 238.4h0M440.9 234.6h0M433.7 251.1h0M443.3 223.8h0M403.6 247.0h0M418.6 251.2h0M452.4 244.5h0M408.7 249.0h0M438.1 249.1h0M437.9 233.6h0M425.7 241.5h0M429.3 249.1h0M400.4 245.1h0M447.1 235.8h0M407.0 247.9h0M415.0 241.5h0M410.1 244.5h0M449.4 248.7h0M437.4 248.4h0M443.8 243.6h0M412.9 246.6h0M414.4 235.1h0M416.8 252.0h0M441.7 233.6h0M419.8 252.4h0M451.1 247.9h0M443.2 235.8h0M376.8 244.8h0M394.0 242.6h0M497.2 238.4h0M387.0 235.9h0M440.4 235.4h0M427.7 249.1h0M401.0 246.7h0M416.0 246.4h0M379.0 236.5h0M471.8 245.2h0M441.8 235.7h0M401.6 244.4h0M398.2 248.2h0M424.6 246.7h0M413.0 251.7h0M435.6 241.4h0M451.8 248.0h0M433.1 245.4h0M444.5 249.9h0M469.0 247.3h0M414.1 249.6h0M475.6 243.7h0M402.0 247.1h0M448.3 233.5h0M435.2 245.9h0M425.3 250.4h0M413.0 249.5h0M454.4 242.7h0M410.5 243.4h0M449.7 237.6h0M428.4 252.8h0M418.0 238.1h0M400.4 244.5h0M419.4 243.9h0M404.9 250.6h0M427.8 246.5h0M441.3 246.6h0M428.2 250.5h0M395.8 238.8h0M356.9 230.9h0M416.7 251.5h0M422.7 248.0h0M371.4 242.2h0M400.1 246.3h0M457.5 247.6h0M445.1 224.8h0M380.9 241.7h0M426.6 243.0h0M439.6 232.7h0M415.4 247.7h0M405.1 247.3h0M380.0 245.3h0M441.9 251.9h0M410.8 244.3h0M444.7 238.0h0M452.2 249.7h0M438.6 239.4h0M409.2 248.5h0M447.9 246.3h0M439.7 239.0h0M413.8 245.9h0M425.2 242.7h0M432.4 251.8h0M417.5 248.7h0M459.7 250.2h0M439.9 245.6h0M451.7 248.8h0M444.3 216.7h0M398.2 249.6h0M418.8 250.4h0M483.2 243.4h0M458.5 249.1h0M435.4 244.0h0M442.1 245.3h0M392.1 247.1h0M456.5 235.6h0M410.6 249.3h0M439.8 245.2h0M454.8 245.6h0M379.5 233.9h0M425.4 249.9h0M399.5 248.2h0M389.8 247.1h0M447.2 238.3h0M424.2 247.0h0M447.4 247.4h0M436.7 245.5h0M456.5 249.7h0M447.0 238.3h0M373.4 236.9h0M438.7 231.2h0M394.2 244.9h0M436.7 250.1h0M415.6 247.8h0M435.9 236.1h0M433.5 247.3h0M422.2 246.9h0M475.2 241.8h0M434.2 249.5h0M375.4 237.0h0M395.6 246.8h0M467.8 238.4h0M402.3 247.5h0M435.0 252.2h0M426.4 248.7h0M464.3 244.5h0M492.0 240.2h0M458.7 244.1h0M437.6 231.4h0M458.0 248.6h0M444.0 249.5h0M427.2 244.6h0M422.3 243.1h0M453.8 246.5h0M418.8 250.9h0M440.2 251.8h0M415.4 251.2h0M447.3 248.4h0M371.7 235.4h0M411.1 245.5h0M435.2 251.6h0M412.0 250.4h0M415.8 240.0h0M407.6 247.8h0M441.8 243.7h0M452.7 244.3h0M436.1 241.5h0M400.2 235.7h0M424.0 242.3h0M421.7 252.5h0M461.5 241.1h0M406.4 248.3h0M420.9 249.2h0M417.5 252.2h0M433.8 243.8h0M375.8 237.9h0M381.1 246.5h0M463.1 246.0h0M427.2 244.9h0M396.0 246.1h0M406.6 247.6h0M417.1 235.5h0M402.9 246.7h0M455.6 249.5h0M422.4 251.6h0M436.0 251.3h0M439.6 252.3h0M432.4 247.2h0M469.1 244.6h0M443.4 240.8h0M428.0 250.8h0M462.8 248.0h0M460.1 245.6h0M448.9 249.1h0M397.7 244.7h0M429.5 252.2h0M415.6 249.0h0M420.5 240.6h0M423.1 250.2h0M419.8 248.6h0M402.2 233.5h0M437.9 241.4h0M417.9 248.8h0M416.2 245.3h0M434.5 246.6h0M423.7 248.3h0M404.9 248.7h0M405.5 239.5h0M403.1 241.3h0M466.8 248.2h0M406.6 241.0h0M420.0 246.4h0M421.9 238.3h0M408.3 246.6h0M377.7 234.0h0M436.4 251.4h0M433.2 250.6h0M400.4 241.0h0M419.2 249.7h0M449.2 251.5h0M382.7 240.5h0M470.2 243.8h0M470.9 245.0h0M417.5 252.2h0M393.6 249.1h0M445.0 248.5h0M436.5 234.3h0M420.3 251.1h0M418.5 249.0h0M415.5 251.8h0M423.8 238.6h0M416.4 250.2h0M438.3 237.5h0M413.5 249.4h0M422.1 247.5h0M415.2 247.9h0M367.2 240.7h0M404.9 232.7h0M448.8 251.4h0M410.5 250.9h0M434.8 240.1h0M477.3 238.1h0M435.8 246.1h0M432.2 251.6h0M403.6 247.3h0M409.2 243.1h0M435.8 251.6h0M424.6 251.0h0M447.2 234.1h0M425.3 249.7h0M439.8 239.1h0M407.3 250.0h0M437.6 240.4h0M436.2 252.3h0M414.4 251.6h0M432.8 247.6h0M455.3 249.0h0M382.4 246.8h0M390.5 247.2h0M436.3 245.6h0M400.9 248.9h0M402.5 237.6h0M411.5 244.6h0M410.6 237.9h0M446.8 237.5h0M397.4 249.4h0M439.2 243.3h0M425.6 248.3h0M422.9 251.9h0M453.6 247.8h0M440.9 238.4h0M383.0 237.4h0M424.2 250.6h0M425.3 251.5h0M420.8 249.4h0M441.6 245.1h0M407.6 245.5h0M422.1 248.1h0M408.6 242.9h0M402.9 250.2h0M477.0 244.6h0M441.0 226.2h0M443.9 247.5h0M442.8 237.1h0M432.9 246.3h0M420.2 247.1h0M414.9 250.5h0M386.9 244.3h0M468.2 247.9h0M443.0 217.5h0M487.3 240.9h0M415.8 246.2h0M436.3 246.4h0M429.6 249.9h0M433.8 248.4h0M407.2 248.6h0M412.6 232.9h0M423.5 250.6h0M389.2 244.4h0M426.9 252.0h0M452.5 248.8h0M465.7 242.1h0M429.1 248.3h0M391.9 248.4h0M449.2 251.1h0M399.2 246.1h0M428.2 252.7h0M426.1 249.1h0M433.8 247.4h0M424.9 252.2h0M450.2 242.8h0M409.4 250.4h0M414.4 233.3h0M395.3 241.7h0M412.3 245.9h0M446.9 247.7h0M417.5 234.1h0M410.8 242.7h0M401.1 248.3h0M424.3 252.1h0M425.4 245.3h0M415.8 249.3h0M420.0 249.1h0M415.1 246.0h0M421.6 250.0h0M454.0 244.5h0M409.0 248.3h0M437.4 242.8h0M423.9 249.5h0M461.9 247.0h0M420.5 250.5h0M473.4 246.3h0M418.3 247.1h0M423.2 246.7h0M422.4 238.3h0M376.1 236.4h0M383.7 246.4h0M408.0 250.2h0M451.2 248.5h0M411.5 249.1h0M402.4 249.5h0M406.9 249.0h0M357.0 235.5h0M410.7 250.9h0M363.3 237.1h0M447.5 251.8h0M434.0 246.0h0M414.1 246.8h0M400.6 246.2h0M444.4 221.8h0M424.3 240.0h0M443.9 221.3h0M422.8 240.0h0M420.5 249.0h0M427.8 249.6h0M414.6 247.7h0M447.3 219.3h0M420.4 238.9h0M370.9 238.2h0M412.8 250.8h0M414.7 250.0h0M449.2 241.2h0M434.8 242.0h0M412.0 245.4h0M418.6 250.0h0M448.5 242.7h0M452.6 247.8h0M394.5 248.7h0M454.1 241.1h0M417.9 235.2h0M405.6 250.9h0M437.9 239.2h0M447.2 162.8h0M420.4 207.0h0M418.0 209.6h0M445.4 197.1h0M442.0 169.2h0M417.6 212.1h0M441.2 155.7h0M419.4 192.3h0" stroke="#000" stroke-opacity="0.78" stroke-width="1.15" stroke-linecap="round"/><path d="M447.8 250.2h0M404.1 249.6h0M436.5 241.9h0M460.9 246.8h0M435.5 233.3h0M440.0 252.5h0M395.0 245.3h0M440.7 249.4h0M412.5 250.6h0M425.1 252.5h0M443.8 232.5h0M411.8 247.0h0M425.5 243.6h0M429.3 251.1h0M437.6 236.3h0M438.4 247.0h0M469.4 247.5h0M420.7 233.7h0M427.5 252.5h0M418.0 245.9h0M446.6 223.6h0M418.8 239.2h0M449.0 249.4h0M378.1 237.5h0M433.6 250.5h0M444.0 221.3h0M444.0 250.9h0M462.8 248.8h0M437.5 244.0h0M417.1 242.7h0M435.2 244.7h0M414.0 250.4h0M387.6 241.8h0M427.4 248.7h0M415.1 247.9h0M439.5 249.8h0M462.0 249.4h0M436.0 239.7h0M445.3 238.1h0M356.2 237.0h0M395.2 248.1h0M416.3 245.0h0M438.3 240.9h0M426.6 248.1h0M445.0 245.5h0M408.8 247.1h0M436.6 246.9h0M444.7 237.7h0M400.7 248.9h0M434.8 236.2h0M424.9 248.3h0M439.9 231.9h0M461.2 247.4h0M442.0 230.4h0M419.5 246.9h0M440.8 242.3h0M458.9 235.0h0M369.5 243.3h0M464.7 236.7h0M427.2 249.8h0M398.6 245.1h0M445.3 221.6h0M441.3 245.5h0M416.4 247.8h0M444.4 237.0h0M413.8 249.8h0M404.8 247.7h0M450.2 246.1h0M401.7 246.6h0M432.4 252.4h0M394.1 244.4h0M396.7 245.9h0M403.7 243.6h0M435.0 237.2h0M402.9 249.8h0M423.7 251.1h0M413.6 251.0h0M415.6 243.2h0M434.2 250.4h0M429.7 251.2h0M478.7 241.6h0M422.5 237.2h0M419.2 249.8h0M433.9 252.6h0M436.5 227.8h0M373.9 244.4h0M455.4 245.2h0M418.5 250.9h0M454.7 250.8h0M422.8 250.3h0M396.9 239.7h0M423.9 249.6h0M420.1 248.0h0M449.9 250.2h0M439.7 250.8h0M432.5 247.6h0M407.9 246.6h0M405.0 240.2h0M441.1 229.6h0M434.1 252.1h0M399.4 244.6h0M398.8 245.9h0M457.6 246.0h0M416.3 251.1h0M418.5 251.6h0M465.9 245.2h0M432.6 251.4h0M417.8 233.4h0M382.5 236.1h0M434.1 243.9h0M438.0 246.3h0M403.2 241.0h0M441.7 247.1h0M417.9 244.1h0M420.0 252.2h0M435.3 250.6h0M441.4 240.4h0M422.1 238.5h0M446.4 200.2h0M376.2 241.4h0M381.7 243.7h0M404.5 242.1h0M430.0 252.5h0M463.4 233.7h0M402.0 248.5h0M413.4 247.9h0M420.8 249.2h0M429.3 252.5h0M441.9 246.2h0M397.6 249.7h0M438.4 251.5h0M469.5 247.8h0M412.4 250.9h0M434.6 245.6h0M418.8 249.0h0M465.2 246.8h0M433.2 249.3h0M429.4 252.7h0M415.4 232.4h0M389.5 240.7h0M406.0 238.4h0M408.0 236.2h0M423.9 240.7h0M390.8 238.0h0M394.4 236.8h0M455.6 248.0h0M408.6 242.9h0M384.6 244.3h0M448.3 251.9h0M447.9 232.4h0M391.2 231.9h0M420.4 252.3h0M393.1 247.1h0M445.4 250.7h0M419.6 247.9h0M413.8 243.6h0M447.0 234.1h0M427.1 249.3h0M473.8 238.7h0M424.1 250.5h0M403.3 238.5h0M409.5 247.0h0M434.6 242.0h0M381.4 246.2h0M444.5 230.8h0M453.2 248.8h0M389.3 246.0h0M400.0 247.3h0M421.3 249.8h0M467.3 239.0h0M415.3 251.4h0M399.0 246.8h0M451.5 243.7h0M405.3 242.8h0M444.7 243.5h0M448.6 246.8h0M409.8 250.1h0M441.4 243.9h0M409.3 250.5h0M390.7 247.9h0M480.5 235.0h0M434.0 246.7h0M423.2 251.5h0M427.6 246.5h0M438.8 239.3h0M445.2 202.4h0M393.7 244.6h0M420.9 251.6h0M429.6 251.4h0M432.5 252.1h0M441.3 241.0h0M446.5 244.3h0M446.1 247.2h0M391.8 234.9h0M421.7 247.5h0M417.6 251.4h0M409.5 246.2h0M427.4 252.2h0M423.3 246.5h0M391.2 244.1h0M443.1 237.9h0M452.0 249.1h0M425.5 244.5h0M382.6 244.7h0M468.7 238.9h0M435.3 251.5h0M436.2 251.5h0M425.5 246.0h0M419.5 243.4h0M454.8 242.5h0M456.5 249.0h0M417.1 246.1h0M416.6 250.3h0M421.6 248.4h0M404.5 248.8h0M406.8 251.1h0M433.3 250.0h0M420.1 251.9h0M437.0 247.5h0M428.3 252.6h0M440.8 251.3h0M448.0 247.2h0M409.9 248.0h0M395.3 249.6h0M423.8 249.7h0M395.3 241.8h0M400.5 245.5h0M435.3 252.0h0M410.6 250.8h0M439.7 230.9h0M451.0 247.8h0M437.3 249.3h0M473.1 246.0h0M411.2 247.7h0M410.1 247.8h0M438.9 237.1h0M400.6 248.8h0M445.1 224.4h0M463.7 248.7h0M410.9 241.6h0M432.4 250.7h0M437.5 246.6h0M447.7 244.7h0M433.2 251.7h0M448.4 251.3h0M408.0 249.0h0M443.5 217.3h0M441.2 244.5h0M411.3 242.3h0M481.1 240.9h0M423.0 242.3h0M453.8 246.9h0M404.2 249.6h0M459.7 244.5h0M398.4 249.6h0M417.5 245.7h0M399.7 250.2h0M410.9 236.7h0M383.5 246.7h0M446.0 227.5h0M347.2 234.5h0M453.5 245.5h0M434.6 248.6h0M438.9 244.0h0M439.3 248.3h0M441.7 250.4h0M421.2 250.0h0M449.8 250.8h0M404.8 243.6h0M458.5 248.2h0M440.4 242.3h0M421.4 246.2h0M470.2 247.7h0M435.3 247.4h0M413.2 251.8h0M394.1 247.8h0M408.4 250.9h0M451.0 246.3h0M396.7 248.8h0M419.0 248.9h0M381.9 241.2h0M442.2 241.9h0M445.8 197.9h0M382.0 242.8h0M429.3 251.7h0M427.7 252.5h0M434.1 249.3h0M415.5 251.2h0M460.0 236.3h0M437.7 250.1h0M402.2 240.3h0M464.0 248.9h0M450.1 251.7h0M404.8 240.6h0M424.8 246.5h0M385.3 237.7h0M415.2 245.8h0M416.8 230.8h0M425.9 249.8h0M435.9 246.4h0M437.9 236.4h0M443.0 245.7h0M435.2 246.3h0M428.5 251.7h0M416.7 247.9h0M453.1 251.0h0M410.0 230.4h0M414.7 246.7h0M417.2 234.9h0M378.2 237.5h0M419.4 237.9h0M413.1 242.0h0M373.6 243.9h0M411.4 246.0h0M414.5 243.2h0M424.7 245.7h0M397.5 233.7h0M445.2 246.0h0M377.5 241.5h0M404.5 249.6h0M438.7 231.2h0M402.1 241.5h0M405.9 245.2h0M449.8 251.0h0M448.0 244.8h0M408.9 247.9h0M442.5 245.7h0M441.2 226.0h0M398.2 246.6h0M455.4 245.6h0M412.6 251.2h0M455.6 245.8h0M434.5 249.3h0M418.8 236.9h0M395.6 237.3h0M440.5 247.0h0M435.7 246.1h0M413.1 234.8h0M397.5 246.1h0M438.2 226.9h0M377.5 243.2h0M406.9 247.1h0M401.0 249.5h0M437.8 245.9h0M423.6 249.3h0M414.3 248.9h0M420.9 242.5h0M428.3 247.5h0M403.6 250.4h0M440.5 245.0h0M405.6 245.7h0M397.3 243.0h0M417.7 242.1h0M476.2 236.1h0M434.0 244.5h0M417.3 225.7h0M419.1 250.1h0M409.3 242.0h0M424.7 251.9h0M388.7 247.3h0M408.2 249.8h0M462.1 248.3h0M418.8 234.7h0M364.8 235.3h0M415.5 237.1h0M436.1 246.3h0M414.8 248.3h0M444.4 246.6h0M405.4 245.7h0M417.7 248.2h0M401.0 249.5h0M403.0 250.6h0M407.3 248.1h0M421.6 249.5h0M377.0 243.6h0M406.2 243.7h0M431.9 251.0h0M435.3 239.0h0M464.4 248.2h0M443.4 228.6h0M418.6 249.4h0M392.8 240.0h0M408.0 234.6h0M444.5 234.7h0M440.1 240.0h0M453.2 241.8h0M409.9 237.6h0M425.7 249.3h0M418.7 245.5h0M412.8 244.4h0M413.9 239.4h0M412.1 247.5h0M433.7 250.4h0M415.3 245.2h0M443.3 222.3h0M418.3 242.7h0M434.6 236.2h0M368.5 239.4h0M415.9 245.0h0M419.8 250.2h0M420.7 251.2h0M409.2 246.2h0M398.4 248.7h0M409.3 248.8h0M404.5 235.7h0M423.1 252.4h0M428.1 249.7h0M397.2 249.8h0M415.5 241.3h0M435.7 240.3h0M392.3 247.6h0M407.9 246.9h0M447.4 251.2h0M445.2 225.7h0M418.9 243.8h0M421.2 244.7h0M426.2 247.3h0M410.0 247.6h0M450.6 239.2h0M442.3 238.0h0M494.5 238.4h0M422.6 242.9h0M445.9 217.7h0M414.3 244.7h0M399.8 248.0h0M377.1 241.2h0M476.6 244.6h0M440.6 243.3h0M408.3 251.1h0M444.3 242.8h0M460.9 249.0h0M414.0 237.4h0M421.6 245.0h0M436.2 251.1h0M420.7 244.9h0M455.6 241.0h0M420.9 252.0h0M458.7 247.2h0M423.0 248.5h0M395.1 247.0h0M442.6 249.0h0M447.6 243.5h0M460.9 249.5h0M412.8 251.7h0M475.2 245.9h0M402.1 246.7h0M463.5 248.1h0M464.7 246.5h0M435.8 247.2h0M397.0 248.6h0M436.9 234.9h0M435.6 242.7h0M428.9 252.4h0M443.4 243.1h0M380.1 246.0h0M424.3 247.6h0M423.5 246.4h0M419.5 251.0h0M411.0 248.5h0M443.4 229.6h0M406.1 249.5h0M412.6 251.1h0M439.2 244.6h0M396.9 239.7h0M440.7 235.0h0M428.1 248.3h0M450.4 245.2h0M450.5 251.6h0M420.7 247.0h0M433.8 238.1h0M424.1 252.3h0M421.8 249.3h0M428.7 251.4h0M426.1 251.8h0M412.0 250.1h0M441.2 247.1h0M417.3 248.6h0M417.8 242.1h0M446.3 246.0h0M450.4 249.4h0M381.8 246.0h0M449.5 251.7h0M425.1 247.4h0M420.1 251.0h0M394.7 246.1h0M378.3 239.4h0M473.5 243.8h0M412.5 247.1h0M377.6 240.1h0M404.3 249.6h0M416.4 252.1h0M455.3 234.1h0M441.7 245.9h0M408.6 243.8h0M406.1 247.3h0M407.0 246.4h0M421.7 247.3h0M418.2 250.2h0M391.5 248.6h0M409.8 247.9h0M467.6 241.1h0M411.7 236.3h0M390.0 246.5h0M397.2 244.3h0M442.1 235.8h0M377.8 241.7h0M419.8 245.7h0M434.8 252.4h0M435.9 234.4h0M452.3 239.5h0M443.4 215.7h0M438.1 250.4h0M412.8 251.4h0M402.3 233.0h0M416.7 233.7h0M417.0 252.2h0M440.9 224.2h0M427.1 249.1h0M439.4 247.6h0M416.7 249.8h0M422.6 241.9h0M452.5 248.6h0M427.5 250.9h0M415.8 242.7h0M365.7 236.2h0M411.5 245.3h0M444.7 247.9h0M444.5 245.0h0M452.7 249.0h0M436.0 249.3h0M437.8 240.2h0M410.2 244.0h0M422.6 244.2h0M437.5 249.8h0M419.6 250.7h0M450.3 250.6h0M426.8 249.8h0M418.5 232.1h0M449.1 248.8h0M442.3 233.6h0M372.9 235.8h0M425.3 252.5h0M413.3 244.0h0M436.5 248.5h0M414.9 250.6h0M364.8 237.6h0M421.5 245.3h0M471.8 241.1h0M422.7 250.3h0M398.9 249.1h0M425.5 242.3h0M448.9 251.0h0M421.8 245.1h0M414.6 248.9h0M441.9 213.3h0M442.2 252.2h0M397.7 246.0h0M445.9 246.5h0M392.0 245.6h0M375.4 241.3h0M407.5 237.8h0M406.0 247.6h0M418.0 230.1h0M406.2 247.3h0M424.9 251.4h0M367.6 236.7h0M414.8 251.3h0M439.5 224.7h0M440.3 245.0h0M452.3 248.5h0M458.0 245.4h0M468.6 248.3h0M413.6 249.0h0M392.8 242.5h0M426.6 247.4h0M411.7 251.4h0M410.9 249.1h0M437.3 241.6h0M414.0 244.1h0M448.1 243.7h0M420.6 232.8h0M461.0 243.4h0M421.7 246.9h0M416.2 249.0h0M398.8 248.0h0M439.1 235.3h0M398.9 249.0h0M432.5 251.6h0M415.6 247.0h0M427.5 250.3h0M409.2 246.9h0M408.5 249.6h0M443.6 239.6h0M425.5 245.0h0M474.1 241.6h0M372.7 237.1h0M426.7 246.1h0M465.7 239.3h0M445.4 223.2h0M448.1 234.8h0M427.1 251.0h0M420.3 249.1h0M422.7 252.4h0M438.4 233.3h0M431.3 252.8h0M391.1 248.8h0M467.1 244.3h0M441.6 247.7h0M417.2 250.6h0M410.1 246.6h0M454.3 247.2h0M458.2 240.5h0M404.3 250.8h0M402.9 244.0h0M409.1 246.1h0M421.1 243.9h0M410.8 239.3h0M411.4 251.5h0M400.2 249.3h0M451.7 248.4h0M416.1 250.3h0M418.0 229.8h0M439.8 251.3h0M452.0 251.2h0M452.7 245.7h0M424.7 251.1h0M409.3 241.7h0M439.0 236.2h0M416.0 247.1h0M411.7 249.1h0M390.3 244.7h0M428.9 251.7h0M440.7 252.5h0M435.0 241.1h0M399.2 246.0h0M418.5 252.1h0M392.9 247.2h0M421.3 251.7h0M422.4 242.9h0M425.0 239.9h0M441.4 249.9h0M384.2 245.4h0M440.5 251.2h0M457.2 246.8h0M394.3 241.2h0M441.8 241.8h0M387.1 247.2h0M432.7 248.2h0M397.2 247.6h0M399.3 249.4h0M450.9 243.5h0M422.5 248.9h0M482.0 243.8h0M404.9 248.5h0M399.5 248.2h0M400.2 245.9h0M442.1 250.9h0M425.7 242.6h0M422.3 248.1h0M370.4 237.4h0M417.9 242.0h0M411.8 233.9h0M424.3 248.7h0M423.3 249.1h0M438.8 246.4h0M455.9 231.6h0M382.4 231.2h0M413.7 247.7h0M397.7 246.9h0M415.9 246.8h0M410.4 247.9h0M491.5 240.9h0M383.4 239.3h0M373.3 240.4h0M443.3 250.4h0M423.1 250.1h0M423.7 250.3h0M438.8 236.6h0M418.3 235.2h0M480.0 235.6h0M413.0 235.3h0M459.8 244.3h0M413.6 235.9h0M406.8 250.8h0M438.5 225.7h0M420.2 251.2h0M449.5 248.8h0M397.6 241.3h0M447.3 248.2h0M450.9 232.4h0M422.3 249.0h0M383.4 240.4h0M405.0 233.6h0M447.5 242.9h0M404.7 247.7h0M437.4 248.3h0M391.7 247.6h0M415.2 251.3h0M441.7 232.5h0M419.0 239.2h0M476.3 245.0h0M472.4 242.3h0M389.5 245.5h0M450.6 242.6h0M412.0 249.0h0M389.4 246.6h0M407.1 250.4h0M422.4 250.8h0M429.2 251.9h0M436.1 234.4h0M403.8 248.3h0M449.0 245.7h0M440.5 228.8h0M386.8 244.9h0M424.2 245.6h0M422.0 245.1h0M435.2 251.4h0M374.9 243.2h0M385.1 231.4h0M429.0 249.6h0M446.8 251.9h0M445.3 249.7h0M476.8 233.9h0M404.5 248.7h0M436.6 238.4h0M433.7 249.7h0M437.8 232.4h0M413.7 246.2h0M417.1 249.6h0M402.1 241.7h0M414.0 249.1h0M444.2 243.5h0M396.7 247.7h0M371.3 241.5h0M433.4 242.9h0M394.2 245.0h0M419.3 238.0h0M417.2 249.6h0M386.0 241.2h0M422.8 243.9h0M441.8 248.7h0M444.6 246.3h0M402.7 247.6h0M424.5 247.3h0M455.5 242.5h0M377.0 242.1h0M408.4 248.5h0M423.0 246.2h0M441.7 223.5h0M436.4 238.9h0M401.7 249.9h0M426.8 248.5h0M455.6 244.3h0M407.7 249.5h0M427.8 252.5h0M405.2 243.1h0M406.9 241.1h0M422.6 248.9h0M441.4 228.1h0M437.7 231.6h0M394.3 244.7h0M418.3 246.6h0M422.0 251.9h0M437.8 237.8h0M437.2 241.0h0M441.1 246.9h0M414.3 247.1h0M468.3 244.5h0M410.0 251.0h0M412.8 245.8h0M439.1 237.7h0M400.1 248.9h0M476.6 245.0h0M466.9 247.4h0M433.9 252.3h0M441.7 234.3h0M422.2 238.9h0M455.8 238.0h0M409.3 237.5h0M423.9 251.1h0M461.6 245.5h0M415.3 249.1h0M408.3 249.6h0M444.6 246.7h0M384.9 240.4h0M449.9 243.5h0M416.6 232.8h0M414.2 244.2h0M417.0 245.8h0M365.0 234.9h0M420.4 234.9h0M425.3 249.0h0M391.1 244.9h0M438.2 235.4h0M447.6 250.0h0M399.3 246.1h0M419.8 249.9h0M447.9 234.1h0M416.4 242.3h0M406.3 247.8h0M439.6 239.4h0M395.6 240.6h0M457.1 247.7h0M452.6 250.7h0M367.7 236.9h0M393.4 248.4h0M370.5 243.4h0M438.5 243.3h0M424.1 246.8h0M394.7 247.6h0M403.9 245.2h0M441.7 227.4h0M407.5 245.0h0M445.0 217.4h0M450.4 245.1h0M394.9 249.4h0M402.9 245.7h0M450.4 247.8h0M427.7 251.9h0M371.9 239.7h0M412.9 245.1h0M435.6 246.6h0M449.6 248.1h0M437.1 235.2h0M461.2 249.3h0M393.7 248.5h0M417.7 250.8h0M417.3 245.6h0M427.3 250.7h0M447.1 238.2h0M473.7 243.0h0M445.1 243.1h0M436.0 242.1h0M407.0 250.9h0M420.6 252.0h0M434.8 248.5h0M427.2 246.8h0M446.6 193.0h0M455.0 241.7h0M381.6 234.1h0M449.0 246.7h0M417.1 251.9h0M426.5 245.3h0M435.9 232.6h0M425.8 250.7h0M400.5 247.5h0M402.6 250.5h0M471.7 247.1h0M398.6 238.1h0M402.6 234.3h0M392.8 243.9h0M440.7 231.4h0M402.0 247.8h0M396.5 243.8h0M455.4 247.1h0M433.9 252.0h0M399.2 249.7h0M395.5 247.7h0M449.9 240.8h0M437.7 242.3h0M396.9 239.5h0M422.9 243.4h0M399.3 249.9h0M440.9 230.2h0M428.0 252.6h0M423.9 250.1h0M455.9 250.1h0M422.3 243.1h0M409.2 250.6h0M446.3 233.6h0M409.4 250.2h0M371.0 239.4h0M427.5 250.4h0M407.2 250.7h0M424.6 252.3h0M441.2 219.5h0M395.0 244.0h0M413.7 250.5h0M454.7 232.2h0M409.0 241.8h0M410.7 250.1h0M404.6 247.6h0M420.3 250.2h0M434.4 239.5h0M423.0 249.3h0M474.3 235.5h0M456.1 249.1h0M424.0 248.1h0M421.8 247.0h0M414.4 251.5h0M451.4 237.4h0M457.5 247.0h0M420.0 232.3h0M462.4 245.3h0M446.3 234.3h0M434.8 246.3h0M435.1 250.6h0M385.7 246.7h0M402.9 247.9h0M419.9 244.6h0M414.4 244.2h0M454.6 250.5h0M365.9 239.4h0M429.9 251.7h0M415.4 249.2h0M424.3 249.4h0M439.7 251.4h0M473.7 246.2h0M421.9 251.7h0M366.6 242.2h0M428.4 247.8h0M461.8 242.0h0M401.1 249.5h0M375.4 240.7h0M422.2 244.1h0M429.1 248.5h0M393.0 244.5h0M445.9 218.0h0M446.0 247.9h0M365.8 238.8h0M385.6 246.4h0M421.3 250.3h0M413.3 245.5h0M416.3 251.7h0M432.8 252.0h0M414.4 251.6h0M442.7 232.1h0M388.1 240.9h0M421.7 251.2h0M458.2 243.3h0M410.4 251.3h0M443.8 251.7h0M422.0 241.4h0M465.5 246.6h0M400.6 241.3h0M442.2 224.6h0M466.1 248.7h0M402.6 241.7h0M374.4 234.8h0M432.3 250.3h0M425.0 252.1h0M413.7 243.4h0M440.8 246.3h0M458.1 249.6h0M451.4 246.3h0M437.5 237.9h0M455.4 248.9h0M457.0 250.1h0M439.9 241.3h0M384.5 230.8h0M447.8 243.4h0M426.6 246.7h0M398.3 242.0h0M417.6 251.1h0M446.7 220.3h0M406.6 251.2h0M446.5 221.3h0M439.0 245.4h0M449.3 237.8h0M429.7 250.0h0M407.7 240.4h0M439.6 236.6h0M427.5 248.2h0M407.0 247.1h0M406.9 244.4h0M413.8 249.3h0M446.8 243.8h0M387.0 240.4h0M417.8 241.0h0M417.7 249.0h0M405.4 247.8h0M441.5 251.6h0M417.3 237.2h0M412.9 251.9h0M422.2 244.8h0M432.9 248.0h0M453.3 249.6h0M440.1 243.5h0M436.1 235.1h0M444.6 246.6h0M433.0 246.5h0M458.9 245.4h0M446.2 240.1h0M417.0 240.6h0M454.7 247.1h0M417.0 247.2h0M424.3 251.3h0M420.5 236.0h0M402.1 244.8h0M413.9 248.2h0M436.1 252.4h0M414.3 246.4h0M457.2 244.3h0M404.3 244.9h0M419.0 250.1h0M458.5 244.3h0M460.6 244.4h0M390.6 242.3h0M396.0 248.9h0M438.8 235.0h0M441.1 239.0h0M421.5 245.4h0M442.8 247.1h0M431.4 252.5h0M404.5 243.5h0M424.7 252.0h0M400.6 232.9h0M387.6 245.0h0M390.7 248.2h0M461.4 248.9h0M421.1 240.0h0M436.2 234.6h0M442.4 248.6h0M443.2 246.3h0M392.8 247.5h0M392.0 246.2h0M460.0 249.1h0M450.9 241.7h0M433.1 242.4h0M425.3 252.7h0M444.3 204.2h0M418.0 243.8h0M423.5 252.6h0M407.8 251.3h0M399.1 241.3h0M391.6 245.3h0M413.7 244.6h0M414.5 250.5h0M429.9 252.8h0M424.9 249.3h0M395.6 239.9h0M396.8 248.1h0M423.4 248.0h0M425.1 246.6h0M412.5 242.5h0M389.8 248.0h0M392.3 248.1h0M461.1 249.3h0M463.7 249.3h0M484.1 241.7h0M441.8 238.6h0M439.0 239.7h0M420.6 250.8h0M399.2 248.1h0M411.4 249.9h0M435.0 238.2h0M370.7 234.2h0M436.3 233.8h0M407.0 250.0h0M418.6 239.0h0M447.7 251.7h0M425.1 248.5h0M438.9 252.6h0M443.6 225.3h0M407.0 244.4h0M386.7 241.8h0M395.0 249.0h0M383.0 244.2h0M431.1 252.3h0M446.6 251.5h0M418.5 250.7h0M420.8 249.7h0M406.1 249.0h0M424.9 250.1h0M418.4 252.2h0M399.6 236.2h0M429.8 252.4h0M422.8 251.0h0M414.2 249.5h0M420.0 247.1h0M461.0 244.6h0M446.9 246.6h0M492.5 236.7h0M423.4 236.5h0M427.6 245.9h0M402.7 237.8h0M408.8 251.2h0M435.8 248.4h0M416.0 247.1h0M453.3 244.1h0M406.8 249.4h0M396.9 248.6h0M441.2 247.0h0M403.4 241.4h0M424.1 247.8h0M456.2 245.9h0M419.3 247.6h0M442.5 237.1h0M440.2 241.5h0M444.7 242.8h0M396.9 240.6h0M393.1 245.9h0M454.6 238.0h0M413.3 247.9h0M420.0 235.4h0M362.5 233.1h0M425.5 247.1h0M398.9 247.8h0M363.3 230.2h0M421.7 247.9h0M467.6 240.6h0M453.6 230.4h0M436.9 247.9h0M413.0 251.8h0M414.7 250.3h0M402.7 248.8h0M402.9 248.4h0M448.5 250.2h0M407.7 251.0h0M444.7 209.5h0M423.3 240.2h0M447.6 250.9h0M408.0 249.3h0M456.9 249.7h0M424.6 251.8h0M400.9 242.6h0M429.4 247.8h0M438.2 252.2h0M449.7 249.1h0M397.9 237.7h0M403.8 246.8h0M420.9 246.0h0M410.0 247.8h0M398.3 248.4h0M425.8 247.7h0M413.4 250.1h0M427.8 249.5h0M393.6 247.6h0M394.6 249.0h0M421.1 242.1h0M437.3 251.2h0M422.7 249.3h0M420.6 250.6h0M419.8 246.8h0M371.9 240.8h0M441.2 235.0h0M423.6 249.4h0M424.3 248.4h0M434.9 238.1h0M412.6 250.8h0M423.6 252.2h0M397.1 249.2h0M416.5 251.1h0M432.9 248.2h0M463.8 239.7h0M422.3 247.1h0M421.5 246.7h0M407.2 240.8h0M396.8 236.7h0M417.2 247.4h0M451.4 247.3h0M383.3 244.7h0M443.8 250.6h0M400.3 244.3h0M427.1 244.6h0M424.3 244.3h0M408.9 243.7h0M424.6 245.4h0M469.0 243.4h0M445.0 240.9h0M436.3 242.7h0M415.4 240.7h0M443.6 248.4h0M433.9 248.9h0M453.5 249.5h0M421.2 239.0h0M424.0 251.0h0M402.0 248.8h0M453.9 242.0h0M421.7 233.2h0M403.7 248.4h0M438.6 233.4h0M443.4 207.6h0M436.9 237.3h0M441.8 249.2h0M468.7 248.0h0M409.8 250.8h0M415.3 242.4h0M399.0 250.2h0M446.2 249.8h0M415.9 249.4h0M410.0 247.8h0M420.4 248.7h0M454.0 246.8h0M442.1 242.3h0M459.4 236.8h0M413.5 247.3h0M480.4 241.4h0M428.6 249.5h0M423.4 252.5h0M425.7 251.3h0M433.3 250.8h0M448.8 235.9h0M440.8 238.2h0M463.5 243.0h0M453.2 239.3h0M403.7 247.8h0M414.1 244.9h0M437.9 248.6h0M445.0 221.7h0M442.3 245.8h0M442.3 244.8h0M441.6 227.2h0M442.5 223.5h0M467.6 248.2h0M383.4 247.0h0M419.5 236.5h0M417.2 242.1h0M418.1 244.0h0M401.9 249.6h0M395.9 247.6h0M435.2 244.2h0M407.5 237.3h0M393.3 246.0h0M438.2 235.9h0M412.8 250.1h0M447.0 245.4h0M400.9 239.5h0M425.2 252.0h0M408.4 247.7h0M438.8 250.9h0M420.4 246.7h0M438.0 250.6h0M442.7 233.7h0M439.2 250.7h0M419.6 238.0h0M486.9 241.4h0M469.4 243.5h0M408.5 244.1h0M404.7 248.4h0M411.8 245.8h0M418.8 246.8h0M417.1 231.9h0M439.1 235.3h0M442.3 232.8h0M404.5 245.9h0M425.1 250.7h0M409.2 241.4h0M420.2 246.4h0M421.0 249.7h0M402.8 239.1h0M393.8 240.9h0M390.6 242.0h0M435.0 251.5h0M443.8 235.7h0M479.7 241.9h0M422.5 247.7h0M437.7 244.5h0M418.3 250.0h0M444.5 212.2h0M419.8 246.0h0M468.1 247.3h0M451.3 243.7h0M449.8 250.8h0M418.4 242.0h0M393.3 247.8h0M369.0 240.3h0M441.1 252.0h0M450.2 242.0h0M421.1 246.1h0M419.4 244.5h0M410.7 244.7h0M397.3 249.9h0M426.1 251.4h0M395.7 243.8h0M432.8 250.4h0M422.2 250.5h0M435.6 251.4h0M451.9 244.3h0M444.1 234.3h0M412.4 251.2h0M405.0 240.3h0M416.4 243.9h0M445.9 233.5h0M430.4 252.7h0M447.6 250.9h0M438.5 247.7h0M433.5 251.2h0M415.6 251.4h0M393.1 246.2h0M394.4 246.6h0M408.6 245.3h0M417.0 249.8h0M389.6 238.7h0M420.9 248.3h0M370.6 232.4h0M422.7 238.3h0M439.3 228.2h0M422.3 252.5h0M453.0 248.6h0M441.3 234.5h0M383.4 234.2h0M467.1 235.0h0M440.0 247.9h0M462.4 249.1h0M445.1 244.8h0M420.9 242.7h0M447.3 227.7h0M443.0 245.9h0M466.3 244.4h0M462.8 239.9h0M442.3 241.3h0M419.2 241.9h0M399.7 247.0h0M408.7 249.2h0M403.9 247.5h0M430.9 251.1h0M422.7 248.3h0M411.3 251.3h0M406.8 250.0h0M437.9 227.2h0M436.5 249.3h0M410.6 251.5h0M403.7 243.1h0M379.4 241.5h0M424.2 249.3h0M419.1 242.9h0M456.1 250.4h0M435.9 243.2h0M419.8 240.0h0M441.8 224.3h0M441.4 218.3h0M419.0 249.7h0M386.2 247.2h0M428.8 251.2h0M450.3 250.4h0M458.5 242.1h0M416.4 251.0h0M410.7 246.7h0M388.1 240.7h0M456.1 246.1h0M410.9 247.0h0M452.1 249.9h0M390.5 247.1h0M410.5 241.1h0M461.3 247.4h0M482.5 236.2h0M438.3 230.5h0M414.2 245.1h0M406.8 249.7h0M406.6 247.1h0M433.2 248.7h0M421.2 252.2h0M404.0 249.2h0M401.6 244.4h0M480.7 240.4h0M471.1 238.3h0M444.3 210.4h0M443.8 236.5h0M415.6 242.9h0M442.0 219.0h0M400.5 247.3h0M436.9 244.0h0M414.8 246.2h0M453.5 247.7h0M406.7 243.4h0M485.0 241.7h0M369.5 236.7h0M372.3 242.9h0M450.4 251.1h0M384.2 247.2h0M421.9 251.5h0M424.0 251.8h0M426.3 248.4h0M436.0 232.3h0M432.4 252.6h0M409.1 239.4h0M421.4 246.7h0M433.5 248.1h0M458.6 247.3h0M452.3 250.8h0M433.3 241.7h0M459.1 248.9h0M390.6 241.9h0M393.3 236.8h0M457.4 249.6h0M411.8 241.9h0M432.7 250.1h0M375.2 244.3h0M421.3 248.0h0M443.9 251.9h0M417.0 243.8h0M408.3 243.0h0M440.7 212.5h0M398.7 231.9h0M414.7 236.0h0M426.5 252.4h0M444.2 233.5h0M455.1 246.7h0M411.2 251.2h0M419.4 251.4h0M411.9 251.8h0M443.5 247.9h0M453.7 241.3h0M406.3 230.7h0M374.8 239.5h0M417.7 231.0h0M415.0 248.3h0M451.4 250.4h0M405.6 244.7h0M445.2 228.1h0M421.3 234.6h0M423.7 246.3h0M425.2 250.9h0M437.3 225.7h0M384.8 244.9h0M456.9 250.6h0M434.2 248.5h0M411.8 247.1h0M433.5 245.8h0M437.1 250.7h0M426.7 246.8h0M393.1 246.7h0M436.3 248.0h0M404.1 249.1h0M455.9 250.4h0M425.5 245.5h0M426.8 249.3h0M423.1 248.4h0M429.7 250.9h0M475.3 245.1h0M402.9 246.2h0M420.1 250.7h0M449.2 251.2h0M420.9 247.6h0M454.6 246.4h0M434.2 243.7h0M406.5 247.2h0M365.0 238.5h0M430.3 250.7h0M420.3 231.4h0M438.7 237.9h0M419.7 250.7h0M397.1 249.4h0M416.7 248.3h0M438.1 252.6h0M415.0 249.2h0M454.5 247.9h0M438.4 242.7h0M436.4 249.4h0M420.6 244.9h0M409.4 242.2h0M421.3 234.0h0M414.1 245.9h0M437.1 247.1h0M396.1 246.3h0M428.6 249.1h0M411.3 251.7h0M455.0 247.9h0M430.9 252.7h0M423.4 234.8h0M419.3 248.7h0M422.5 245.0h0M422.7 251.0h0M425.7 251.6h0M454.7 250.6h0M420.6 249.5h0M386.1 246.6h0M385.8 245.1h0M463.7 244.0h0M472.9 245.7h0M425.2 248.9h0M429.4 250.5h0M459.3 250.2h0M379.2 230.9h0M451.5 250.0h0M446.9 238.0h0M437.7 250.7h0M401.6 232.1h0M408.2 246.4h0M368.2 234.6h0M427.0 247.9h0M461.6 234.7h0M419.8 238.5h0M432.1 251.6h0M379.0 243.8h0M469.0 241.6h0M458.8 245.9h0M440.3 231.3h0M438.9 251.1h0M458.5 249.8h0M427.5 249.2h0M436.8 252.7h0M424.2 246.3h0M460.4 246.9h0M429.5 250.4h0M414.5 236.5h0M413.7 239.7h0M401.0 240.4h0M386.9 247.4h0M406.6 244.9h0M414.0 244.5h0M416.6 249.2h0M383.1 240.7h0M466.3 248.2h0M422.9 248.8h0M436.7 251.9h0M429.2 251.8h0M453.0 247.9h0M436.2 248.2h0M437.0 239.2h0M421.1 242.5h0M416.1 250.2h0M407.6 239.4h0M423.1 248.6h0M448.9 249.1h0M417.0 248.3h0M416.7 242.5h0M406.5 251.1h0M435.5 244.8h0M436.1 248.3h0M448.2 240.2h0M437.6 220.9h0M434.9 245.4h0M455.5 245.9h0M410.4 245.2h0M438.1 243.5h0M432.5 252.7h0M438.2 250.1h0M442.2 239.3h0M417.2 247.4h0M422.3 245.0h0M370.5 237.3h0M403.3 249.3h0M397.7 243.6h0M432.9 252.6h0M423.2 244.8h0M434.5 247.0h0M440.5 221.3h0M401.6 235.9h0M427.0 250.8h0M398.0 244.0h0M453.2 241.5h0M425.5 251.8h0M401.9 248.1h0M382.8 246.9h0M440.0 225.8h0M422.4 243.0h0M407.0 250.3h0M396.7 231.5h0M429.9 251.0h0M399.4 248.5h0M388.5 238.6h0M410.2 247.6h0M414.4 248.4h0M392.6 248.0h0M433.7 248.0h0M442.5 240.0h0M447.4 251.5h0M450.7 244.5h0M420.0 250.9h0M478.8 244.1h0M423.5 246.1h0M452.3 242.4h0M452.4 248.9h0M423.5 247.0h0M448.2 246.4h0M426.7 247.6h0M405.2 245.1h0M437.8 244.1h0M393.4 249.2h0M444.5 239.3h0M427.5 247.6h0M447.8 249.4h0M446.9 248.6h0M440.5 216.5h0M420.6 248.5h0M425.2 251.7h0M414.8 247.4h0M422.7 250.0h0M407.6 234.8h0M442.4 252.3h0M440.0 252.4h0M418.4 247.0h0M477.0 245.3h0M432.0 252.3h0M427.1 248.3h0M421.6 251.0h0M439.2 232.3h0M435.6 252.2h0M435.8 250.4h0M403.9 246.7h0M414.1 250.2h0M437.3 251.1h0M462.7 248.5h0M414.5 249.0h0M409.6 245.7h0M414.4 244.6h0M435.0 252.3h0M433.3 249.0h0M436.1 249.5h0M410.1 251.4h0M429.7 252.1h0M398.1 244.6h0M401.0 231.7h0M450.7 251.2h0M447.1 236.9h0M403.3 250.5h0M438.2 250.6h0M427.4 250.6h0M414.1 235.0h0M433.1 248.9h0M369.3 241.5h0M399.8 249.5h0M425.1 239.5h0M402.0 250.5h0M443.1 232.9h0M411.4 250.5h0M413.3 248.1h0M390.0 241.1h0M410.2 238.0h0M412.6 247.8h0M425.9 242.7h0M427.2 252.5h0M423.0 249.5h0M406.7 247.6h0M442.7 245.1h0M452.3 250.7h0M456.9 244.6h0M463.3 241.8h0M412.5 249.2h0M450.9 244.4h0M449.6 251.0h0M453.8 244.2h0M426.2 245.6h0M417.2 244.7h0M437.8 248.3h0M408.1 248.9h0M408.8 239.8h0M426.7 248.4h0M438.5 234.2h0M378.5 241.7h0M412.4 249.4h0M457.1 246.6h0M454.3 249.1h0M404.3 234.8h0M418.9 249.5h0M416.8 234.0h0M383.6 245.5h0M436.9 231.6h0M425.4 239.0h0M418.8 246.1h0M469.1 244.5h0M462.6 249.4h0M452.3 251.1h0M418.5 243.0h0M408.9 246.4h0M403.3 242.5h0M420.1 250.6h0M426.3 250.6h0M424.6 249.2h0M436.2 246.8h0M401.0 244.0h0M449.2 248.0h0M374.2 238.7h0M458.8 248.9h0M410.4 250.4h0M410.3 232.3h0M442.5 250.8h0M428.3 250.0h0M472.7 247.0h0M419.2 249.0h0M435.0 244.2h0M434.1 251.7h0M446.0 236.8h0M436.0 240.6h0M396.1 246.0h0M441.4 248.7h0M453.5 244.1h0M450.6 235.3h0M407.9 248.7h0M441.2 245.7h0M449.3 243.2h0M444.5 235.7h0M470.7 243.9h0M394.1 249.0h0M390.7 248.0h0M395.8 246.8h0M449.4 234.3h0M437.1 243.2h0M429.3 251.9h0M411.7 251.7h0M450.8 250.6h0M418.4 236.6h0M417.7 242.2h0M445.4 210.5h0M433.5 247.9h0M438.7 235.6h0M416.3 250.2h0M394.0 242.5h0M429.9 250.4h0M452.1 250.4h0M415.2 251.4h0M437.0 247.1h0M423.2 251.8h0M398.2 235.1h0M449.0 244.2h0M414.1 245.9h0M453.5 242.7h0M458.1 250.5h0M409.9 249.0h0M402.8 249.1h0M420.3 248.9h0M441.5 250.2h0M465.7 244.7h0M360.7 236.0h0M397.0 247.1h0M406.1 235.0h0M427.7 249.9h0M425.5 248.3h0M378.1 234.1h0M421.1 249.4h0M395.9 244.3h0M389.6 239.6h0M492.4 231.5h0M426.4 247.7h0M417.6 247.7h0M404.2 237.1h0M438.6 232.0h0M429.9 249.2h0M435.9 244.5h0M376.0 241.7h0M434.1 236.2h0M427.9 250.0h0M392.5 242.1h0M441.1 235.4h0M413.3 237.7h0M408.0 248.6h0M400.9 239.2h0M410.9 242.1h0M437.6 246.8h0M414.7 248.1h0M459.0 248.3h0M405.2 250.8h0M406.9 250.4h0M401.8 249.4h0M435.0 250.5h0M439.4 243.0h0M394.5 245.0h0M407.0 245.0h0M450.7 247.6h0M414.8 248.9h0M417.9 244.8h0M413.5 240.0h0M428.5 248.6h0M417.9 250.7h0M464.9 234.3h0M416.3 251.6h0M426.4 248.7h0M465.0 239.3h0M444.0 233.8h0M418.7 247.9h0M446.1 242.8h0M405.6 250.2h0M429.9 251.1h0M407.4 245.4h0M396.9 246.2h0M435.2 245.0h0M424.4 252.1h0M421.8 241.7h0M422.3 244.9h0M403.6 240.5h0M409.2 243.5h0M457.2 249.7h0M417.4 249.7h0M398.4 249.3h0M401.6 243.6h0M427.5 250.9h0M451.7 247.8h0M398.6 248.8h0M402.5 244.1h0M409.2 242.0h0M428.6 252.4h0M426.9 243.4h0M383.3 231.9h0M403.3 249.4h0M420.3 237.9h0M417.8 251.7h0M440.5 233.0h0M447.3 251.6h0M385.5 244.9h0M424.1 245.4h0M449.4 250.2h0M407.8 242.2h0M410.8 245.6h0M413.8 250.7h0M421.9 242.0h0M467.7 246.0h0M445.3 235.8h0M373.5 241.9h0M413.1 248.2h0M418.1 244.3h0M422.6 251.0h0M404.3 249.1h0M433.7 243.0h0M451.5 249.6h0M438.1 231.0h0M454.1 245.9h0M434.6 251.8h0M449.5 249.5h0M407.4 245.2h0M415.1 244.9h0M415.9 232.8h0M437.2 245.3h0M410.0 250.7h0M401.2 248.8h0M410.9 249.7h0M418.7 249.7h0M439.7 244.8h0M409.2 236.1h0M407.8 250.3h0M437.9 247.2h0M396.8 247.9h0M425.8 250.6h0M427.8 252.3h0M400.3 244.3h0M430.5 251.0h0M444.3 242.4h0M457.4 248.0h0M425.2 245.1h0M449.7 251.5h0M394.2 244.2h0M404.5 241.9h0M458.6 243.3h0M470.4 242.6h0M439.0 248.2h0M429.7 252.7h0M440.6 230.7h0M436.9 241.7h0M411.1 244.9h0M441.8 241.2h0M459.3 248.1h0M448.4 249.4h0M421.9 246.8h0M440.6 231.0h0M438.0 246.9h0M454.3 248.1h0M358.5 232.1h0M442.3 240.7h0M416.5 250.7h0M445.8 228.7h0M446.4 198.2h0M405.0 250.3h0M388.5 245.2h0M445.2 227.5h0M460.7 235.3h0M422.4 244.0h0M425.1 249.7h0M444.4 237.6h0M386.9 240.6h0M438.8 235.8h0M424.2 247.2h0M378.2 244.1h0M435.2 247.0h0M419.9 242.4h0M399.1 244.3h0M430.1 252.2h0M417.9 249.9h0M467.2 230.0h0M410.4 245.7h0M391.9 243.3h0M447.2 247.1h0M391.3 236.3h0M405.2 250.6h0M416.7 239.0h0M426.4 249.2h0M447.2 246.7h0M402.8 246.9h0M409.3 242.7h0M404.0 242.5h0M447.7 238.2h0M408.6 235.8h0M461.3 247.6h0M399.0 247.6h0M439.0 241.8h0M413.3 235.7h0M425.4 242.2h0M473.3 233.0h0M430.1 251.6h0M398.8 249.3h0M419.3 243.8h0M401.3 243.9h0M443.9 240.1h0M459.1 249.8h0M486.5 238.7h0M409.0 249.0h0M441.8 230.0h0M419.2 245.8h0M438.5 234.3h0M452.6 250.2h0M421.1 250.8h0M403.7 250.9h0M435.0 246.4h0M402.4 248.0h0M467.8 247.9h0M415.6 245.6h0M417.2 243.6h0M446.4 247.0h0M372.7 241.7h0M439.9 252.2h0M413.6 249.6h0M434.7 243.9h0M418.4 241.9h0M411.1 248.1h0M453.7 244.2h0M435.4 251.9h0M438.4 251.7h0M368.2 241.7h0M443.4 247.8h0M420.2 251.2h0M386.7 247.0h0M403.7 250.6h0M432.8 249.4h0M418.8 247.2h0M405.7 243.0h0M426.7 252.7h0M383.4 245.0h0M391.6 246.6h0M439.2 251.1h0M395.2 247.5h0M434.9 245.3h0M414.9 239.8h0M358.9 239.0h0M418.5 245.9h0M454.5 241.3h0M427.7 251.3h0M376.0 233.5h0M380.8 235.2h0M365.9 241.8h0M403.5 231.1h0M445.6 225.8h0M433.5 247.7h0M382.1 238.5h0M400.9 249.8h0M445.1 223.9h0M471.2 246.7h0M436.5 243.1h0M465.3 245.6h0M445.5 231.5h0M452.0 243.8h0M439.5 249.9h0M368.1 231.4h0M471.4 245.8h0M437.7 227.5h0M448.8 247.3h0M406.2 244.7h0M476.3 242.9h0M423.4 244.5h0M428.7 252.8h0M455.9 245.4h0M429.4 252.5h0M449.9 250.8h0M423.1 252.0h0M382.8 241.6h0M397.1 248.1h0M450.9 247.9h0M446.8 222.8h0M410.5 248.1h0M443.0 249.4h0M419.4 251.7h0M478.2 241.1h0M436.1 252.3h0M406.5 246.8h0M390.2 240.8h0M422.1 251.0h0M387.6 245.1h0M440.7 227.1h0M405.4 250.9h0M469.2 244.9h0M383.3 246.2h0M421.5 248.5h0M413.8 248.6h0M397.7 249.8h0M408.8 243.0h0M468.0 237.6h0M396.2 235.3h0M440.8 220.5h0M407.0 247.6h0M439.1 251.3h0M414.5 250.3h0M411.3 246.6h0M411.4 246.6h0M434.6 251.0h0M444.8 242.9h0M375.2 243.6h0M433.7 249.7h0M445.1 243.4h0M435.9 231.6h0M447.7 246.4h0M408.8 251.2h0M390.1 237.9h0M415.1 251.7h0M454.1 246.8h0M376.2 242.0h0M425.7 247.4h0M445.5 213.0h0M423.9 251.9h0M425.4 241.3h0M448.9 245.2h0M411.4 250.2h0M403.2 238.0h0M439.0 223.2h0M422.9 246.9h0M413.1 250.4h0M434.6 237.4h0M436.3 244.0h0M435.1 246.5h0M423.3 245.8h0M420.2 242.8h0M423.8 250.1h0M399.3 239.0h0M408.6 251.1h0M466.2 248.8h0M404.8 246.6h0M440.6 230.8h0M413.9 248.5h0M435.1 247.1h0M439.3 247.1h0M443.8 244.4h0M441.6 219.4h0M402.8 247.6h0M460.5 248.4h0M410.7 243.7h0M461.6 247.5h0M416.2 252.0h0M426.0 247.4h0M439.7 223.8h0M375.3 242.3h0M447.0 251.1h0M436.3 245.0h0M454.7 242.2h0M405.2 249.5h0M419.6 251.5h0M399.6 235.0h0M413.4 241.8h0M397.2 248.7h0M376.1 245.0h0M395.3 243.9h0M438.4 245.1h0M406.9 248.9h0M442.2 236.5h0M399.0 240.6h0M422.9 250.5h0M397.4 244.9h0M439.4 239.1h0M442.7 236.4h0M420.9 247.6h0M473.6 246.5h0M455.6 246.6h0M420.7 246.9h0M416.2 243.8h0M411.0 242.6h0M414.8 252.0h0M411.3 248.5h0M465.5 248.7h0M428.0 251.2h0M410.7 251.0h0M424.0 244.0h0M378.1 243.5h0M411.8 240.3h0M425.4 246.9h0M408.1 250.3h0M422.1 239.6h0M414.9 242.8h0M389.6 244.8h0M415.9 241.0h0M403.9 249.9h0M442.0 204.4h0M416.7 223.8h0M420.3 183.7h0M418.0 217.8h0M420.9 175.8h0M418.1 224.9h0M443.3 186.0h0" stroke="#000" stroke-opacity="0.78" stroke-width="1.15" stroke-linecap="round"/><path d="M416.5 235.5h0M408.8 246.6h0M404.8 246.6h0M407.5 249.2h0M417.7 238.5h0M416.4 245.8h0M404.6 248.0h0M430.5 251.3h0M400.3 246.1h0M390.4 245.3h0M443.2 248.9h0M441.4 245.3h0M418.6 250.1h0M444.8 230.5h0M390.6 246.3h0M411.3 246.7h0M419.8 242.8h0M434.4 250.2h0M387.0 245.1h0M414.6 250.1h0M384.8 247.4h0M438.7 235.1h0M415.4 250.4h0M447.4 236.8h0M442.7 221.7h0M440.9 245.3h0M444.5 235.2h0M408.3 250.0h0M420.8 242.8h0M409.2 240.1h0M384.0 241.6h0M399.9 249.7h0M488.6 239.6h0M444.7 247.8h0M418.1 247.2h0M394.6 244.9h0M418.6 239.2h0M462.9 243.4h0M474.9 245.5h0M409.7 243.9h0M420.3 249.6h0M446.2 215.3h0M421.9 252.3h0M446.6 240.8h0M442.7 213.8h0M445.0 213.1h0M423.4 252.6h0M482.5 236.4h0M420.2 250.8h0M405.2 248.3h0M442.0 236.4h0M424.3 252.4h0M452.8 240.5h0M453.3 250.3h0M434.0 239.4h0M423.5 238.0h0M378.0 241.1h0M451.8 247.0h0M460.3 246.0h0M441.6 232.4h0M474.6 246.0h0M407.7 234.6h0M410.7 245.0h0M461.0 244.5h0M436.3 234.6h0M465.1 236.8h0M425.0 251.4h0M453.7 246.7h0M411.3 247.4h0M433.9 250.3h0M438.2 248.6h0M414.8 231.0h0M411.9 248.6h0M438.8 251.8h0M441.4 236.1h0M442.7 239.8h0M396.1 246.8h0M473.2 244.5h0M420.1 251.6h0M420.4 241.5h0M445.2 243.5h0M434.9 240.2h0M425.7 249.1h0M446.6 251.2h0M489.8 238.6h0M424.7 248.1h0M412.9 250.5h0M430.1 250.4h0M427.6 249.3h0M449.0 246.0h0M445.3 223.0h0M454.8 249.1h0M451.2 241.1h0M427.7 250.9h0M411.2 242.0h0M414.1 239.3h0M421.3 249.9h0M445.1 243.2h0M414.0 251.0h0M383.1 242.5h0M414.7 251.0h0M455.0 249.3h0M388.8 241.8h0M428.9 252.3h0M393.0 248.5h0M436.8 246.8h0M407.8 237.7h0M415.8 251.2h0M419.4 251.5h0M409.2 247.2h0M403.3 249.5h0M426.3 250.5h0M428.8 250.9h0M436.9 250.3h0M411.5 243.8h0M438.8 230.9h0M435.4 234.5h0M445.3 216.5h0M425.4 239.9h0M413.9 244.5h0M438.7 242.7h0M451.0 248.8h0M421.5 250.2h0M412.8 245.6h0M457.7 246.8h0M420.8 248.5h0M421.9 248.9h0M410.9 251.2h0M423.5 241.5h0M438.9 249.6h0M410.0 250.8h0M440.5 250.8h0M398.1 245.3h0M471.9 243.0h0M420.6 250.6h0M442.7 234.9h0M438.8 252.4h0M422.2 241.1h0M423.6 245.7h0M425.0 245.6h0M425.5 240.1h0M458.6 250.0h0M441.7 243.0h0M446.3 221.7h0M379.6 242.9h0M391.1 233.4h0M423.6 251.0h0M438.7 244.0h0M423.9 251.6h0M441.8 244.8h0M370.4 236.5h0M394.1 231.4h0M400.8 249.8h0M454.1 248.8h0M412.7 251.6h0M381.5 240.0h0M441.7 224.9h0M440.1 230.7h0M416.2 251.3h0M440.8 249.6h0M436.8 250.6h0M438.1 222.1h0M445.1 244.9h0M402.6 245.9h0M419.1 250.2h0M417.8 243.0h0M452.8 236.3h0M404.7 237.5h0M460.5 240.2h0M488.6 239.2h0M416.3 247.3h0M434.8 245.9h0M438.1 242.7h0M449.9 247.9h0M453.2 249.8h0M419.4 250.2h0M417.1 251.7h0M410.7 246.2h0M399.9 249.5h0M446.4 228.7h0M452.2 235.8h0M398.3 232.0h0M413.4 242.4h0M439.3 248.6h0M419.3 249.8h0M402.3 245.1h0M385.8 235.6h0M452.4 249.2h0M441.7 236.5h0M428.1 250.7h0M435.4 244.9h0M422.0 236.7h0M418.9 243.3h0M443.0 210.8h0M407.4 246.0h0M457.3 248.2h0M407.7 250.6h0M417.5 240.5h0M414.4 236.1h0M490.0 240.5h0M404.5 233.0h0M410.6 240.7h0M437.6 235.7h0M434.0 248.6h0M409.7 249.6h0M467.4 244.1h0M447.7 247.2h0M413.2 246.3h0M408.8 249.5h0M380.1 246.1h0M455.7 250.6h0M408.1 245.1h0M459.5 244.8h0M406.8 241.2h0M443.4 247.7h0M410.1 243.4h0M425.2 252.1h0M442.0 240.9h0M393.9 248.3h0M436.2 244.9h0M424.6 246.9h0M421.0 251.7h0M465.2 246.1h0M444.1 231.2h0M433.1 252.5h0M377.4 234.0h0M418.2 246.4h0M395.3 246.4h0M435.8 240.2h0M371.9 242.1h0M401.9 243.2h0M446.4 245.0h0M398.8 249.2h0M406.3 248.5h0M423.9 244.1h0M421.9 249.2h0M402.7 244.0h0M390.5 245.6h0M361.2 236.7h0M442.4 251.3h0M401.0 245.9h0M423.2 242.5h0M412.2 250.2h0M445.7 246.9h0M370.4 241.7h0M429.8 251.1h0M450.0 247.9h0M436.3 243.0h0M413.2 242.4h0M441.8 246.8h0M428.3 251.6h0M444.1 239.5h0M399.0 249.3h0M437.2 231.2h0M423.6 249.2h0M374.2 235.9h0M418.8 250.5h0M401.5 243.5h0M419.4 252.0h0M440.2 231.5h0M407.5 245.0h0M465.0 244.3h0M411.2 249.9h0M393.8 245.8h0M468.4 244.4h0M400.3 248.3h0M399.1 249.7h0M437.0 244.8h0M413.7 252.0h0M404.3 245.9h0M416.2 239.2h0M476.2 243.7h0M437.4 243.5h0M427.9 252.5h0M456.7 245.3h0M449.4 250.6h0M460.2 249.1h0M447.6 230.2h0M439.0 239.6h0M397.9 231.1h0M440.7 245.2h0M462.9 237.4h0M419.1 251.7h0M422.3 248.3h0M443.7 220.0h0M434.5 245.8h0M466.1 247.6h0M401.6 244.3h0M443.0 231.3h0M416.5 249.7h0M378.9 235.2h0M422.7 242.6h0M398.0 245.2h0M422.2 246.2h0M398.6 249.2h0M471.8 238.6h0M436.4 251.6h0M412.9 245.7h0M380.5 234.4h0M424.5 249.1h0M439.3 244.2h0M412.1 251.7h0M442.2 229.4h0M407.3 239.6h0M457.2 245.6h0M407.2 239.4h0M433.7 252.1h0M457.7 247.8h0M439.5 237.1h0M432.7 250.3h0M447.0 235.1h0M417.9 249.9h0M411.8 246.6h0M408.7 245.6h0M404.0 248.2h0M406.6 248.2h0M439.6 227.5h0M436.6 237.7h0M436.2 231.8h0M459.1 245.4h0M423.8 249.7h0M456.8 248.6h0M455.0 241.8h0M407.2 249.7h0M422.7 251.0h0M416.4 244.8h0M426.1 248.6h0M423.7 246.5h0M419.4 251.5h0M436.7 250.3h0M421.2 252.2h0M413.6 251.3h0M434.8 245.1h0M417.5 249.4h0M420.1 246.9h0M417.7 251.2h0M473.6 239.0h0M423.2 240.6h0M403.9 248.2h0M440.9 240.8h0M443.3 252.1h0M434.4 250.9h0M436.8 238.5h0M442.7 217.6h0M422.9 247.5h0M440.0 248.1h0M410.9 251.3h0M442.5 238.0h0M444.3 250.2h0M436.9 235.4h0M461.0 244.9h0M474.2 246.2h0M409.5 250.4h0M398.0 232.6h0M395.0 243.4h0M391.1 246.9h0M423.4 251.3h0M416.5 251.2h0M462.8 247.2h0M458.9 250.3h0M462.3 248.1h0M419.4 249.7h0M421.1 247.3h0M485.3 241.6h0M423.2 249.0h0M422.7 245.4h0M426.7 249.4h0M411.5 250.3h0M425.2 242.0h0M419.7 249.3h0M415.7 241.4h0M453.2 248.2h0M398.2 245.3h0M442.8 246.0h0M421.8 251.9h0M475.0 245.8h0M425.0 250.4h0M487.7 239.3h0M429.4 252.3h0M441.0 235.5h0M405.3 249.8h0M412.4 251.7h0M434.4 251.4h0M407.5 241.1h0M461.7 237.8h0M465.4 246.8h0M436.4 241.4h0M421.3 250.7h0M402.7 244.8h0M489.3 238.7h0M424.7 243.7h0M455.3 249.2h0M434.3 252.0h0M421.2 238.4h0M470.6 245.6h0M477.5 237.8h0M427.2 252.3h0M489.4 240.0h0M371.1 241.6h0M409.5 250.4h0M474.2 238.0h0M443.6 250.4h0M464.5 238.5h0M423.1 245.0h0M422.5 249.2h0M405.4 249.5h0M441.9 217.0h0M387.7 241.1h0M399.6 249.8h0M396.3 247.5h0M439.1 248.9h0M401.0 242.0h0M444.1 248.0h0M430.2 252.1h0M402.4 246.8h0M441.0 250.7h0M434.9 251.5h0M374.7 230.4h0M437.6 247.8h0M401.8 247.2h0M412.8 250.2h0M391.4 244.5h0M461.2 246.9h0M425.7 251.0h0M450.3 249.8h0M416.7 251.9h0M375.7 237.2h0M440.9 234.9h0M441.8 231.4h0M410.9 250.5h0M376.9 231.4h0M420.8 251.6h0M445.7 228.6h0M456.6 243.8h0M397.3 241.3h0M425.6 245.5h0M445.9 223.6h0M435.1 246.5h0M437.6 233.9h0M420.2 249.6h0M390.5 244.1h0M377.3 245.3h0M444.6 240.8h0M454.5 238.3h0M448.6 247.1h0M394.7 233.3h0M406.9 247.4h0M411.9 251.0h0M407.8 249.2h0M412.7 239.8h0M507.9 231.7h0M384.9 246.2h0M401.6 245.9h0M445.9 240.0h0M419.0 249.7h0M401.9 247.3h0M506.5 233.2h0M456.1 245.3h0M462.0 245.9h0M415.9 249.9h0M414.3 239.2h0M411.9 248.8h0M415.5 240.5h0M445.2 230.3h0M385.9 246.7h0M451.0 244.6h0M449.3 246.4h0M416.1 250.3h0M413.9 251.1h0M449.3 241.7h0M445.2 236.0h0M436.4 243.0h0M421.2 248.5h0M405.1 247.4h0M433.6 243.9h0M435.4 250.4h0M444.6 233.8h0M416.9 248.6h0M399.3 243.0h0M451.3 251.5h0M388.1 235.2h0M414.6 242.0h0M418.0 251.3h0M443.4 242.7h0M400.2 249.8h0M427.7 247.2h0M432.2 252.7h0M423.3 252.3h0M419.7 246.9h0M433.5 247.2h0M447.4 251.8h0M452.1 239.1h0M384.7 247.2h0M438.9 249.6h0M400.9 238.5h0M448.8 251.3h0M427.1 249.5h0M452.3 246.0h0M421.2 249.1h0M394.3 249.4h0M424.0 239.5h0M407.2 232.4h0M412.7 251.1h0M368.3 230.8h0M441.4 216.0h0M410.3 244.3h0M408.5 246.4h0M413.7 247.9h0M414.0 250.9h0M417.8 249.6h0M443.4 242.6h0M423.7 248.1h0M435.4 234.6h0M455.7 242.9h0M423.6 250.0h0M397.2 249.4h0M423.2 251.4h0M422.3 237.3h0M434.2 244.8h0M449.1 249.7h0M387.9 238.7h0M408.9 249.3h0M419.5 249.7h0M422.5 251.4h0M418.6 251.4h0M417.5 240.8h0M451.0 251.4h0M433.1 249.6h0M417.3 249.9h0M384.1 242.2h0M439.1 246.7h0M455.6 248.0h0M405.5 249.6h0M378.1 238.8h0M419.7 244.7h0M424.8 248.4h0M449.1 249.9h0M398.9 249.1h0M405.4 239.2h0M425.0 251.0h0M367.7 237.4h0M391.4 238.1h0M448.6 247.1h0M460.5 243.9h0M473.5 236.9h0M414.1 236.5h0M466.0 232.5h0M427.4 251.4h0M425.6 245.3h0M413.6 250.8h0M426.6 250.2h0M439.1 237.2h0M441.7 240.2h0M447.6 249.0h0M453.5 234.2h0M446.6 239.9h0M443.4 236.2h0M386.3 247.6h0M437.5 252.3h0M438.4 247.3h0M406.0 244.7h0M437.6 238.3h0M448.7 251.8h0M419.3 246.7h0M424.2 241.9h0M434.3 243.8h0M436.6 247.6h0M449.0 242.8h0M448.6 244.4h0M402.1 247.1h0M407.5 250.1h0M454.4 246.0h0M416.0 243.0h0M435.6 243.6h0M408.0 248.1h0M454.8 250.7h0M441.1 250.9h0M407.7 250.6h0M392.0 240.4h0M402.4 248.5h0M399.6 244.4h0M423.3 252.3h0M426.9 250.8h0M411.2 242.2h0M414.3 251.9h0M417.9 251.6h0M452.8 250.1h0M421.8 251.7h0M381.8 246.5h0M413.5 240.2h0M415.9 244.6h0M372.3 235.1h0M432.7 249.3h0M452.9 242.6h0M442.3 236.9h0M408.2 229.9h0M408.0 241.4h0M444.4 236.6h0M410.9 233.4h0M447.8 246.0h0M418.5 247.0h0M466.3 244.1h0M460.9 247.4h0M454.3 249.2h0M402.0 240.6h0M441.9 252.0h0M412.5 248.4h0M412.4 250.6h0M402.8 249.7h0M415.0 245.4h0M388.8 248.0h0M427.0 251.3h0M432.8 249.5h0M393.5 242.2h0M428.9 250.7h0M385.2 242.1h0M418.7 239.8h0M451.2 248.3h0M378.2 237.5h0M428.6 252.7h0M448.3 240.2h0M420.2 243.4h0M436.6 235.6h0M420.8 238.4h0M426.2 249.5h0M415.4 239.5h0M411.6 243.9h0M422.9 250.5h0M422.2 244.6h0M422.7 241.8h0M456.6 245.4h0M435.0 237.9h0M433.4 248.5h0M451.0 249.9h0M450.2 244.4h0M415.1 248.3h0M388.9 246.0h0M456.6 245.1h0M402.7 243.3h0M425.4 252.0h0M404.6 245.0h0M410.1 247.2h0M421.3 251.6h0M399.8 247.2h0M494.2 237.3h0M427.1 250.1h0M421.4 245.6h0M418.8 245.6h0M409.8 247.3h0M449.1 250.2h0M455.6 248.4h0M409.4 248.8h0M424.8 248.5h0M422.6 251.7h0M425.5 248.6h0M441.5 243.4h0M428.4 249.9h0M412.2 245.6h0M367.6 238.0h0M455.8 249.1h0M420.6 252.1h0M420.2 247.8h0M415.4 230.5h0M361.9 236.6h0M437.9 246.6h0M394.6 244.4h0M405.2 244.0h0M392.0 244.1h0M433.6 252.6h0M381.7 246.2h0M427.4 247.5h0M413.9 251.1h0M403.8 245.8h0M427.7 248.7h0M450.4 246.5h0M428.2 251.2h0M460.2 249.2h0M424.2 247.8h0M418.7 241.9h0M428.5 250.7h0M438.2 226.7h0M441.8 251.7h0M435.5 246.0h0M446.3 226.7h0M422.3 243.9h0M432.7 248.0h0M410.4 251.6h0M423.9 251.0h0M463.5 242.1h0M417.1 251.0h0M432.2 252.3h0M441.7 243.1h0M448.6 248.8h0M436.8 246.4h0M446.9 197.1h0M399.9 244.8h0M407.0 246.4h0M444.9 249.8h0M424.4 251.3h0M410.1 249.1h0M425.1 252.5h0M415.0 244.6h0M420.0 250.5h0M456.1 246.9h0M403.5 249.8h0M418.4 248.5h0M442.2 249.6h0M424.8 249.7h0M435.9 252.6h0M382.6 243.5h0M413.7 247.8h0M457.8 247.6h0M421.1 250.6h0M453.2 250.1h0M477.2 239.2h0M437.6 230.0h0M482.2 242.5h0M410.8 241.9h0M417.0 251.5h0M452.9 250.3h0M397.6 237.3h0M397.9 248.6h0M400.8 249.5h0M433.2 247.5h0M383.4 243.4h0M408.7 247.0h0M420.4 244.0h0M425.6 249.1h0M420.1 247.2h0M425.0 243.2h0M388.4 247.4h0M400.9 245.5h0M458.1 230.9h0M423.8 249.8h0M445.8 238.3h0M389.8 243.4h0M406.5 244.4h0M401.1 249.5h0M439.9 250.1h0M418.3 249.2h0M402.6 245.2h0M449.4 246.6h0M376.3 240.3h0M418.8 240.4h0M462.3 245.4h0M396.0 235.5h0M454.8 244.3h0M424.8 251.0h0M430.8 252.2h0M415.6 244.4h0M495.0 232.5h0M436.6 237.5h0M464.2 246.7h0M423.4 251.0h0M428.9 250.5h0M451.8 248.9h0M438.0 252.1h0M408.7 246.2h0M440.9 249.6h0M413.0 239.6h0M403.3 249.3h0M400.8 239.6h0M423.6 244.1h0M434.8 236.8h0M440.7 240.4h0M377.2 233.3h0M427.1 252.1h0M408.0 245.9h0M404.0 241.3h0M426.7 250.5h0M412.6 251.4h0M406.2 246.4h0M422.1 245.7h0M415.0 240.7h0M414.4 250.4h0M403.1 249.0h0M369.5 232.1h0M454.7 240.5h0M443.2 236.7h0M436.8 246.8h0M427.5 251.3h0M421.4 238.0h0M435.6 245.7h0M415.0 238.7h0M410.1 249.1h0M408.3 246.0h0M437.7 231.8h0M373.8 241.1h0M422.7 252.5h0M413.3 249.7h0M452.8 250.7h0M421.0 244.6h0M466.3 232.8h0M443.9 250.9h0M429.4 247.2h0M454.0 248.4h0M420.1 240.5h0M416.8 242.4h0M461.7 240.6h0M450.1 247.9h0M433.9 246.6h0M399.5 246.3h0M447.9 249.6h0M426.8 251.6h0M456.0 246.8h0M425.7 247.3h0M453.4 245.8h0M405.9 247.4h0M425.7 250.6h0M405.8 243.4h0M446.5 249.9h0M424.1 245.5h0M449.8 246.6h0M416.2 251.1h0M451.1 250.2h0M465.3 239.4h0M422.6 249.0h0M412.6 245.2h0M424.6 245.4h0M408.5 232.3h0M440.8 239.4h0M419.7 251.6h0M411.6 251.4h0M416.0 248.8h0M470.7 244.4h0M457.9 245.0h0M473.2 246.6h0M420.4 239.3h0M429.5 251.3h0M455.0 249.7h0M403.5 245.7h0M419.2 252.2h0M361.6 230.5h0M443.6 241.7h0M419.9 249.6h0M434.3 237.0h0M403.2 249.3h0M424.8 249.4h0M400.8 245.3h0M444.5 217.0h0M419.0 238.0h0M400.0 245.1h0M460.6 243.1h0M426.6 249.2h0M422.1 248.2h0M410.2 248.2h0M485.3 241.4h0M437.5 246.5h0M467.2 248.0h0M383.9 246.8h0M398.0 248.1h0M440.8 236.2h0M417.8 246.2h0M411.2 251.0h0M407.0 237.7h0M441.0 222.8h0M447.9 244.9h0M438.4 236.8h0M442.6 231.4h0M437.7 236.9h0M398.6 242.9h0M443.4 245.9h0M422.2 243.5h0M428.4 250.0h0M447.3 229.9h0M398.9 246.2h0M387.1 240.7h0M440.5 238.9h0M446.9 242.9h0M394.0 231.4h0M447.1 222.5h0M423.0 249.5h0M438.6 220.0h0M416.1 248.0h0M419.0 252.1h0M396.2 247.5h0M415.8 249.4h0M451.9 245.3h0M464.8 248.3h0M428.0 248.3h0M495.3 236.5h0M421.1 250.9h0M415.5 251.0h0M436.3 236.5h0M412.3 251.4h0M408.0 246.3h0M438.9 231.9h0M419.1 245.9h0M434.5 246.5h0M448.8 248.9h0M445.5 234.6h0M418.5 252.3h0M414.4 236.1h0M439.9 248.2h0M422.3 252.0h0M433.7 244.2h0M446.4 243.8h0M419.1 241.1h0M412.3 247.2h0M435.9 246.8h0M408.0 231.4h0M418.1 245.2h0M417.0 243.5h0M444.4 210.4h0M435.3 252.3h0M425.2 242.5h0M457.7 241.5h0M398.1 249.6h0M409.4 244.1h0M451.9 249.2h0M421.2 246.6h0M441.6 240.5h0M455.2 245.7h0M454.2 243.0h0M443.8 245.9h0M407.3 249.2h0M423.2 250.2h0M402.1 250.5h0M414.3 250.0h0M421.9 252.4h0M413.4 240.6h0M447.3 248.9h0M467.3 246.7h0M424.9 250.2h0M418.3 234.8h0M423.6 251.9h0M401.4 249.4h0M413.0 251.0h0M370.8 240.8h0M395.4 248.4h0M441.3 232.7h0M435.4 242.3h0M393.0 245.3h0M421.2 250.1h0M417.4 250.1h0M413.2 246.0h0M406.8 244.8h0M417.3 251.6h0M388.3 244.5h0M433.4 252.3h0M439.2 250.0h0M436.5 249.6h0M440.6 230.0h0M378.6 241.0h0M432.0 250.5h0M433.5 249.7h0M480.3 240.7h0M411.0 250.4h0M411.2 250.1h0M393.3 247.4h0M424.7 238.2h0M407.3 250.8h0M403.1 244.7h0M400.4 249.7h0M437.8 249.0h0M400.5 246.0h0M371.9 242.0h0M413.0 251.9h0M427.6 251.4h0M436.9 252.2h0M424.0 244.7h0M463.8 246.4h0M437.7 230.1h0M401.8 239.6h0M423.8 251.6h0M420.2 252.2h0M430.2 250.8h0M423.7 247.0h0M435.2 251.1h0M386.9 246.7h0M421.0 246.3h0M412.9 246.2h0M440.4 236.8h0M441.1 242.3h0M414.0 250.2h0M413.2 243.9h0M453.7 240.4h0M411.7 249.7h0M414.6 240.1h0M443.6 234.4h0M442.2 241.9h0M386.9 247.1h0M415.3 244.4h0M412.7 243.0h0M406.5 245.3h0M413.7 244.0h0M424.0 252.6h0M395.2 244.4h0M450.1 242.0h0M434.5 247.9h0M471.8 246.6h0M428.2 247.5h0M422.1 251.8h0M435.6 241.2h0M466.2 236.6h0M433.0 251.9h0M388.4 240.0h0M413.9 241.1h0M412.0 248.6h0M413.6 251.5h0M427.1 251.0h0M449.5 245.7h0M409.8 236.1h0M427.2 251.5h0M446.0 226.6h0M415.2 252.0h0M387.3 246.9h0M435.1 239.0h0M436.6 231.8h0M424.7 252.5h0M373.3 244.1h0M435.0 250.4h0M428.1 252.7h0M382.9 246.6h0M381.6 232.0h0M443.5 238.3h0M445.0 214.9h0M414.2 250.7h0M445.6 232.8h0M427.0 250.6h0M408.5 251.0h0M407.2 249.8h0M405.0 243.6h0M411.3 247.6h0M438.6 233.6h0M434.2 240.1h0M420.3 248.6h0M447.4 251.6h0M396.9 235.7h0M466.6 244.2h0M440.0 243.4h0M442.0 244.0h0M367.8 242.3h0M416.3 248.6h0M440.0 248.4h0M456.7 244.5h0M412.2 250.6h0M423.8 245.4h0M416.0 249.5h0M419.4 251.9h0M405.7 247.8h0M441.2 214.3h0M453.8 243.9h0M410.5 250.6h0M444.6 227.7h0M419.1 251.7h0M438.1 242.9h0M464.6 248.6h0M408.7 250.4h0M421.9 247.2h0M433.3 248.0h0M474.7 244.0h0M414.0 249.6h0M424.9 248.2h0M413.5 250.9h0M448.8 246.9h0M388.6 244.4h0M423.6 245.4h0M469.5 244.8h0M426.0 248.4h0M448.4 243.5h0M426.5 252.3h0M444.8 237.2h0M420.9 251.3h0M383.9 237.8h0M389.7 247.6h0M450.9 247.4h0M415.0 252.0h0M428.1 246.4h0M447.5 240.4h0M401.5 246.1h0M392.4 243.9h0M424.6 240.3h0M411.1 250.6h0M402.7 249.6h0M384.8 243.2h0M414.7 252.0h0M417.3 251.6h0M419.8 252.1h0M391.5 243.3h0M400.5 248.1h0M409.9 249.1h0M401.1 250.2h0M426.5 252.0h0M427.1 249.7h0M442.4 248.9h0M376.8 240.5h0M388.6 237.6h0M396.8 245.4h0M434.2 244.3h0M424.6 251.1h0M438.2 233.9h0M449.5 250.3h0M406.8 245.3h0M407.9 250.1h0M463.7 242.7h0M424.5 243.4h0M403.8 246.9h0M478.4 244.8h0M414.0 241.5h0M456.4 250.3h0M439.4 247.4h0M402.5 249.3h0M413.8 251.6h0M477.7 236.6h0M400.6 250.3h0M428.8 250.7h0M437.5 251.3h0M448.6 249.5h0M414.1 250.2h0M389.2 245.5h0M404.5 249.5h0M426.2 250.8h0M413.9 246.8h0M402.8 234.8h0M410.1 251.5h0M402.5 241.2h0M404.9 249.1h0M438.0 249.2h0M406.9 248.2h0M433.6 243.2h0M410.2 232.5h0M420.2 250.1h0M421.9 252.2h0M448.1 240.7h0M481.0 244.4h0M375.8 243.6h0M408.6 240.5h0M378.4 239.5h0M427.4 252.1h0M425.5 243.5h0M406.8 247.5h0M435.7 237.9h0M406.0 251.2h0M423.2 250.9h0M413.0 249.2h0M398.6 242.2h0M416.6 248.1h0M420.9 247.2h0M425.4 251.2h0M419.5 251.5h0M389.6 238.7h0M431.1 251.8h0M428.7 250.9h0M459.2 248.1h0M409.0 250.0h0M444.2 247.0h0M441.7 238.0h0M400.6 241.8h0M390.4 247.2h0M478.7 230.3h0M425.8 249.7h0M395.4 249.1h0M419.8 249.3h0M434.5 243.1h0M419.7 240.8h0M423.3 248.7h0M407.7 250.4h0M415.7 249.7h0M474.8 244.4h0M433.0 243.6h0M442.3 229.8h0M402.2 244.1h0M436.3 245.3h0M398.5 247.8h0M444.5 240.7h0M397.2 234.6h0M416.4 244.1h0M419.2 238.5h0M436.8 251.3h0M441.4 251.7h0M416.0 250.8h0M438.0 245.0h0M402.9 246.8h0M425.8 245.6h0M396.1 248.8h0M410.6 247.2h0M409.3 249.0h0M415.4 251.8h0M451.3 239.5h0M450.3 249.5h0M424.8 252.5h0M408.5 241.9h0M438.6 248.5h0M411.8 247.2h0M420.2 251.7h0M398.5 245.9h0M416.1 248.8h0M421.3 234.6h0M381.6 242.6h0M392.4 239.8h0M407.3 247.7h0M416.5 248.6h0M410.8 249.9h0M414.2 249.1h0M372.6 240.5h0M416.2 249.6h0M391.7 248.0h0M418.5 249.8h0M400.8 247.7h0M427.4 251.3h0M439.3 238.8h0M439.7 242.2h0M441.3 247.1h0M411.3 249.1h0M351.4 234.9h0M439.1 249.0h0M421.4 252.4h0M418.5 245.2h0M425.9 250.3h0M426.7 241.5h0M438.1 250.4h0M407.3 246.5h0M458.0 246.5h0M459.0 241.7h0M426.1 249.1h0M437.8 244.9h0M420.4 242.0h0M443.6 248.4h0M445.3 219.7h0M425.5 241.6h0M414.1 251.6h0M427.7 248.8h0M400.8 250.2h0M407.0 248.9h0M429.5 249.8h0M406.7 249.7h0M438.6 241.5h0M435.1 250.0h0M411.1 243.7h0M411.1 236.6h0M449.2 247.7h0M368.4 240.9h0M450.5 246.7h0M456.9 247.1h0M414.1 244.5h0M438.3 250.6h0M430.0 249.9h0M436.5 242.7h0M445.7 229.1h0M449.1 245.8h0M427.2 248.6h0M415.2 246.2h0M445.4 233.9h0M408.1 247.1h0M450.6 251.3h0M447.4 243.1h0M451.3 250.1h0M424.7 248.6h0M447.5 250.0h0M439.7 251.8h0M439.3 251.8h0M384.9 242.5h0M421.8 240.7h0M461.3 249.6h0M409.8 246.5h0M395.5 249.0h0M426.6 245.7h0M412.8 250.7h0M435.3 247.8h0M404.7 246.2h0M399.5 234.0h0M391.2 247.8h0M400.8 249.7h0M414.5 249.8h0M433.9 245.6h0M438.5 239.7h0M416.0 246.3h0M401.1 243.7h0M505.7 232.6h0M382.2 236.8h0M421.1 245.5h0M457.7 246.2h0M401.3 248.8h0M435.3 249.6h0M462.9 247.7h0M436.6 241.7h0M473.6 245.0h0M388.5 245.6h0M396.2 241.7h0M428.0 251.6h0M451.4 249.5h0M396.6 242.5h0M406.3 237.2h0M471.0 246.5h0M436.7 233.0h0M384.8 234.9h0M427.5 249.5h0M432.5 249.3h0M385.3 237.8h0M392.5 237.9h0M416.5 246.7h0M408.6 243.3h0M425.2 251.3h0M439.7 249.0h0M424.8 250.9h0M451.8 241.2h0M434.7 250.9h0M400.1 247.1h0M448.6 245.7h0M445.1 214.7h0M418.9 251.6h0M419.2 244.1h0M407.7 249.6h0M430.7 251.7h0M400.4 250.2h0M454.9 249.2h0M413.7 250.1h0M448.3 251.6h0M416.3 251.7h0M416.1 251.4h0M437.0 244.7h0M444.1 251.8h0M434.5 248.7h0M444.3 238.1h0M446.1 209.4h0M441.6 242.6h0M441.9 250.6h0M381.9 245.1h0M419.4 249.0h0M405.2 248.7h0M372.0 240.9h0M458.0 236.5h0M416.5 244.3h0M443.2 248.3h0M416.1 250.1h0M436.3 248.0h0M411.3 249.2h0M439.1 248.2h0M458.0 232.9h0M419.8 251.2h0M445.1 249.5h0M446.9 248.0h0M424.1 243.1h0M446.0 243.8h0M463.3 240.3h0M423.2 247.6h0M459.3 250.0h0M427.6 250.3h0M439.8 247.5h0M410.8 236.4h0M413.7 247.2h0M450.4 245.5h0M406.4 245.1h0M421.4 247.4h0M434.5 251.6h0M386.6 241.6h0M415.1 250.8h0M428.0 252.5h0M412.6 248.0h0M472.3 239.4h0M422.1 252.2h0M459.9 239.8h0M439.0 247.6h0M424.3 252.2h0M391.5 247.0h0M414.2 245.9h0M427.0 244.4h0M410.1 251.3h0M417.6 238.4h0M390.7 243.9h0M385.9 241.4h0M425.5 249.7h0M401.5 240.0h0M380.8 234.9h0M441.8 246.2h0M429.3 251.9h0M380.1 240.7h0M428.5 251.1h0M408.9 248.7h0M462.4 244.6h0M458.2 243.8h0M403.1 240.7h0M413.9 244.6h0M445.5 251.5h0M415.4 251.3h0M409.5 251.3h0M424.1 252.1h0M450.7 244.6h0M397.0 235.4h0M434.3 241.8h0M447.7 250.6h0M451.1 249.9h0M445.3 240.7h0M404.6 244.1h0M434.2 247.2h0M442.8 223.1h0M370.3 242.0h0M449.3 246.0h0M403.6 238.6h0M369.1 230.0h0M427.1 251.5h0M453.8 249.9h0M411.5 248.2h0M427.8 250.2h0M436.1 248.4h0M449.3 244.4h0M395.5 232.9h0M406.4 250.0h0M411.5 241.2h0M477.2 244.0h0M428.1 245.5h0M443.9 239.2h0M384.0 246.3h0M404.4 250.9h0M414.5 250.2h0M442.8 244.1h0M402.6 249.2h0M447.8 251.3h0M438.7 251.7h0M425.0 250.7h0M419.0 248.1h0M423.9 252.4h0M386.5 247.6h0M394.1 233.6h0M453.6 247.9h0M455.1 244.4h0M467.3 242.1h0M447.4 247.4h0M438.9 239.1h0M426.0 251.7h0M441.9 252.3h0M436.2 245.3h0M379.4 230.8h0M430.0 250.3h0M457.0 246.3h0M427.9 246.0h0M384.7 246.3h0M401.4 249.5h0M459.5 249.1h0M424.8 251.9h0M451.9 244.5h0M446.9 210.7h0M396.2 247.8h0M434.2 248.1h0M418.8 249.7h0M408.4 251.4h0M428.8 246.3h0M447.9 247.2h0M405.2 247.4h0M441.3 252.3h0M415.8 248.2h0M420.9 251.5h0M427.5 250.0h0M415.7 249.3h0M387.5 245.9h0M443.1 246.6h0M380.5 245.0h0M409.8 251.2h0M442.4 239.4h0M420.5 238.4h0M416.5 244.3h0M432.7 248.9h0M438.8 218.0h0M390.0 243.9h0M422.6 251.4h0M452.8 250.0h0M424.8 239.1h0M414.1 251.3h0M440.4 246.4h0M472.5 241.7h0M438.6 245.2h0M440.5 242.7h0M414.2 250.5h0M428.4 249.2h0M439.0 226.6h0M415.9 249.7h0M459.0 248.6h0M393.2 248.7h0M419.5 251.2h0M391.8 240.1h0M401.1 250.0h0M409.6 251.0h0M402.3 242.3h0M452.1 242.5h0M398.2 241.2h0M440.7 239.3h0M446.9 243.8h0M441.5 252.2h0M431.0 251.0h0M442.2 211.6h0M460.5 244.9h0M447.2 205.9h0M407.5 240.0h0M405.6 243.1h0M455.5 246.1h0M406.7 247.3h0M414.4 252.0h0M432.7 246.8h0M430.6 252.1h0M446.0 226.5h0M410.6 244.2h0M425.4 250.4h0M429.7 250.1h0M392.5 246.9h0M456.4 233.5h0M447.0 240.1h0M436.4 242.0h0M427.2 250.6h0M476.0 245.0h0M461.3 247.3h0M468.2 248.0h0M450.9 247.3h0M408.2 248.3h0M416.9 249.2h0M437.0 252.6h0M403.5 250.1h0M421.5 251.6h0M439.9 240.2h0M436.8 235.3h0M471.2 247.0h0M441.7 226.9h0M411.9 251.5h0M435.2 251.5h0M464.1 243.7h0M420.2 236.7h0M469.5 239.3h0M415.8 251.2h0M426.8 251.6h0M439.1 246.0h0M421.0 250.8h0M468.3 239.6h0M402.8 246.7h0M449.4 251.1h0M412.1 237.4h0M432.5 247.1h0M415.9 245.3h0M404.4 247.4h0M437.4 235.1h0M450.2 250.8h0M446.8 215.9h0M443.1 219.2h0M443.4 246.7h0M478.3 242.5h0M404.3 244.8h0M412.1 250.4h0M447.5 240.8h0M420.0 250.1h0M418.0 251.2h0M434.5 238.9h0M457.9 249.7h0M445.3 234.8h0M427.8 247.8h0M402.1 250.2h0M387.3 241.7h0M460.1 246.5h0M449.9 251.7h0M415.7 248.8h0M370.8 240.4h0M440.5 251.3h0M448.7 247.1h0M400.4 247.4h0M435.6 246.8h0M417.7 249.1h0M417.1 251.2h0M450.9 244.4h0M411.1 244.8h0M415.5 248.1h0M422.8 250.1h0M429.3 248.7h0M436.5 241.5h0M387.2 247.9h0M460.2 245.0h0M403.0 238.9h0M472.0 244.4h0M443.3 246.3h0M437.0 242.6h0M411.4 247.4h0M424.3 249.8h0M435.6 234.8h0M413.6 251.5h0M437.3 232.5h0M404.6 246.3h0M413.8 246.8h0M384.3 233.3h0M410.5 242.9h0M414.6 250.5h0M439.4 238.8h0M405.9 239.0h0M396.8 232.9h0M448.2 251.2h0M436.3 244.0h0M374.9 242.4h0M414.6 248.5h0M425.7 247.2h0M410.9 250.2h0M436.7 238.8h0M437.1 230.2h0M413.8 243.3h0M446.2 242.1h0M418.5 235.1h0M442.4 220.7h0M442.1 225.0h0M469.1 242.6h0M427.9 250.3h0M389.1 235.5h0M429.1 252.2h0M451.9 245.9h0M474.1 246.5h0M421.3 240.8h0M460.5 247.5h0M454.4 250.7h0M410.1 248.2h0M437.6 243.4h0M401.8 246.3h0M430.0 251.4h0M416.2 239.9h0M391.8 244.9h0M452.8 246.9h0M415.8 249.3h0M438.5 243.7h0M411.4 242.2h0M417.5 249.9h0M432.3 250.6h0M398.7 247.9h0M405.3 248.6h0M434.0 243.8h0M438.5 249.1h0M445.6 247.7h0M440.5 220.2h0M406.5 247.5h0M435.1 248.6h0M422.0 241.5h0M423.2 237.2h0M415.9 244.6h0M401.7 249.4h0M446.0 252.0h0M419.5 233.6h0M409.6 248.4h0M422.2 240.1h0M443.4 211.8h0M408.4 245.3h0M434.2 249.9h0M406.5 248.7h0M433.2 251.7h0M433.5 251.8h0M413.8 242.6h0M420.5 249.4h0M414.2 240.7h0M481.5 244.5h0M409.7 251.4h0M407.5 246.5h0M426.9 246.4h0M366.8 240.1h0M434.2 241.5h0M424.7 248.3h0M434.0 252.5h0M412.7 249.8h0M446.4 215.0h0M400.9 248.4h0M398.0 248.2h0M419.0 240.7h0M405.8 246.4h0M433.7 252.5h0M421.9 248.7h0M434.5 240.2h0M397.4 249.5h0M440.9 214.6h0M405.0 238.3h0M419.9 247.7h0M413.1 241.7h0M455.1 249.1h0M402.1 249.3h0M425.8 242.7h0M408.2 244.7h0M441.3 223.0h0M444.1 237.9h0M392.4 248.8h0M450.9 251.1h0M457.5 247.6h0M427.0 250.7h0M429.1 251.5h0M441.6 250.0h0M451.8 243.3h0M447.2 220.1h0M454.0 250.4h0M414.8 237.9h0M467.1 248.6h0M399.6 249.1h0M397.3 247.6h0M415.1 241.1h0M395.8 242.2h0M411.2 246.1h0M434.2 248.5h0M395.4 241.4h0M404.0 242.2h0M433.6 248.1h0M404.6 250.4h0M472.6 239.6h0M439.5 240.7h0M408.1 250.3h0M440.2 235.7h0M388.2 243.6h0M405.4 246.4h0M439.0 246.1h0M424.0 252.6h0M443.7 211.5h0M421.3 250.2h0M462.2 243.8h0M408.1 242.5h0M450.5 247.5h0M381.9 242.0h0M413.3 250.3h0M419.4 241.2h0M390.3 248.4h0M451.2 242.1h0M438.3 236.2h0M443.8 221.4h0M407.8 249.8h0M449.6 239.4h0M362.9 232.1h0M444.3 239.0h0M435.5 244.0h0M403.1 249.8h0M453.7 238.5h0M412.5 245.6h0M446.7 246.9h0M450.8 242.5h0M395.3 249.0h0M419.0 249.4h0M422.5 250.1h0M426.7 246.0h0M383.0 246.6h0M453.2 250.4h0M422.5 252.4h0M389.1 248.1h0M434.2 251.3h0M432.7 245.6h0M391.7 245.9h0M454.6 247.8h0M434.7 242.2h0M428.4 249.4h0M415.0 246.2h0M447.2 251.1h0M418.8 251.7h0M390.7 237.8h0M437.5 234.5h0M422.7 249.0h0M423.5 247.0h0M424.3 246.9h0M412.8 251.0h0M435.5 250.1h0M444.0 239.1h0M441.1 249.3h0M396.5 238.4h0M404.3 251.0h0M458.3 248.2h0M410.7 250.3h0M398.2 248.5h0M416.7 246.5h0M405.0 250.7h0M419.7 238.4h0M403.7 250.9h0M450.6 251.5h0M414.8 243.6h0M410.2 246.9h0M428.2 252.2h0M419.1 249.4h0M409.8 239.2h0M455.3 250.5h0M448.7 247.6h0M395.5 242.9h0M385.4 246.0h0M418.5 240.4h0M442.4 244.8h0M395.4 249.5h0M417.9 247.8h0M441.9 217.8h0M425.2 252.6h0M438.1 247.2h0M411.6 248.6h0M398.8 242.9h0M420.3 250.5h0M416.8 249.6h0M457.7 243.2h0M410.0 245.1h0M442.1 235.9h0M399.6 245.9h0M416.8 251.1h0M376.9 235.0h0M426.4 247.6h0M421.6 242.9h0M353.2 230.8h0M429.3 250.1h0M412.0 251.2h0M437.2 252.3h0M427.7 250.1h0M388.4 247.3h0M412.2 238.4h0M454.5 244.9h0M417.3 239.4h0M426.7 246.1h0M419.4 240.2h0M414.0 247.9h0M426.4 251.2h0M455.9 248.2h0M460.1 234.9h0M419.9 243.5h0M387.1 231.9h0M426.7 247.7h0M420.6 251.0h0M452.7 245.5h0M423.5 245.5h0M390.2 244.2h0M436.9 228.8h0M404.6 236.3h0M396.9 244.6h0M436.8 237.1h0M403.4 250.6h0M444.7 246.5h0M404.1 237.3h0M408.3 244.6h0M384.3 246.1h0M409.1 233.9h0M389.7 244.1h0M393.9 239.5h0M461.6 249.0h0M459.8 240.3h0M436.7 233.9h0M390.3 247.8h0M422.1 249.1h0M438.5 240.5h0M450.7 250.5h0M422.8 241.0h0M451.6 245.4h0M387.9 246.3h0M422.7 248.4h0M427.3 248.0h0M446.0 251.1h0M430.9 251.6h0M412.9 242.9h0M420.7 252.3h0M420.3 251.0h0M444.2 212.5h0M417.4 244.0h0M450.2 245.7h0M438.2 231.6h0M447.7 248.5h0M427.8 250.4h0M432.4 250.7h0M391.5 247.6h0M401.6 239.0h0M404.1 242.2h0M421.3 247.3h0M428.6 251.1h0M455.7 245.7h0M410.6 249.5h0M428.0 249.1h0M374.3 244.0h0M410.9 241.9h0M405.6 239.7h0M411.4 243.4h0M438.2 247.4h0M371.8 243.0h0M419.5 245.8h0M404.2 241.0h0M384.7 246.7h0M393.1 247.0h0M398.8 245.6h0M402.3 243.0h0M464.7 238.3h0M436.4 246.0h0M414.8 251.9h0M425.0 252.1h0M446.2 244.7h0M408.5 236.5h0M381.8 243.2h0M403.4 250.4h0M410.5 249.3h0M414.4 247.3h0M424.3 242.2h0M407.8 246.9h0M452.9 250.7h0M459.6 249.4h0M449.3 249.9h0M413.6 245.6h0M439.1 239.5h0M435.2 246.9h0M393.2 237.3h0M402.8 243.5h0M421.5 252.0h0M414.7 242.5h0M429.2 251.0h0M424.8 251.0h0M446.5 231.4h0M450.7 249.6h0M434.1 250.3h0M440.5 249.1h0M397.7 246.8h0M423.0 250.3h0M491.0 239.4h0M438.0 245.5h0M434.3 244.7h0M411.0 248.9h0M417.7 244.6h0M428.7 250.1h0M447.0 248.9h0M436.9 245.6h0M411.5 245.0h0M419.0 234.9h0M404.8 248.1h0M343.6 231.7h0M453.6 249.4h0M417.5 251.7h0M347.7 235.3h0M433.3 250.1h0M405.6 244.1h0M447.7 250.6h0M441.8 219.3h0M410.4 248.3h0M441.5 220.7h0M437.7 239.5h0M409.0 248.3h0M408.6 241.8h0M365.4 235.5h0M448.8 248.3h0M402.6 250.6h0M393.7 240.1h0M414.1 243.3h0M435.8 245.2h0M400.5 249.8h0M375.5 241.5h0M430.9 252.1h0M367.8 239.8h0M421.7 245.0h0M411.5 249.4h0M398.0 244.3h0M444.1 234.2h0M362.0 239.8h0M415.0 251.5h0M417.3 247.4h0M404.4 250.9h0M416.3 251.6h0M421.3 251.6h0M440.2 235.3h0M393.2 239.2h0M435.2 239.4h0M424.6 252.6h0M457.7 244.3h0M405.6 241.1h0M440.5 252.3h0M463.9 246.1h0M382.2 242.5h0M457.4 247.7h0M392.2 246.2h0M420.9 248.7h0M435.3 251.7h0M444.7 245.5h0M417.2 238.5h0M367.5 237.8h0M439.3 239.0h0M366.8 234.3h0M447.0 242.2h0M451.7 251.2h0M429.9 251.4h0M456.4 241.6h0M415.8 244.6h0M440.4 250.2h0M406.5 246.6h0M456.9 246.5h0M452.5 244.0h0M426.3 251.3h0M403.2 248.8h0M398.9 247.0h0M419.3 250.2h0M439.3 225.3h0M389.4 247.1h0M434.6 251.2h0M437.0 250.4h0M447.1 244.3h0M465.4 248.8h0M449.5 248.2h0M385.9 243.5h0M439.7 248.9h0M417.8 232.2h0M447.9 246.2h0M442.3 240.2h0M436.4 239.8h0M427.5 250.6h0M462.0 241.3h0M435.3 251.0h0M440.6 247.5h0M419.9 232.7h0M419.4 247.8h0M419.5 247.3h0M402.4 246.1h0M394.7 240.6h0M447.9 238.1h0M453.4 248.9h0M436.2 248.9h0M414.8 250.1h0M428.6 246.7h0M443.1 232.2h0M434.9 245.3h0M411.1 247.5h0M372.0 239.8h0M449.3 250.6h0M424.4 243.8h0M404.4 247.5h0M425.7 244.5h0M434.9 243.4h0M395.3 246.3h0M415.1 249.0h0M437.7 249.0h0M448.5 247.6h0M424.8 246.1h0M420.6 247.4h0M441.6 234.3h0M435.1 250.0h0M426.5 252.5h0M403.1 249.0h0M447.7 250.0h0M445.9 247.3h0M413.4 240.8h0M454.8 247.7h0M408.1 248.1h0M439.2 250.3h0M439.6 251.8h0M450.6 236.0h0M441.6 250.3h0M471.2 242.5h0M412.0 251.6h0M399.4 236.5h0M458.4 247.3h0M384.3 247.3h0M452.8 250.3h0M410.7 245.7h0M434.8 235.6h0M410.1 249.6h0M448.0 241.0h0M474.5 230.2h0M391.1 245.8h0M415.5 250.3h0M406.9 241.3h0M419.6 230.6h0M391.3 247.8h0M441.9 249.8h0M398.8 245.2h0M455.2 247.5h0M386.7 242.6h0M417.7 235.7h0M371.9 242.3h0M451.2 244.8h0M412.6 251.8h0M425.8 249.2h0M432.0 250.5h0M430.0 252.2h0M464.4 249.0h0M408.8 250.0h0M390.4 247.0h0M416.4 247.3h0M446.3 248.0h0M425.7 251.4h0M411.2 244.8h0M443.3 241.4h0M418.2 252.2h0M413.4 251.1h0M414.3 251.2h0M424.8 245.0h0M395.5 233.3h0M401.2 250.0h0M412.1 245.8h0M433.5 246.5h0M417.0 243.2h0M435.8 230.9h0M438.2 229.6h0M447.1 162.1h0M420.9 194.7h0M419.0 188.0h0M419.5 177.8h0M418.3 190.9h0M418.1 175.0h0M421.1 228.1h0M442.2 192.6h0" stroke="#000" stroke-opacity="0.78" stroke-width="1.15" stroke-linecap="round"/>
<path d="M403.3 193.6h0M399.1 184.8h0M339.7 225.5h0M393.9 210.8h0M408.4 207.9h0M404.0 197.6h0M384.2 201.7h0M391.7 222.4h0M364.3 211.0h0M388.8 183.2h0M385.0 186.5h0M391.0 182.3h0M389.1 200.3h0M401.5 189.2h0M370.6 158.1h0M382.1 161.8h0M386.3 160.0h0M373.6 216.4h0M379.7 147.5h0M383.9 197.5h0M360.3 189.6h0M363.4 190.9h0M365.5 226.0h0M372.8 200.9h0M381.5 183.8h0M357.9 173.5h0M354.9 199.9h0M355.6 226.8h0M405.1 190.2h0M393.5 218.6h0M405.2 228.8h0M383.6 205.3h0M336.2 181.6h0M372.5 229.6h0M370.3 209.3h0M385.6 209.7h0M362.0 222.6h0M352.5 166.4h0M332.5 219.2h0M412.2 228.7h0M380.2 228.6h0M411.8 227.5h0M350.0 208.6h0M345.3 221.9h0M383.7 181.8h0M330.9 207.4h0M365.9 208.8h0M361.7 195.2h0M370.8 194.2h0M394.2 200.9h0M334.9 229.6h0M385.5 229.8h0M352.9 224.8h0M389.7 229.2h0M403.2 190.4h0M406.5 221.2h0M357.4 202.7h0M334.4 227.9h0M328.7 214.1h0M396.8 216.9h0M391.7 228.7h0M408.9 205.9h0M362.1 212.8h0M361.0 156.4h0M340.2 228.2h0M406.7 202.1h0M334.5 201.5h0M410.0 203.1h0M345.4 225.4h0M395.8 216.0h0M387.3 202.9h0M388.5 211.0h0M378.8 202.6h0M356.7 205.6h0M370.3 171.1h0M381.0 220.3h0M346.8 221.6h0M410.7 229.4h0M389.5 190.9h0M412.7 212.3h0M403.1 227.6h0M346.4 192.2h0M402.2 207.7h0M363.4 221.1h0M385.6 219.2h0M378.1 212.0h0M382.0 224.2h0M396.6 205.4h0M395.0 227.6h0M384.7 176.4h0M366.7 196.3h0M406.3 211.4h0M332.7 199.0h0M380.1 205.2h0M376.8 209.9h0M328.8 229.0h0M339.6 227.4h0M381.6 175.2h0M407.3 202.1h0M407.8 220.2h0M413.5 183.8h0M361.3 227.7h0M339.1 228.8h0M367.8 214.9h0M341.6 221.3h0M403.5 227.5h0M375.8 195.7h0M394.1 200.6h0M376.0 169.5h0M371.5 195.5h0M391.9 149.3h0M334.3 189.3h0M333.5 226.2h0M398.3 166.1h0M357.1 229.8h0M377.7 204.9h0M365.0 227.2h0M409.0 209.7h0M407.8 210.9h0M374.6 202.1h0M362.7 217.2h0M392.3 155.2h0M394.4 218.9h0M402.1 204.0h0M384.3 218.6h0M353.7 229.7h0M350.0 205.1h0M366.2 183.5h0M386.4 203.5h0M398.9 169.2h0M370.9 199.3h0M347.2 223.1h0M391.3 214.9h0M403.8 216.3h0M373.6 129.5h0M385.8 209.5h0M383.4 178.2h0M412.0 215.4h0M397.6 218.6h0M348.6 214.1h0M365.9 222.8h0M337.0 225.6h0M329.0 223.2h0M392.0 194.0h0M413.5 179.0h0M390.7 225.1h0M343.1 206.7h0M373.5 221.0h0M366.6 173.5h0M362.3 221.8h0M397.0 188.5h0M409.4 206.4h0M379.3 227.8h0M357.1 199.1h0M411.7 217.1h0M409.8 218.2h0M369.9 170.9h0M361.4 229.1h0M338.8 228.2h0M396.6 223.6h0M402.3 183.9h0M374.5 193.9h0M413.4 219.4h0M405.0 167.0h0M355.1 222.8h0M408.8 203.0h0M389.3 178.3h0M388.5 225.4h0M395.0 225.7h0M371.3 229.2h0M377.0 204.2h0M406.4 194.8h0M378.1 204.0h0M397.0 203.1h0M385.8 121.5h0M333.7 189.2h0M356.0 215.3h0M353.1 203.2h0M391.8 204.9h0M359.5 217.1h0M406.3 215.0h0M400.7 205.6h0M396.4 198.5h0M400.1 179.5h0M374.3 198.0h0M383.5 226.6h0M398.7 177.1h0M411.9 220.9h0M395.1 218.5h0M386.2 190.6h0M391.5 208.4h0M384.3 163.6h0M414.9 214.4h0M353.5 182.7h0M412.4 195.3h0M415.2 210.0h0M344.1 158.1h0M383.5 220.4h0M355.5 213.2h0M359.7 224.1h0M349.2 208.0h0M386.9 228.4h0M396.1 222.9h0M383.2 196.9h0M397.6 209.9h0M367.1 216.8h0M345.7 214.1h0M343.6 176.5h0M403.2 214.2h0M368.8 229.3h0M406.7 216.9h0M371.2 213.8h0M350.8 197.9h0M408.9 217.3h0M376.3 197.2h0M364.8 225.4h0M332.8 228.1h0M390.1 222.3h0M361.8 187.3h0M403.6 200.0h0M396.0 186.7h0M367.3 197.5h0M347.0 195.1h0M353.3 205.7h0M398.8 228.7h0M409.9 228.4h0M399.6 212.3h0M392.6 204.3h0M401.5 181.8h0M345.0 223.0h0M375.1 219.5h0M336.9 198.7h0M400.3 226.9h0M362.2 154.0h0M392.0 224.9h0M409.8 229.3h0M380.1 220.6h0M356.4 139.3h0M404.3 229.0h0M348.2 213.9h0M338.3 195.7h0M338.6 222.5h0M349.0 197.3h0M386.6 194.0h0M342.4 226.2h0M364.7 171.9h0M392.8 220.2h0M366.2 185.5h0M371.2 154.3h0M456.5 224.1h0M451.4 225.4h0M458.9 226.2h0M456.6 229.5h0M451.9 224.0h0M449.9 223.5h0M463.1 218.1h0M450.1 212.1h0M456.1 225.5h0M450.8 205.8h0M449.0 190.1h0M450.2 229.0h0M450.2 224.3h0M461.5 227.9h0M454.8 221.3h0M448.6 192.0h0M448.1 226.2h0M452.7 221.4h0M450.7 228.7h0M463.9 227.6h0M449.1 226.1h0M450.0 163.7h0M450.2 169.5h0M452.6 224.6h0M447.6 228.1h0M451.7 229.1h0M451.5 227.0h0M454.4 215.0h0M453.0 220.0h0M448.5 202.9h0M447.9 229.0h0M451.5 229.3h0M451.7 222.2h0M447.8 220.3h0M457.4 229.4h0M450.0 225.1h0M449.4 192.6h0M451.0 227.0h0M452.5 207.3h0M455.0 228.3h0M448.4 186.1h0M448.5 205.5h0M457.0 227.7h0M450.0 229.8h0M447.5 163.8h0M451.7 228.5h0M447.4 211.9h0M448.3 216.0h0M452.1 213.4h0M457.9 227.4h0M450.6 224.7h0M453.2 201.8h0M460.4 223.6h0M457.1 178.5h0M451.8 163.4h0M451.5 228.8h0M451.1 223.5h0M455.4 227.0h0M464.9 210.3h0M459.2 225.7h0M458.5 229.7h0M449.4 228.5h0M449.7 151.2h0M452.3 222.7h0M461.6 216.8h0M448.6 202.9h0M448.9 185.5h0M461.1 187.0h0M450.7 229.5h0M451.1 223.9h0M452.7 219.1h0M464.6 187.5h0M453.8 211.2h0M475.3 216.0h0M449.9 223.6h0M452.8 212.5h0M451.7 227.2h0M449.9 187.6h0M452.6 224.6h0M451.5 226.1h0M456.2 211.8h0M449.5 216.4h0M456.0 223.4h0M456.0 210.0h0M450.3 219.3h0M459.5 229.5h0M452.9 174.0h0M459.0 189.7h0M451.5 224.1h0M455.1 219.6h0M453.2 229.1h0M447.8 214.7h0M453.1 229.2h0M448.5 228.7h0M448.0 179.3h0M448.1 227.3h0M450.5 166.4h0M448.2 225.3h0M453.9 228.6h0M457.1 225.2h0M449.9 229.6h0M458.8 203.9h0M450.1 192.9h0M452.6 229.6h0M449.0 193.6h0M453.0 229.0h0M449.9 225.8h0M454.3 224.5h0M456.2 198.1h0M453.8 214.8h0M451.0 214.3h0M459.1 213.7h0M448.4 222.0h0M450.5 218.4h0M455.5 228.2h0M455.1 228.4h0M450.6 228.3h0M459.1 220.2h0M449.5 229.4h0M455.7 208.8h0M450.4 229.7h0M452.7 207.1h0M454.7 184.1h0M451.7 228.2h0M452.9 228.3h0M450.3 224.7h0M447.4 225.6h0M453.2 226.5h0M451.0 229.3h0M470.0 218.2h0M448.7 223.8h0M455.9 173.6h0M457.1 194.9h0M448.9 224.0h0M457.4 221.4h0M448.5 226.0h0M456.3 229.0h0M465.6 217.0h0M447.9 210.9h0M462.3 204.6h0M455.1 208.7h0M454.0 223.2h0M449.3 226.7h0M456.3 204.2h0M464.4 227.7h0M456.0 215.8h0M452.2 211.5h0M451.2 227.7h0M456.7 218.7h0M452.5 222.6h0M448.4 221.5h0M447.7 225.4h0M452.3 221.3h0M450.0 219.2h0M459.1 210.9h0M453.6 207.4h0M452.2 193.4h0M453.3 228.1h0M449.8 189.7h0M457.5 198.7h0M450.7 218.9h0M452.6 225.7h0M455.7 198.1h0M450.2 172.8h0M448.2 218.3h0M448.3 219.9h0M451.6 190.6h0M460.5 226.8h0M456.4 177.8h0M455.0 215.5h0M454.9 228.9h0M448.0 228.4h0M472.7 220.0h0M449.3 200.7h0" stroke="#c81818" stroke-opacity="0.78" stroke-width="1.2" stroke-linecap="round"/><path d="M367.3 180.3h0M366.8 225.2h0M408.7 203.2h0M396.9 195.8h0M342.1 228.9h0M378.8 154.5h0M394.7 222.7h0M368.5 133.5h0M402.5 220.0h0M394.4 216.2h0M339.0 193.4h0M379.2 182.8h0M399.8 213.4h0M376.3 224.7h0M380.0 192.1h0M333.8 229.4h0M378.0 221.6h0M388.0 217.1h0M340.1 191.6h0M372.7 219.6h0M368.7 184.6h0M350.1 207.9h0M369.5 217.6h0M359.8 222.9h0M328.3 219.1h0M371.3 152.7h0M361.1 158.6h0M395.1 217.6h0M411.0 212.5h0M364.5 201.7h0M410.9 207.6h0M342.0 161.1h0M405.2 217.4h0M401.9 194.3h0M384.6 224.2h0M400.2 226.0h0M365.1 204.4h0M362.2 149.7h0M409.2 229.2h0M363.7 210.9h0M339.6 210.1h0M369.0 210.1h0M386.7 217.9h0M395.8 162.5h0M408.5 208.3h0M402.8 218.4h0M390.8 193.5h0M410.1 226.6h0M396.2 200.7h0M359.6 179.4h0M375.3 225.8h0M343.3 219.3h0M375.7 223.8h0M386.8 207.3h0M366.6 205.7h0M362.2 228.6h0M410.8 187.6h0M395.4 184.4h0M347.0 218.8h0M368.8 226.4h0M386.6 223.1h0M399.2 181.1h0M367.8 217.8h0M389.7 224.9h0M366.4 211.2h0M329.6 224.2h0M408.4 214.2h0M355.5 225.7h0M400.1 224.9h0M404.4 210.3h0M352.5 197.5h0M338.1 229.4h0M333.1 218.2h0M400.0 221.1h0M372.6 207.4h0M343.3 221.0h0M394.8 160.6h0M412.5 224.5h0M392.8 199.9h0M407.7 215.0h0M346.1 197.0h0M385.0 198.2h0M363.6 119.6h0M327.7 213.1h0M363.8 202.2h0M379.8 216.4h0M386.0 221.8h0M410.9 209.9h0M370.2 174.7h0M407.8 181.9h0M369.7 218.4h0M393.2 166.2h0M358.5 152.2h0M397.0 163.0h0M402.5 229.3h0M386.5 227.9h0M408.3 211.1h0M390.8 150.3h0M360.0 220.3h0M386.9 219.5h0M411.7 229.7h0M400.0 193.7h0M347.7 197.9h0M372.9 229.1h0M363.7 228.3h0M384.7 229.1h0M409.1 219.2h0M357.1 221.3h0M343.1 196.8h0M405.2 182.4h0M407.7 223.4h0M411.5 191.3h0M355.9 195.8h0M351.2 229.2h0M415.2 212.5h0M410.7 221.4h0M404.2 220.0h0M330.2 227.8h0M337.8 222.3h0M359.4 191.9h0M375.2 204.2h0M351.1 153.2h0M373.7 193.5h0M333.2 225.0h0M387.3 182.5h0M389.9 189.0h0M405.8 228.6h0M388.1 125.9h0M389.3 212.1h0M390.7 225.7h0M378.5 227.0h0M333.9 229.6h0M393.2 221.1h0M361.6 192.4h0M386.8 213.5h0M340.7 229.1h0M402.2 162.8h0M371.1 212.6h0M373.0 160.0h0M398.7 148.6h0M365.0 178.9h0M397.9 212.8h0M352.2 222.9h0M351.5 160.1h0M374.9 211.9h0M399.4 187.8h0M397.3 221.6h0M391.9 219.9h0M392.5 136.2h0M378.3 212.0h0M383.1 155.5h0M351.3 212.8h0M376.0 221.0h0M333.8 189.6h0M382.0 220.1h0M400.7 188.4h0M398.7 226.7h0M395.4 217.4h0M385.6 212.4h0M383.4 192.8h0M374.7 213.1h0M350.6 226.3h0M370.4 177.2h0M399.2 209.1h0M344.7 214.6h0M401.6 219.6h0M374.1 214.6h0M368.9 208.1h0M402.8 202.3h0M371.5 227.0h0M414.3 223.0h0M338.1 193.1h0M407.3 229.7h0M397.2 214.7h0M402.5 178.7h0M345.7 208.5h0M383.8 229.5h0M359.1 186.3h0M389.6 202.9h0M397.3 149.8h0M403.6 229.5h0M341.3 226.6h0M396.2 206.8h0M365.3 228.6h0M400.6 228.5h0M349.3 208.1h0M376.4 188.3h0M386.3 171.8h0M380.2 220.2h0M403.2 206.5h0M389.0 217.3h0M394.8 162.6h0M369.3 226.4h0M330.8 221.2h0M404.3 161.0h0M377.6 224.4h0M348.7 223.1h0M414.1 227.6h0M404.8 185.5h0M362.0 217.2h0M376.3 184.7h0M394.5 198.8h0M370.5 221.9h0M332.2 226.5h0M390.4 175.7h0M339.4 196.3h0M377.8 223.3h0M368.0 145.3h0M394.1 225.2h0M397.1 202.5h0M381.7 215.9h0M375.0 219.1h0M406.6 224.5h0M362.4 219.5h0M363.7 194.9h0M413.1 205.4h0M389.8 219.4h0M347.3 208.5h0M344.6 228.0h0M378.3 195.3h0M335.6 192.2h0M374.5 218.2h0M371.0 182.3h0M388.1 176.4h0M410.4 185.8h0M329.6 200.3h0M358.8 221.6h0M373.5 184.4h0M391.5 222.1h0M400.3 212.3h0M388.0 192.8h0M403.4 211.1h0M388.8 218.2h0M404.8 148.0h0M362.4 183.6h0M409.5 183.8h0M370.8 227.2h0M374.1 202.3h0M402.5 223.7h0M414.7 228.6h0M389.6 184.8h0M384.6 201.9h0M374.0 200.6h0M408.0 223.3h0M396.3 189.2h0M393.2 229.8h0M404.1 222.2h0M349.1 172.4h0M456.1 187.2h0M448.9 173.9h0M449.6 223.7h0M451.3 168.6h0M448.7 224.9h0M455.1 208.1h0M455.8 228.9h0M449.0 126.3h0M452.8 201.2h0M456.5 224.3h0M450.7 158.1h0M452.1 227.0h0M448.4 216.2h0M449.0 229.7h0M449.5 219.7h0M451.4 228.6h0M456.4 210.1h0M464.2 229.6h0M449.0 219.1h0M449.7 220.9h0M450.4 183.8h0M452.8 226.7h0M451.9 219.2h0M456.3 177.4h0M453.5 209.7h0M449.8 226.7h0M453.3 227.1h0M458.4 228.6h0M448.5 188.3h0M451.7 225.8h0M466.0 213.1h0M449.4 185.8h0M448.8 170.7h0M454.6 216.5h0M453.6 212.0h0M449.7 225.1h0M452.0 228.0h0M456.9 229.9h0M453.9 229.6h0M447.9 197.2h0M450.7 179.2h0M450.5 227.8h0M452.6 228.7h0M451.7 207.5h0M489.5 222.2h0M453.2 196.0h0M454.5 187.8h0M456.6 178.8h0M448.0 225.6h0M452.5 228.5h0M451.3 222.2h0M450.1 226.3h0M470.4 217.4h0M452.8 215.3h0M450.3 227.5h0M452.3 197.1h0M449.7 198.8h0M453.2 180.1h0M453.7 209.8h0M448.5 229.7h0M449.5 195.3h0M463.0 222.1h0M454.1 228.8h0M455.8 229.5h0M460.7 197.6h0M453.8 229.8h0M452.3 227.3h0M449.8 215.4h0M456.7 225.4h0M450.4 216.1h0M474.5 226.1h0M456.8 229.5h0M449.9 207.1h0M456.7 202.6h0M451.8 228.5h0M452.0 229.1h0M457.2 215.6h0M447.5 219.0h0M448.6 217.1h0M453.7 193.8h0M454.4 222.8h0M448.5 203.1h0M461.4 227.9h0M456.2 229.3h0M478.2 225.5h0M455.8 225.7h0M451.6 177.2h0M450.7 219.5h0M450.2 226.6h0M456.9 229.2h0M473.0 228.2h0M459.5 228.2h0M451.1 221.7h0M456.7 229.7h0M453.9 224.6h0M451.9 228.0h0M448.7 229.4h0M456.5 178.5h0M465.0 228.3h0M457.1 229.7h0M447.6 219.9h0M452.0 227.4h0M464.6 191.3h0M456.5 227.6h0M453.2 226.9h0M452.4 229.9h0M450.6 224.6h0M450.6 220.4h0M453.9 208.7h0M449.3 211.3h0M450.3 228.2h0M448.1 193.3h0M448.3 145.2h0M451.4 224.2h0M449.6 225.4h0M449.3 226.1h0M449.2 204.5h0M448.2 228.1h0M464.8 229.2h0M474.6 227.4h0M447.8 178.0h0M451.8 229.5h0M455.8 227.0h0M447.4 218.5h0M452.2 221.8h0M449.8 224.5h0M453.0 222.4h0M454.6 167.8h0M456.6 214.4h0M450.8 205.7h0M452.2 212.4h0M467.4 226.9h0M449.5 227.7h0M449.4 216.0h0M451.4 190.1h0M455.3 219.5h0M453.9 212.9h0M456.9 228.4h0M448.6 163.1h0M452.2 216.7h0M465.3 228.6h0M447.8 213.1h0M453.3 229.2h0M449.0 193.1h0M449.5 225.2h0M454.2 223.9h0M451.1 228.1h0M448.6 153.1h0M449.1 200.7h0M454.7 227.2h0M449.9 226.1h0M476.1 220.7h0M449.7 212.3h0M448.6 217.7h0M448.1 229.3h0M456.4 216.9h0M455.1 229.4h0M451.0 201.3h0M459.0 214.6h0M448.6 224.8h0M452.1 219.6h0M453.5 225.7h0M448.8 190.2h0M457.3 228.9h0M463.3 210.2h0M451.6 207.5h0M447.5 218.9h0M450.9 220.2h0M450.7 227.9h0M449.3 223.9h0M448.3 156.9h0M449.0 227.5h0M449.9 226.9h0M447.5 229.1h0M448.2 224.9h0" stroke="#c81818" stroke-opacity="0.78" stroke-width="1.2" stroke-linecap="round"/><path d="M401.9 181.1h0M393.9 178.6h0M390.5 151.4h0M407.6 205.4h0M408.6 224.9h0M383.6 217.6h0M393.1 137.9h0M372.4 192.5h0M351.2 183.5h0M377.0 193.2h0M411.8 219.1h0M385.7 187.3h0M366.6 202.0h0M346.5 212.6h0M345.8 187.4h0M407.8 191.4h0M375.2 203.0h0M379.8 216.5h0M346.9 172.1h0M355.2 213.0h0M382.8 212.0h0M395.0 206.6h0M383.4 158.0h0M401.9 191.5h0M381.5 178.4h0M386.4 215.5h0M401.6 213.1h0M392.8 199.2h0M392.7 183.5h0M350.8 221.5h0M407.2 215.5h0M392.6 132.3h0M400.0 203.8h0M414.0 201.0h0M348.4 177.1h0M402.7 208.4h0M368.6 193.2h0M386.9 214.3h0M379.5 205.9h0M336.9 178.3h0M391.3 220.5h0M394.4 223.7h0M402.0 229.6h0M370.8 166.2h0M367.1 198.1h0M329.8 217.8h0M404.2 168.7h0M365.1 206.9h0M392.0 124.7h0M407.5 217.7h0M331.4 225.8h0M395.8 208.4h0M391.4 220.3h0M390.1 215.1h0M388.1 222.9h0M383.0 195.1h0M381.8 193.2h0M388.5 220.1h0M367.9 146.5h0M407.6 208.9h0M384.4 221.4h0M399.0 228.5h0M409.9 225.8h0M354.3 222.8h0M337.6 217.4h0M393.5 228.5h0M390.6 219.8h0M387.2 228.8h0M393.7 210.0h0M389.8 181.1h0M402.6 210.2h0M393.5 220.8h0M399.1 213.6h0M397.7 221.7h0M392.1 217.2h0M364.4 208.8h0M387.3 226.3h0M356.0 219.9h0M415.1 209.0h0M403.4 215.1h0M360.5 203.4h0M370.2 212.5h0M383.2 193.4h0M412.5 214.2h0M344.9 218.1h0M352.8 209.1h0M359.4 166.2h0M381.3 191.1h0M380.0 226.2h0M404.1 228.2h0M386.0 181.0h0M377.1 228.0h0M416.1 228.2h0M397.9 220.1h0M381.9 198.2h0M385.1 225.8h0M385.0 139.4h0M341.8 219.4h0M389.9 147.7h0M370.1 127.5h0M389.0 185.0h0M376.5 180.2h0M396.2 199.5h0M348.1 218.6h0M373.8 157.4h0M406.0 229.0h0M328.3 224.4h0M397.7 216.2h0M380.5 199.2h0M364.4 189.8h0M362.9 205.8h0M411.3 198.3h0M414.1 209.4h0M368.0 182.1h0M349.8 224.2h0M344.1 213.9h0M360.4 165.0h0M412.5 218.5h0M404.0 223.8h0M393.5 215.7h0M371.8 167.5h0M332.0 225.7h0M329.8 208.9h0M381.6 194.9h0M347.6 195.2h0M409.8 225.0h0M385.8 206.5h0M351.0 216.7h0M388.7 205.0h0M389.1 197.1h0M386.3 224.4h0M372.6 224.5h0M337.2 207.9h0M415.6 220.0h0M385.9 185.6h0M394.6 147.2h0M408.3 194.6h0M334.7 206.3h0M392.7 206.3h0M330.9 213.2h0M405.5 220.6h0M387.6 222.9h0M383.8 220.8h0M371.5 172.0h0M354.7 223.8h0M341.0 226.2h0M377.2 188.1h0M374.4 159.3h0M410.0 223.4h0M389.1 216.3h0M361.3 225.5h0M360.0 214.7h0M333.1 227.6h0M329.2 224.9h0M338.8 225.2h0M387.8 222.7h0M355.4 204.4h0M371.0 229.7h0M378.7 188.5h0M409.6 181.4h0M339.1 219.0h0M376.3 152.4h0M398.8 227.1h0M357.5 219.3h0M361.7 154.5h0M402.0 167.9h0M412.3 226.3h0M355.6 216.4h0M400.1 220.8h0M406.3 227.5h0M393.4 227.4h0M380.9 172.8h0M370.0 216.8h0M394.8 228.8h0M353.1 218.3h0M375.7 192.7h0M339.9 205.5h0M388.5 160.9h0M341.2 224.5h0M326.6 223.0h0M397.4 209.0h0M360.2 224.0h0M332.8 225.8h0M399.4 213.5h0M366.1 225.0h0M399.9 227.8h0M352.1 206.5h0M389.8 171.8h0M365.7 180.1h0M407.7 228.3h0M373.8 220.3h0M383.4 211.0h0M403.2 228.7h0M387.1 228.3h0M401.1 222.7h0M334.3 207.0h0M406.0 211.0h0M328.0 209.7h0M373.9 210.2h0M348.9 218.4h0M411.0 216.0h0M337.5 228.4h0M367.6 198.8h0M385.3 197.1h0M410.3 216.3h0M392.2 226.1h0M368.3 217.0h0M354.5 211.4h0M408.5 228.5h0M341.3 210.8h0M374.0 219.1h0M396.7 158.9h0M402.8 225.6h0M401.0 223.6h0M380.9 187.4h0M354.5 199.7h0M379.1 167.5h0M340.1 174.5h0M401.0 208.8h0M336.4 176.4h0M386.9 125.7h0M365.2 213.9h0M401.7 228.6h0M363.1 228.5h0M409.7 219.7h0M385.5 153.0h0M391.8 214.4h0M408.9 198.4h0M359.4 222.4h0M344.3 227.2h0M391.4 194.9h0M397.4 212.2h0M407.1 180.9h0M405.3 197.6h0M377.4 226.7h0M398.9 184.8h0M408.5 222.0h0M373.4 197.6h0M410.8 199.6h0M378.2 194.4h0M369.9 217.5h0M356.6 215.5h0M401.7 191.3h0M380.3 202.3h0M366.8 213.4h0M366.1 212.2h0M375.5 214.5h0M402.8 151.7h0M455.3 219.3h0M451.2 229.1h0M448.6 225.4h0M451.1 221.2h0M449.8 229.0h0M451.0 220.8h0M450.8 225.4h0M453.2 218.1h0M458.0 221.1h0M453.3 177.0h0M449.4 228.9h0M451.9 228.9h0M447.6 214.3h0M452.0 189.8h0M448.6 218.6h0M452.3 224.8h0M452.5 143.5h0M451.7 214.2h0M449.2 228.7h0M459.5 228.1h0M450.6 222.0h0M448.3 222.7h0M448.0 229.4h0M450.4 229.7h0M457.7 205.7h0M450.1 224.5h0M451.4 213.1h0M456.6 196.1h0M451.6 209.0h0M458.4 221.8h0M457.3 226.5h0M449.4 175.8h0M455.5 229.6h0M449.5 224.5h0M468.3 210.2h0M452.7 224.6h0M451.2 222.6h0M451.6 171.2h0M450.6 210.1h0M447.4 217.1h0M455.0 224.6h0M448.5 228.8h0M459.4 220.7h0M450.9 217.7h0M453.8 223.9h0M457.2 224.4h0M452.0 218.6h0M467.8 223.8h0M456.3 228.3h0M455.3 181.2h0M449.8 229.4h0M449.9 222.0h0M448.0 193.1h0M449.1 159.3h0M456.3 226.7h0M449.6 227.6h0M455.8 222.7h0M455.6 218.0h0M462.4 229.2h0M452.7 145.8h0M452.3 226.8h0M455.9 228.0h0M451.1 222.6h0M450.3 188.7h0M461.9 199.7h0M454.0 227.2h0M450.6 220.7h0M455.9 227.8h0M463.8 208.3h0M460.9 223.9h0M447.8 223.4h0M448.4 226.3h0M449.4 228.7h0M453.2 228.8h0M475.3 216.1h0M452.6 194.6h0M454.5 214.0h0M449.5 188.2h0M463.3 226.1h0M449.6 219.3h0M448.4 221.1h0M451.8 221.9h0M451.2 220.1h0M454.5 194.1h0M473.7 229.4h0M450.5 228.8h0M447.4 215.1h0M449.2 180.9h0M450.2 228.8h0M448.7 224.0h0M459.5 209.0h0M461.1 213.0h0M458.1 212.1h0M449.5 227.6h0M457.1 227.1h0M454.3 228.8h0M448.6 222.7h0M449.3 216.4h0M449.4 191.1h0M453.5 228.3h0M450.2 196.8h0M457.3 219.5h0M457.0 229.7h0M449.8 222.9h0M449.7 227.8h0M451.4 221.5h0M450.3 192.3h0M458.2 216.7h0M450.4 229.8h0M452.9 229.4h0M449.2 196.4h0M453.5 211.8h0M451.4 227.7h0M448.7 221.7h0M450.7 223.4h0M452.2 218.5h0M448.4 224.4h0M448.0 217.8h0M452.1 218.1h0M459.9 212.3h0M461.6 225.1h0M448.2 213.6h0M449.8 228.3h0M457.5 206.0h0M449.3 221.4h0M447.4 225.2h0M448.1 228.0h0M455.4 219.4h0M448.7 229.7h0M451.2 211.3h0M450.5 223.3h0M456.7 212.0h0M450.8 209.5h0M452.3 195.7h0M449.0 229.9h0M457.0 219.9h0M454.9 179.2h0M450.9 203.0h0M457.3 228.6h0M449.2 199.6h0M447.7 229.0h0M449.3 225.5h0M457.3 225.5h0M450.8 222.6h0M453.7 222.2h0M455.9 219.5h0M448.8 200.5h0M461.0 216.8h0M453.9 228.4h0M469.4 225.5h0M455.7 228.8h0M453.7 225.3h0M448.9 229.2h0M453.2 208.6h0M449.6 224.7h0M456.2 225.7h0M448.1 216.6h0M459.8 218.1h0M448.2 166.5h0M448.8 229.8h0M447.7 190.0h0M451.9 225.1h0M474.5 229.1h0M447.8 177.1h0M449.9 186.4h0M448.6 226.7h0M489.4 228.1h0M452.3 228.3h0M449.1 200.7h0M449.9 223.7h0M452.1 227.5h0M453.2 172.3h0M459.2 205.6h0M449.0 226.8h0M451.2 227.3h0" stroke="#c81818" stroke-opacity="0.78" stroke-width="1.2" stroke-linecap="round"/>
</g>
<g stroke="#999" stroke-width="1" fill="none">
<rect x="318" y="72.5" width="198" height="187"/>
</g>
<g stroke="#777" stroke-width="0.8" stroke-dasharray="1.2 1.3" fill="none">
<path d="M318 229.9H516M416.3 72.5V259.5M447.3 72.5V259.5"/>
</g>
<!-- sample labels -->
<g font-size="10.5" font-weight="bold" stroke-width="0.25">
<text transform="translate(24.3 413) rotate(-90) scale(0.885 1)" text-anchor="end"><tspan fill="#d8142a" stroke="#d8142a">MDS11</tspan><tspan fill="#111" stroke="#111"> LTHSC</tspan></text><text transform="translate(47.3 413) rotate(-90) scale(0.885 1)" text-anchor="end"><tspan fill="#d8142a" stroke="#d8142a">MDS11</tspan><tspan fill="#111" stroke="#111"> STHSC</tspan></text><text transform="translate(70.3 413) rotate(-90) scale(0.885 1)" text-anchor="end"><tspan fill="#d8142a" stroke="#d8142a">MDS5</tspan><tspan fill="#111" stroke="#111"> HSC</tspan></text><text transform="translate(93.3 413) rotate(-90) scale(0.885 1)" text-anchor="end"><tspan fill="#2038a8" stroke="#2038a8">CONTROL2</tspan><tspan fill="#111" stroke="#111"> LTHSC</tspan></text><text transform="translate(116.3 413) rotate(-90) scale(0.885 1)" text-anchor="end"><tspan fill="#2038a8" stroke="#2038a8">CONTROL3</tspan><tspan fill="#111" stroke="#111"> LTHSC</tspan></text><text transform="translate(139.3 413) rotate(-90) scale(0.885 1)" text-anchor="end"><tspan fill="#2038a8" stroke="#2038a8">CONTROL1</tspan><tspan fill="#111" stroke="#111"> LTHSC</tspan></text><text transform="translate(162.3 413) rotate(-90) scale(0.885 1)" text-anchor="end"><tspan fill="#2038a8" stroke="#2038a8">CONTROL1</tspan><tspan fill="#111" stroke="#111"> STHSC</tspan></text><text transform="translate(185.3 413) rotate(-90) scale(0.885 1)" text-anchor="end"><tspan fill="#2038a8" stroke="#2038a8">CONTROL2</tspan><tspan fill="#111" stroke="#111"> STHSC</tspan></text><text transform="translate(208.3 413) rotate(-90) scale(0.885 1)" text-anchor="end"><tspan fill="#2038a8" stroke="#2038a8">CONTROL3</tspan><tspan fill="#111" stroke="#111"> STHSC</tspan></text>
</g>
<!-- volcano axes text -->
<g fill="#1a1a1a" stroke="#1a1a1a" stroke-width="0.3" font-size="13" text-anchor="middle">
<text transform="translate(356 92.3) scale(0.89 1)">Hyper</text><text transform="translate(356 108.6) scale(0.89 1)">methylated</text><text transform="translate(356 124.4) scale(0.89 1)">loci (745)</text>
<text transform="translate(480 92.3) scale(0.89 1)">Hypo</text><text transform="translate(480 108.6) scale(0.89 1)">methylated</text><text transform="translate(480 124.4) scale(0.89 1)">loci (524)</text>
</g>
<g fill="#1a1a1a" stroke="#1a1a1a" stroke-width="0.15" font-size="11.8" text-anchor="middle">
<text transform="translate(423 300.2) scale(0.955 1)">Difference in mean methylation</text>
<text transform="translate(423.5 315.2) scale(0.955 1)">(MDS-Controls)</text>
</g>
<text transform="translate(292.5 166.7) rotate(-90)" text-anchor="middle" font-size="10" fill="#1a1a1a" stroke="#1a1a1a" stroke-width="0.15">Significance of difference (-Log2 (P Value))</text>
<g stroke="#999" stroke-width="1" fill="none">
<path d="M313.7 252.8H318M313.7 217.5H318M313.7 182.2H318M313.7 146.9H318M313.7 111.6H318M313.7 76.3H318M338.8 260V264M369.8 260V264M400.8 260V264M431.8 260V264M462.8 260V264M493.8 260V264"/>
</g>
<g fill="#333" stroke="#333" stroke-width="0.2" font-size="7" text-anchor="middle">
<text transform="translate(309.8 252.8) rotate(-90)">0</text><text transform="translate(309.8 217.5) rotate(-90)">2</text><text transform="translate(309.8 182.2) rotate(-90)">4</text><text transform="translate(309.8 146.9) rotate(-90)">6</text><text transform="translate(309.8 111.6) rotate(-90)">8</text><text transform="translate(309.8 76.3) rotate(-90)">10</text><text x="338.8" y="276">-6</text><text x="369.8" y="276">-4</text><text x="400.8" y="276">-2</text><text x="431.8" y="276">0</text><text x="462.8" y="276">2</text><text x="493.8" y="276">4</text>
</g>
</svg>
</body></html>
